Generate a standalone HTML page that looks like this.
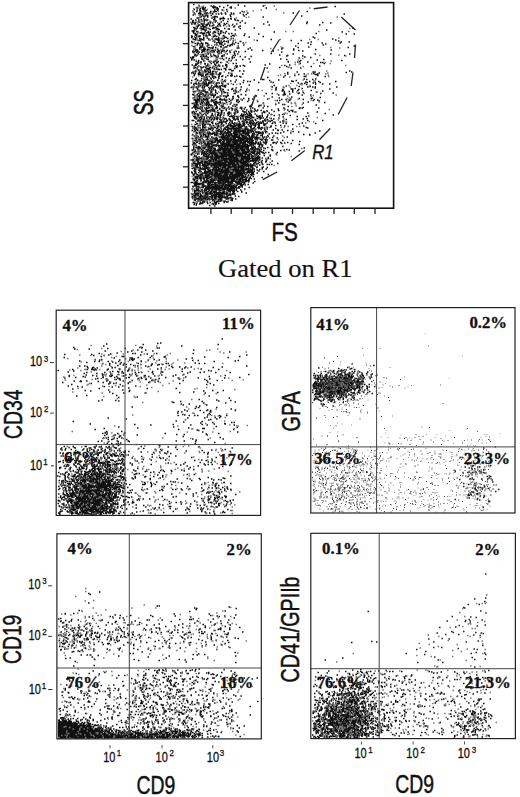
<!DOCTYPE html>
<html><head><meta charset="utf-8"><style>html,body{margin:0;padding:0;background:#fff;overflow:hidden}svg{display:block}</style></head>
<body><svg width="520" height="797" viewBox="0 0 520 797">
<rect width="520" height="797" fill="#fff"/>
<path transform="scale(.5)" stroke="#111" stroke-width="3.2" d="M386 9h3m86 1h3m-24 1h3m-60 1h3m21 0h3m2 0h3m59 0h3m-53 1h3m-36 1h3m16 0h3m1 0h3m-2 0h3m29 0h3m-72 1h3m14 0h3m13 0h3m0 0h3m-3 0h3m2 0h3m10 0h3m10 0h3m-68 1h3m6 0h3m20 0h3m3 0h3m26 0h3m-65 1h3m3 0h3m-4 1h3m1 0h3m21 0h3m-2 0h3m-1 0h3m-51 1h3m15 0h3m-2 0h3m43 0h3m-62 1h3m2 0h3m27 0h3m12 0h3m-47 1h3m4 0h3m2 0h3m14 0h3m3 0h3m-38 1h3m6 0h3m-2 0h3m-20 1h3m25 0h3m4 0h3m0 0h3m-2 0h3m19 0h3m27 0h3m-60 1h3m-31 1h3m-14 1h3m9 0h3m6 0h3m-1 0h3m0 0h3m3 0h3m19 0h3m5 0h3m9 0h3m15 0h3m12 0h3m-101 1h3m-2 0h3m0 0h3m20 0h3m40 0h3m-60 1h3m12 0h3m4 0h3m2 0h3m3 0h3m5 0h3m9 0h3m-76 1h3m11 0h3m4 0h3m72 0h3m3 0h3m-109 1h3m11 0h3m2 0h3m5 0h3m44 0h3m-52 1h3m1 0h3m4 0h3m-19 1h3m2 0h3m74 0h3m-89 1h3m3 0h3m18 0h3m-1 0h3m27 0h3m-63 1h3m11 0h3m8 0h3m5 0h3m9 1h3m-55 1h3m0 0h3m24 0h3m2 0h3m-25 1h3m30 0h3m-1 0h3m0 0h3m0 0h3m10 0h3m-82 1h3m71 0h3m3 0h3m4 0h3m-70 1h3m4 0h3m-1 0h3m13 0h3m-2 0h3m-2 0h3m8 0h3m-52 1h3m3 0h3m-3 0h3m8 0h3m-1 0h3m2 0h3m11 0h3m38 0h3m-87 1h3m14 0h3m7 0h3m-3 0h3m30 0h3m25 0h3m-1 0h3m-94 1h3m44 0h3m49 0h3m-79 1h3m9 0h3m32 0h3m-62 1h3m0 0h3m6 0h3m9 0h3m-2 0h3m6 0h3m9 0h3m-61 1h3m0 0h3m1 0h3m27 0h3m56 0h3m-67 1h3m1 0h3m2 0h3m-44 1h3m3 0h3m9 0h3m33 0h3m7 0h3m2 0h3m-73 1h3m3 0h3m13 0h3m0 0h3m5 0h3m20 0h3m31 0h3m-72 1h3m6 0h3m21 0h3m-1 0h3m8 0h3m12 0h3m-71 1h3m-1 0h3m3 0h3m6 0h3m2 0h3m5 0h3m-3 0h3m-36 1h3m8 0h3m-3 0h3m5 0h3m9 0h3m7 0h3m9 0h3m-57 1h3m0 0h3m7 0h3m2 0h3m5 0h3m-3 0h3m13 0h3m2 0h3m15 0h3m8 0h3m8 0h3m-88 1h3m5 0h3m2 0h3m-10 1h3m5 0h3m20 0h3m32 0h3m7 0h3m-93 1h3m17 0h3m16 0h3m2 0h3m-45 1h3m2 0h3m15 0h3m13 0h3m-41 1h3m7 0h3m-1 0h3m-1 0h3m10 0h3m5 0h3m7 0h3m11 0h3m28 0h3m-3 0h3m-91 1h3m12 0h3m23 0h3m20 0h3m-1 0h3m-57 1h3m-1 0h3m11 0h3m9 0h3m1 0h3m-1 0h3m-53 1h3m18 0h3m0 0h3m55 0h3m-86 1h3m-6 1h3m1 0h3m19 0h3m28 0h3m-1 0h3m-53 1h3m-1 0h3m18 0h3m10 0h3m4 0h3m2 0h3m8 0h3m-69 1h3m-3 0h3m31 0h3m4 0h3m11 0h3m-41 1h3m9 0h3m12 0h3m13 0h3m-62 1h3m5 0h3m2 0h3m0 0h3m2 0h3m1 0h3m2 0h3m30 0h3m-63 1h3m12 0h3m-1 0h3m-3 0h3m-2 0h3m15 0h3m8 0h3m1 0h3m13 0h3m3 0h3m-48 1h3m49 0h3m-80 1h3m10 0h3m-3 0h3m-19 1h3m19 0h3m2 0h3m0 0h3m15 0h3m-34 1h3m20 0h3m14 0h3m15 0h3m-2 0h3m19 0h3m-108 1h3m7 0h3m2 0h3m-1 0h3m8 0h3m0 0h3m11 0h3m15 0h3m19 0h3m-87 1h3m10 0h3m-2 0h3m25 0h3m0 0h3m1 0h3m26 0h3m-76 1h3m57 0h3m46 0h3m-118 1h3m21 0h3m27 0h3m12 0h3m-63 1h3m19 0h3m31 0h3m-60 1h3m5 0h3m40 0h3m0 0h3m7 0h3m4 0h3m1 0h3m-83 1h3m11 0h3m-1 0h3m2 0h3m7 0h3m4 0h3m3 0h3m0 0h3m-2 0h3m0 0h3m5 0h3m-60 1h3m-1 0h3m11 0h3m-3 0h3m10 0h3m12 0h3m-2 0h3m-45 1h3m13 0h3m9 0h3m13 0h3m0 0h3m-45 1h3m0 0h3m25 0h3m-29 1h3m22 0h3m8 0h3m2 0h3m3 0h3m5 0h3m7 0h3m-86 1h3m43 0h3m15 0h3m2 0h3m25 0h3m-2 0h3m-55 1h3m-48 1h3m-2 0h3m48 0h3m0 0h3m-3 0h3m2 0h3m9 0h3m12 0h3m-78 1h3m3 0h3m6 0h3m-3 0h3m-1 0h3m17 0h3m6 0h3m20 0h3m18 0h3m-99 1h3m1 0h3m-1 0h3m3 0h3m0 0h3m3 0h3m1 0h3m58 0h3m-74 1h3m7 0h3m21 0h3m0 0h3m4 0h3m16 0h3m-72 1h3m27 0h3m11 0h3m17 0h3m-72 1h3m2 0h3m3 0h3m9 0h3m13 0h3m24 0h3m1 0h3m20 0h3m-87 1h3m40 0h3m6 0h3m2 0h3m-62 1h3m0 0h3m-3 0h3m7 0h3m42 0h3m14 0h3m-93 1h3m52 0h3m-2 0h3m-56 1h3m9 0h3m0 0h3m19 0h3m13 0h3m5 0h3m-3 0h3m0 0h3m-57 1h3m-1 0h3m3 0h3m6 0h3m-1 0h3m10 0h3m-35 1h3m7 0h3m9 0h3m0 0h3m20 0h3m24 0h3m0 0h3m20 0h3m-94 1h3m13 0h3m-40 1h3m-2 0h3m7 0h3m5 0h3m86 0h3m-108 1h3m13 0h3m-1 0h3m-2 0h3m1 0h3m-1 0h3m-2 0h3m15 0h3m7 0h3m-54 1h3m6 0h3m0 0h3m21 0h3m-41 1h3m-3 0h3m0 0h3m7 0h3m0 0h3m3 0h3m6 0h3m0 0h3m8 0h3m8 0h3m3 0h3m-71 1h3m1 0h3m1 0h3m8 0h3m6 0h3m21 0h3m-3 0h3m3 0h3m0 0h3m9 0h3m-77 1h3m6 0h3m-2 0h3m10 0h3m-2 0h3m8 0h3m-2 0h3m4 0h3m3 0h3m-1 0h3m4 0h3m6 0h3m17 0h3m-87 1h3m7 0h3m3 0h3m8 0h3m8 0h3m9 0h3m27 0h3m6 0h3m-94 1h3m4 0h3m7 0h3m9 0h3m2 0h3m4 0h3m5 0h3m-1 0h3m20 0h3m5 0h3m-51 1h3m-3 0h3m15 0h3m1 0h3m-49 1h3m15 0h3m-21 1h3m17 0h3m18 0h3m14 0h3m12 0h3m3 0h3m-88 1h3m13 0h3m-20 1h3m2 0h3m6 0h3m15 0h3m3 0h3m-3 0h3m18 0h3m-47 1h3m0 0h3m2 0h3m14 0h3m13 0h3m18 0h3m1 0h3m-81 1h3m9 0h3m-1 0h3m-2 0h3m20 0h3m3 0h3m4 0h3m1 0h3m-62 1h3m10 0h3m3 0h3m2 0h3m-2 0h3m6 0h3m-3 0h3m8 0h3m8 0h3m33 0h3m-98 1h3m22 0h3m51 0h3m23 0h3m-112 1h3m2 0h3m27 0h3m16 0h3m30 0h3m-68 1h3m26 0h3m17 0h3m-72 1h3m-1 0h3m15 0h3m3 0h3m28 0h3m1 0h3m11 0h3m3 0h3m-63 1h3m6 0h3m-12 1h3m-2 0h3m8 0h3m-3 0h3m28 0h3m35 0h3m-105 1h3m2 0h3m43 0h3m35 0h3m-78 1h3m31 0h3m-2 0h3m-1 0h3m20 0h3m2 0h3m-58 1h3m22 0h3m-43 1h3m1 0h3m19 0h3m-3 0h3m8 0h3m4 0h3m-38 1h3m-2 0h3m15 0h3m3 0h3m25 0h3m-56 1h3m23 0h3m3 0h3m-1 0h3m3 0h3m-48 1h3m34 0h3m-41 1h3m11 0h3m10 0h3m41 0h3m3 0h3m-84 1h3m0 0h3m13 0h3m16 0h3m-17 1h3m11 0h3m19 0h3m-2 0h3m-71 1h3m5 0h3m36 0h3m3 0h3m13 0h3m-66 1h3m22 0h3m13 0h3m17 0h3m-1 0h3m-68 1h3m6 0h3m12 0h3m1 0h3m20 0h3m3 0h3m23 0h3m0 0h3m3 0h3m6 0h3m-66 1h3m6 0h3m-43 1h3m3 0h3m3 0h3m43 0h3m-65 1h3m10 0h3m4 0h3m5 0h3m-2 0h3m9 0h3m38 0h3m-89 1h3m-1 0h3m32 0h3m-14 1h3m0 0h3m9 0h3m17 0h3m-1 0h3m16 0h3m-78 1h3m5 0h3m13 0h3m12 0h3m-1 0h3m13 0h3m-37 1h3m8 0h3m4 0h3m0 0h3m1 0h3m13 0h3m0 0h3m-67 1h3m-3 0h3m9 0h3m1 0h3m4 0h3m28 0h3m-44 1h3m2 0h3m48 0h3m-79 1h3m5 0h3m3 0h3m13 0h3m40 0h3m13 0h3m5 0h3m-98 1h3m17 0h3m1 0h3m6 0h3m-1 0h3m-45 1h3m0 0h3m14 0h3m1 0h3m-2 0h3m11 0h3m4 0h3m-2 0h3m-49 1h3m-2 0h3m9 0h3m15 0h3m0 0h3m-3 0h3m-40 1h3m4 0h3m4 0h3m-2 0h3m-1 0h3m3 0h3m30 0h3m-1 0h3m13 0h3m-73 1h3m8 0h3m0 0h3m1 0h3m7 0h3m7 0h3m35 0h3m-77 1h3m4 0h3m0 0h3m3 0h3m-2 0h3m13 0h3m2 0h3m2 0h3m5 0h3m42 0h3m-91 1h3m-2 0h3m10 0h3m0 0h3m-2 0h3m2 0h3m13 0h3m0 0h3m-41 1h3m-1 0h3m18 0h3m36 0h3m-78 1h3m20 0h3m41 0h3m3 0h3m0 0h3m-64 1h3m0 0h3m15 0h3m-2 0h3m10 0h3m4 0h3m14 0h3m8 0h3m-58 1h3m4 0h3m-1 0h3m13 0h3m23 0h3m7 0h3m-74 1h3m2 0h3m9 0h3m2 0h3m4 0h3m11 0h3m27 0h3m-74 1h3m-3 0h3m18 0h3m3 0h3m-19 1h3m-32 1h3m8 0h3m8 0h3m10 0h3m7 0h3m-30 1h3m9 0h3m-35 1h3m14 0h3m-2 0h3m-1 0h3m-2 0h3m30 0h3m-3 0h3m-53 1h3m17 0h3m-2 0h3m54 0h3m-92 1h3m9 0h3m4 0h3m4 0h3m6 0h3m14 0h3m11 0h3m35 0h3m-65 1h3m33 0h3m-53 1h3m7 0h3m22 0h3m1 0h3m42 0h3m-92 1h3m11 0h3m-1 0h3m45 0h3m-65 1h3m-1 0h3m-1 0h3m2 0h3m66 0h3m-107 1h3m7 0h3m2 0h3m20 0h3m-3 0h3m-1 0h3m1 0h3m4 0h3m-2 0h3m-1 0h3m-1 0h3m2 0h3m-58 1h3m-2 0h3m0 0h3m10 0h3m1 0h3m-2 0h3m4 0h3m-27 1h3m2 0h3m-2 0h3m-1 0h3m6 0h3m0 0h3m-3 0h3m1 0h3m12 0h3m10 0h3m8 0h3m21 0h3m-96 1h3m10 0h3m5 0h3m4 0h3m48 0h3m-81 1h3m16 0h3m6 0h3m79 0h3m-105 1h3m2 0h3m8 0h3m8 0h3m7 0h3m7 0h3m3 0h3m-1 0h3m-56 1h3m4 0h3m6 0h3m13 0h3m0 0h3m4 0h3m2 0h3m-51 1h3m-2 0h3m-2 0h3m7 0h3m19 0h3m1 0h3m1 0h3m6 0h3m-67 1h3m0 0h3m2 0h3m1 0h3m23 0h3m2 0h3m-2 0h3m2 0h3m4 0h3m7 0h3m-71 1h3m19 0h3m10 0h3m16 0h3m-34 1h3m0 0h3m10 0h3m1 0h3m12 0h3m29 0h3m-81 1h3m9 0h3m10 0h3m43 0h3m-82 1h3m37 0h3m35 0h3m-71 1h3m7 0h3m14 0h3m14 0h3m2 0h3m-3 0h3m-2 0h3m14 0h3m15 0h3m-89 1h3m20 0h3m2 0h3m-1 0h3m2 0h3m23 0h3m11 0h3m-74 1h3m6 0h3m-3 0h3m11 0h3m16 0h3m27 0h3m6 0h3m-80 1h3m-1 0h3m-2 0h3m0 0h3m19 0h3m9 0h3m-60 1h3m0 0h3m-2 0h3m5 0h3m1 0h3m5 0h3m9 0h3m22 0h3m-3 0h3m-48 1h3m5 0h3m0 0h3m-2 0h3m4 0h3m-1 0h3m17 0h3m26 0h3m1 0h3m-91 1h3m20 0h3m1 0h3m4 0h3m6 0h3m14 0h3m0 0h3m-54 1h3m52 0h3m-62 1h3m6 0h3m6 0h3m-3 0h3m17 0h3m31 0h3m-1 0h3m-71 1h3m13 0h3m-2 0h3m3 0h3m15 0h3m-61 1h3m-2 0h3m-2 0h3m4 0h3m2 0h3m4 0h3m-2 0h3m1 0h3m-2 0h3m6 0h3m6 0h3m-46 1h3m-3 0h3m32 0h3m-2 0h3m4 0h3m22 0h3m33 0h3m-102 1h3m11 0h3m7 0h3m3 0h3m1 0h3m0 0h3m24 0h3m-64 1h3m0 0h3m-2 0h3m7 0h3m-3 0h3m-2 0h3m14 0h3m10 0h3m4 0h3m-1 0h3m2 0h3m19 0h3m-81 1h3m13 0h3m34 0h3m12 0h3m-80 1h3m9 0h3m-1 0h3m4 0h3m14 0h3m4 0h3m-1 0h3m26 0h3m-70 1h3m26 0h3m22 0h3m22 0h3m-94 1h3m5 0h3m15 0h3m3 0h3m12 0h3m-38 1h3m6 0h3m3 0h3m-2 0h3m-2 0h3m22 0h3m54 0h3m-100 1h3m-1 0h3m43 0h3m-3 0h3m7 0h3m-73 1h3m-1 0h3m2 0h3m8 0h3m-1 0h3m-1 0h3m-1 0h3m8 0h3m5 0h3m5 0h3m-1 0h3m-1 0h3m-58 1h3m2 0h3m0 0h3m0 0h3m6 0h3m0 0h3m1 0h3m10 0h3m12 0h3m-1 0h3m1 0h3m-2 0h3m0 0h3m17 0h3m0 0h3m5 0h3m-96 1h3m0 0h3m-2 0h3m5 0h3m8 0h3m8 0h3m-30 1h3m22 0h3m-1 0h3m23 0h3m-63 1h3m-1 0h3m-2 0h3m9 0h3m5 0h3m-2 0h3m4 0h3m6 0h3m-1 0h3m4 0h3m15 0h3m12 0h3m-84 1h3m7 0h3m12 0h3m7 0h3m1 0h3m-39 1h3m15 0h3m0 0h3m8 0h3m-1 0h3m6 0h3m12 0h3m6 0h3m-74 1h3m-3 0h3m0 0h3m-3 0h3m7 0h3m1 0h3m1 0h3m19 0h3m-2 0h3m3 0h3m-60 1h3m-2 0h3m0 0h3m9 0h3m-3 0h3m1 0h3m5 0h3m2 0h3m11 0h3m12 0h3m0 0h3m-43 1h3m0 0h3m14 0h3m28 0h3m-70 1h3m5 0h3m8 0h3m-1 0h3m1 0h3m17 0h3m4 0h3m-2 0h3m-3 0h3m20 0h3m1 0h3m-87 1h3m-3 0h3m-2 0h3m3 0h3m20 0h3m0 0h3m4 0h3m0 0h3m-47 1h3m-2 0h3m0 0h3m10 0h3m4 0h3m2 0h3m22 0h3m-41 1h3m9 0h3m3 0h3m-1 0h3m15 0h3m-1 0h3m-2 0h3m17 0h3m-79 1h3m1 0h3m26 0h3m8 0h3m10 0h3m-62 1h3m-2 0h3m1 0h3m-2 0h3m1 0h3m1 0h3m30 0h3m6 0h3m11 0h3m-71 1h3m3 0h3m-1 0h3m13 0h3m2 0h3m4 0h3m4 0h3m14 0h3m21 0h3m7 0h3m-102 1h3m3 0h3m11 0h3m2 0h3m5 0h3m5 0h3m6 0h3m9 0h3m13 0h3m15 0h3m-89 1h3m0 0h3m-2 0h3m13 0h3m14 0h3m-2 0h3m4 0h3m6 0h3m13 0h3m-66 1h3m7 0h3m11 0h3m11 0h3m10 0h3m3 0h3m10 0h3m-83 1h3m18 0h3m7 0h3m3 0h3m-26 1h3m56 0h3m2 0h3m-69 1h3m10 0h3m0 0h3m-1 0h3m1 0h3m7 0h3m4 0h3m0 0h3m4 0h3m-48 1h3m3 0h3m5 0h3m4 0h3m-2 0h3m38 0h3m-86 1h3m2 0h3m9 0h3m-2 0h3m-1 0h3m11 0h3m5 0h3m11 0h3m41 0h3m7 0h3m-116 1h3m25 0h3m1 0h3m39 0h3m28 0h3m-104 1h3m8 0h3m33 0h3m5 0h3m-62 1h3m51 0h3m18 0h3m6 0h3m27 0h3m-110 1h3m7 0h3m5 0h3m-1 0h3m1 0h3m6 0h3m10 0h3m15 0h3m3 0h3m-76 1h3m4 0h3m13 0h3m27 0h3m14 0h3m-72 1h3m-1 0h3m12 0h3m26 0h3m-1 0h3m50 0h3m-96 1h3m24 0h3m3 0h3m4 0h3m1 0h3m-49 1h3m6 0h3m5 0h3m7 0h3m10 0h3m9 0h3m13 0h3m30 0h3m-59 1h3m20 0h3m1 0h3m-83 1h3m0 0h3m3 0h3m4 0h3m34 0h3m16 0h3m2 0h3m-78 1h3m4 0h3m1 0h3m-1 0h3m3 0h3m4 0h3m3 0h3m8 0h3m39 0h3m-86 1h3m9 0h3m7 0h3m2 0h3m-2 0h3m6 0h3m0 0h3m0 0h3m8 0h3m33 0h3m-95 1h3m-1 0h3m-1 0h3m-3 0h3m3 0h3m6 0h3m13 0h3m13 0h3m3 0h3m18 0h3m16 0h3m-86 1h3m7 0h3m-3 0h3m19 0h3m-46 1h3m8 0h3m13 0h3m6 0h3m1 0h3m-3 0h3m17 0h3m3 0h3m-63 1h3m0 0h3m3 0h3m13 0h3m8 0h3m2 0h3m-2 0h3m24 0h3m-74 1h3m10 0h3m4 0h3m-3 0h3m3 0h3m2 0h3m12 0h3m-61 1h3m-1 0h3m-3 0h3m-3 0h3m-2 0h3m7 0h3m-2 0h3m-3 0h3m0 0h3m2 0h3m0 0h3m2 0h3m-2 0h3m-2 0h3m22 0h3m10 0h3m-62 1h3m1 0h3m6 0h3m3 0h3m25 0h3m8 0h3m8 0h3m19 0h3m12 0h3m-97 1h3m1 0h3m5 0h3m23 0h3m-57 1h3m6 0h3m1 0h3m0 0h3m15 0h3m14 0h3m2 0h3m-27 1h3m17 0h3m13 0h3m-56 1h3m3 0h3m29 0h3m22 0h3m7 0h3m-88 1h3m28 0h3m3 0h3m3 0h3m39 0h3m6 0h3m-98 1h3m8 0h3m0 0h3m5 0h3m-2 0h3m16 0h3m4 0h3m22 0h3m16 0h3m-99 1h3m17 0h3m6 0h3m10 0h3m8 0h3m43 0h3m-83 1h3m-3 0h3m8 0h3m24 0h3m8 0h3m-64 1h3m0 0h3m2 0h3m18 0h3m7 0h3m-3 0h3m16 0h3m-51 1h3m10 0h3m-2 0h3m16 0h3m-2 0h3m2 0h3m16 0h3m-84 1h3m1 0h3m15 0h3m27 0h3m26 0h3m1 0h3m-76 1h3m6 0h3m3 0h3m8 0h3m15 0h3m-1 0h3m10 0h3m23 0h3m-93 1h3m11 0h3m-3 0h3m-1 0h3m-2 0h3m14 0h3m-1 0h3m0 0h3m21 0h3m-71 1h3m1 0h3m-2 0h3m6 0h3m2 0h3m1 0h3m10 0h3m10 0h3m18 0h3m20 0h3m-95 1h3m3 0h3m24 0h3m10 0h3m27 0h3m-3 0h3m0 0h3m-52 1h3m22 0h3m3 0h3m-2 0h3m-63 1h3m1 0h3m7 0h3m1 0h3m1 0h3m2 0h3m1 0h3m72 0h3m-104 1h3m4 0h3m0 0h3m1 0h3m1 0h3m21 0h3m14 0h3m32 0h3m-107 1h3m3 0h3m7 0h3m9 0h3m9 0h3m5 0h3m-1 0h3m-47 1h3m13 0h3m28 0h3m15 0h3m10 0h3m-83 1h3m49 0h3m-1 0h3m5 0h3m29 0h3m-93 1h3m-3 0h3m-3 0h3m4 0h3m1 0h3m1 0h3m-1 0h3m3 0h3m-1 0h3m21 0h3m1 0h3m-42 1h3m9 0h3m8 0h3m35 0h3m0 0h3m-1 0h3m-82 1h3m-1 0h3m-3 0h3m1 0h3m-2 0h3m11 0h3m3 0h3m3 0h3m-1 0h3m10 0h3m25 0h3m-80 1h3m-2 0h3m21 0h3m4 0h3m-21 1h3m11 0h3m1 0h3m4 0h3m13 0h3m10 0h3m-78 1h3m12 0h3m0 0h3m2 0h3m0 0h3m2 0h3m10 0h3m-2 0h3m-2 0h3m-1 0h3m4 0h3m32 0h3m-71 1h3m-17 1h3m6 0h3m24 0h3m1 0h3m-3 0h3m-1 0h3m12 0h3m-1 0h3m4 0h3m25 0h3m-102 1h3m0 0h3m-2 0h3m16 0h3m3 0h3m26 0h3m1 0h3m7 0h3m-67 1h3m2 0h3m2 0h3m5 0h3m25 0h3m9 0h3m13 0h3m25 0h3m-99 1h3m5 0h3m-2 0h3m3 0h3m18 0h3m8 0h3m9 0h3m5 0h3m0 0h3m3 0h3m-88 1h3m28 0h3m15 0h3m-55 1h3m5 0h3m-2 0h3m-2 0h3m0 0h3m-2 0h3m18 0h3m-1 0h3m19 0h3m4 0h3m-75 1h3m-2 0h3m6 0h3m6 0h3m-2 0h3m27 0h3m17 0h3m0 0h3m10 0h3m5 0h3m18 0h3m-110 1h3m2 0h3m0 0h3m17 0h3m1 0h3m6 0h3m-2 0h3m7 0h3m22 0h3m-73 1h3m10 0h3m-1 0h3m-2 0h3m7 0h3m6 0h3m-3 0h3m3 0h3m-37 1h3m-21 1h3m0 0h3m3 0h3m-3 0h3m1 0h3m24 0h3m-2 0h3m-1 0h3m-2 0h3m3 0h3m46 0h3m3 0h3m-102 1h3m11 0h3m8 0h3m-3 0h3m0 0h3m-2 0h3m-2 0h3m-3 0h3m9 0h3m9 0h3m11 0h3m1 0h3m-76 1h3m3 0h3m7 0h3m2 0h3m13 0h3m4 0h3m7 0h3m3 0h3m19 0h3m-56 1h3m0 0h3m27 0h3m29 0h3m-104 1h3m-3 0h3m-2 0h3m3 0h3m6 0h3m10 0h3m4 0h3m0 0h3m-1 0h3m-2 0h3m5 0h3m-50 1h3m11 0h3m9 0h3m5 0h3m8 0h3m8 0h3m15 0h3m-68 1h3m9 0h3m3 0h3m4 0h3m16 0h3m8 0h3m-69 1h3m-3 0h3m0 0h3m9 0h3m4 0h3m3 0h3m1 0h3m12 0h3m19 0h3m-74 1h3m-1 0h3m18 0h3m-2 0h3m1 0h3m-2 0h3m7 0h3m18 0h3m1 0h3m-2 0h3m0 0h3m36 0h3m-86 1h3m3 0h3m9 0h3m0 0h3m26 0h3m26 0h3m-104 1h3m2 0h3m17 0h3m1 0h3m7 0h3m0 0h3m-2 0h3m-2 0h3m23 0h3m5 0h3m32 0h3m2 0h3m-105 1h3m0 0h3m9 0h3m16 0h3m8 0h3m1 0h3m-68 1h3m7 0h3m38 0h3m4 0h3m3 0h3m5 0h3m-68 1h3m9 0h3m1 0h3m1 0h3m-2 0h3m-2 0h3m18 0h3m-3 0h3m51 0h3m-103 1h3m0 0h3m-1 0h3m-1 0h3m7 0h3m4 0h3m5 0h3m24 0h3m2 0h3m4 0h3m9 0h3m-3 0h3m-90 1h3m4 0h3m4 0h3m1 0h3m-2 0h3m-3 0h3m7 0h3m2 0h3m15 0h3m-36 1h3m0 0h3m4 0h3m1 0h3m6 0h3m11 0h3m18 0h3m-80 1h3m7 0h3m-2 0h3m15 0h3m11 0h3m22 0h3m2 0h3m9 0h3m-73 1h3m0 0h3m-3 0h3m15 0h3m2 0h3m12 0h3m-2 0h3m-3 0h3m-63 1h3m3 0h3m64 0h3m-76 1h3m-2 0h3m8 0h3m5 0h3m9 0h3m17 0h3m1 0h3m13 0h3m5 0h3m5 0h3m-79 1h3m5 0h3m9 0h3m-2 0h3m-3 0h3m0 0h3m5 0h3m-1 0h3m2 0h3m-1 0h3m-2 0h3m-2 0h3m2 0h3m10 0h3m29 0h3m-103 1h3m-2 0h3m-2 0h3m4 0h3m0 0h3m4 0h3m1 0h3m-2 0h3m-1 0h3m1 0h3m13 0h3m49 0h3m-102 1h3m12 0h3m2 0h3m1 0h3m5 0h3m1 0h3m-2 0h3m4 0h3m3 0h3m-2 0h3m5 0h3m25 0h3m12 0h3m-2 0h3m-100 1h3m7 0h3m11 0h3m-2 0h3m7 0h3m-3 0h3m1 0h3m-2 0h3m45 0h3m17 0h3m-120 1h3m3 0h3m1 0h3m-1 0h3m6 0h3m-2 0h3m12 0h3m12 0h3m1 0h3m16 0h3m11 0h3m-82 1h3m15 0h3m9 0h3m10 0h3m0 0h3m-2 0h3m0 0h3m-2 0h3m-66 1h3m17 0h3m1 0h3m-2 0h3m-1 0h3m-2 0h3m-1 0h3m33 0h3m6 0h3m9 0h3m-91 1h3m3 0h3m12 0h3m1 0h3m8 0h3m3 0h3m1 0h3m21 0h3m23 0h3m17 0h3m-118 1h3m23 0h3m-1 0h3m-2 0h3m25 0h3m10 0h3m-1 0h3m3 0h3m-53 1h3m2 0h3m14 0h3m35 0h3m-85 1h3m20 0h3m-1 0h3m-2 0h3m-2 0h3m-3 0h3m28 0h3m2 0h3m-67 1h3m16 0h3m-1 0h3m8 0h3m-1 0h3m29 0h3m1 0h3m20 0h3m-1 0h3m-94 1h3m3 0h3m11 0h3m13 0h3m-1 0h3m-1 0h3m2 0h3m29 0h3m5 0h3m-88 1h3m0 0h3m7 0h3m9 0h3m17 0h3m22 0h3m-70 1h3m4 0h3m16 0h3m-2 0h3m19 0h3m-2 0h3m26 0h3m-82 1h3m0 0h3m-2 0h3m-2 0h3m22 0h3m6 0h3m8 0h3m-54 1h3m1 0h3m2 0h3m-3 0h3m1 0h3m0 0h3m-2 0h3m11 0h3m-3 0h3m-1 0h3m2 0h3m4 0h3m1 0h3m11 0h3m1 0h3m19 0h3m-101 1h3m-1 0h3m2 0h3m1 0h3m14 0h3m16 0h3m19 0h3m20 0h3m-98 1h3m2 0h3m-3 0h3m2 0h3m9 0h3m11 0h3m10 0h3m7 0h3m5 0h3m0 0h3m-70 1h3m4 0h3m0 0h3m4 0h3m22 0h3m4 0h3m15 0h3m16 0h3m-78 1h3m6 0h3m1 0h3m8 0h3m0 0h3m-3 0h3m9 0h3m10 0h3m-2 0h3m-62 1h3m2 0h3m-3 0h3m9 0h3m0 0h3m8 0h3m-1 0h3m-2 0h3m-2 0h3m8 0h3m-52 1h3m18 0h3m2 0h3m9 0h3m10 0h3m29 0h3m9 0h3m-99 1h3m9 0h3m-1 0h3m0 0h3m3 0h3m1 0h3m14 0h3m7 0h3m7 0h3m1 0h3m4 0h3m11 0h3m-77 1h3m0 0h3m3 0h3m5 0h3m0 0h3m8 0h3m-47 1h3m-2 0h3m-2 0h3m-1 0h3m-1 0h3m1 0h3m14 0h3m1 0h3m1 0h3m0 0h3m-1 0h3m49 0h3m-97 1h3m-2 0h3m3 0h3m0 0h3m6 0h3m4 0h3m14 0h3m-1 0h3m13 0h3m-3 0h3m22 0h3m2 0h3m4 0h3m-103 1h3m4 0h3m13 0h3m6 0h3m5 0h3m-1 0h3m0 0h3m15 0h3m8 0h3m15 0h3m-93 1h3m3 0h3m15 0h3m28 0h3m5 0h3m12 0h3m5 0h3m-81 1h3m7 0h3m-2 0h3m16 0h3m11 0h3m1 0h3m36 0h3m-2 0h3m-101 1h3m2 0h3m0 0h3m-1 0h3m2 0h3m7 0h3m0 0h3m10 0h3m-2 0h3m34 0h3m-76 1h3m16 0h3m-2 0h3m-1 0h3m8 0h3m1 0h3m1 0h3m0 0h3m3 0h3m23 0h3m4 0h3m-87 1h3m1 0h3m4 0h3m7 0h3m3 0h3m8 0h3m-1 0h3m2 0h3m25 0h3m-78 1h3m-1 0h3m-2 0h3m2 0h3m-1 0h3m5 0h3m-3 0h3m-1 0h3m37 0h3m15 0h3m10 0h3m8 0h3m-105 1h3m3 0h3m4 0h3m48 0h3m-70 1h3m15 0h3m-1 0h3m4 0h3m0 0h3m-3 0h3m-3 0h3m13 0h3m36 0h3m-83 1h3m-3 0h3m10 0h3m-3 0h3m-2 0h3m0 0h3m0 0h3m18 0h3m5 0h3m23 0h3m-77 1h3m-2 0h3m4 0h3m-2 0h3m22 0h3m-1 0h3m1 0h3m3 0h3m-50 1h3m5 0h3m17 0h3m15 0h3m-2 0h3m-1 0h3m11 0h3m-2 0h3m3 0h3m0 0h3m-77 1h3m29 0h3m-24 1h3m15 0h3m11 0h3m-3 0h3m4 0h3m20 0h3m7 0h3m-83 1h3m8 0h3m4 0h3m1 0h3m0 0h3m8 0h3m2 0h3m-2 0h3m4 0h3m-1 0h3m3 0h3m35 0h3m11 0h3m-120 1h3m3 0h3m17 0h3m-1 0h3m1 0h3m-2 0h3m2 0h3m-1 0h3m3 0h3m26 0h3m1 0h3m16 0h3m-87 1h3m16 0h3m6 0h3m9 0h3m1 0h3m14 0h3m32 0h3m-112 1h3m4 0h3m8 0h3m0 0h3m1 0h3m4 0h3m-2 0h3m-1 0h3m1 0h3m4 0h3m0 0h3m56 0h3m-92 1h3m2 0h3m-1 0h3m5 0h3m-2 0h3m0 0h3m9 0h3m-1 0h3m4 0h3m30 0h3m-66 1h3m4 0h3m32 0h3m23 0h3m6 0h3m-107 1h3m-2 0h3m4 0h3m-2 0h3m1 0h3m0 0h3m35 0h3m-40 1h3m-3 0h3m-2 0h3m16 0h3m3 0h3m3 0h3m-2 0h3m-52 1h3m-3 0h3m5 0h3m0 0h3m-2 0h3m15 0h3m12 0h3m1 0h3m-1 0h3m2 0h3m-1 0h3m2 0h3m0 0h3m14 0h3m-73 1h3m5 0h3m17 0h3m17 0h3m9 0h3m2 0h3m-78 1h3m0 0h3m17 0h3m-3 0h3m0 0h3m1 0h3m17 0h3m0 0h3m7 0h3m15 0h3m0 0h3m-87 1h3m7 0h3m-1 0h3m16 0h3m11 0h3m-2 0h3m9 0h3m14 0h3m6 0h3m0 0h3m15 0h3m-106 1h3m0 0h3m10 0h3m2 0h3m1 0h3m11 0h3m2 0h3m-2 0h3m0 0h3m4 0h3m8 0h3m11 0h3m-76 1h3m3 0h3m8 0h3m8 0h3m-1 0h3m4 0h3m0 0h3m4 0h3m-62 1h3m-1 0h3m0 0h3m-1 0h3m2 0h3m0 0h3m1 0h3m8 0h3m8 0h3m4 0h3m5 0h3m10 0h3m6 0h3m0 0h3m10 0h3m0 0h3m-101 1h3m-2 0h3m5 0h3m9 0h3m3 0h3m6 0h3m12 0h3m10 0h3m-67 1h3m-2 0h3m31 0h3m-2 0h3m0 0h3m7 0h3m1 0h3m15 0h3m3 0h3m-78 1h3m10 0h3m-3 0h3m9 0h3m4 0h3m0 0h3m5 0h3m9 0h3m15 0h3m-2 0h3m-2 0h3m-78 1h3m21 0h3m-3 0h3m-2 0h3m-1 0h3m-1 0h3m4 0h3m-2 0h3m33 0h3m30 0h3m-105 1h3m25 0h3m39 0h3m2 0h3m-77 1h3m15 0h3m-3 0h3m41 0h3m16 0h3m-87 1h3m13 0h3m-2 0h3m-3 0h3m7 0h3m3 0h3m29 0h3m2 0h3m13 0h3m-97 1h3m0 0h3m17 0h3m2 0h3m0 0h3m2 0h3m3 0h3m3 0h3m2 0h3m0 0h3m-2 0h3m-1 0h3m4 0h3m-62 1h3m-2 0h3m0 0h3m19 0h3m0 0h3m16 0h3m-1 0h3m0 0h3m1 0h3m7 0h3m18 0h3m-92 1h3m6 0h3m0 0h3m0 0h3m14 0h3m7 0h3m7 0h3m6 0h3m11 0h3m-75 1h3m6 0h3m12 0h3m17 0h3m-1 0h3m-1 0h3m1 0h3m11 0h3m4 0h3m-73 1h3m0 0h3m-1 0h3m2 0h3m0 0h3m6 0h3m3 0h3m1 0h3m-3 0h3m40 0h3m-83 1h3m0 0h3m9 0h3m18 0h3m-3 0h3m1 0h3m-1 0h3m6 0h3m-39 1h3m12 0h3m16 0h3m1 0h3m-1 0h3m13 0h3m9 0h3m-87 1h3m-1 0h3m-1 0h3m11 0h3m1 0h3m1 0h3m-1 0h3m3 0h3m3 0h3m3 0h3m13 0h3m-1 0h3m-2 0h3m-71 1h3m7 0h3m-2 0h3m-2 0h3m4 0h3m7 0h3m2 0h3m23 0h3m20 0h3m-67 1h3m4 0h3m0 0h3m0 0h3m7 0h3m-1 0h3m13 0h3m31 0h3m2 0h3m-93 1h3m-1 0h3m-3 0h3m0 0h3m-2 0h3m11 0h3m4 0h3m-2 0h3m14 0h3m8 0h3m-61 1h3m20 0h3m2 0h3m-1 0h3m3 0h3m6 0h3m27 0h3m-59 1h3m6 0h3m-39 1h3m6 0h3m-2 0h3m-1 0h3m10 0h3m1 0h3m10 0h3m1 0h3m23 0h3m-71 1h3m3 0h3m-2 0h3m5 0h3m10 0h3m-2 0h3m10 0h3m-38 1h3m-1 0h3m4 0h3m3 0h3m9 0h3m0 0h3m5 0h3m17 0h3m10 0h3m-1 0h3m-79 1h3m8 0h3m6 0h3m13 0h3m1 0h3m-46 1h3m4 0h3m0 0h3m44 0h3m5 0h3m-68 1h3m0 0h3m-2 0h3m4 0h3m56 0h3m6 0h3m4 0h3m-84 1h3m-2 0h3m0 0h3m3 0h3m2 0h3m2 0h3m3 0h3m3 0h3m-1 0h3m1 0h3m-37 1h3m7 0h3m-3 0h3m-1 0h3m-3 0h3m-3 0h3m-3 0h3m-1 0h3m7 0h3m-3 0h3m-2 0h3m-3 0h3m-2 0h3m14 0h3m-55 1h3m13 0h3m10 0h3m-3 0h3m0 0h3m2 0h3m23 0h3m0 0h3m-70 1h3m-2 0h3m0 0h3m0 0h3m2 0h3m-3 0h3m8 0h3m13 0h3m3 0h3m2 0h3m-58 1h3m9 0h3m-2 0h3m12 0h3m-3 0h3m1 0h3m0 0h3m-2 0h3m3 0h3m-1 0h3m7 0h3m9 0h3m12 0h3m0 0h3m-85 1h3m4 0h3m-1 0h3m34 0h3m0 0h3m17 0h3m-70 1h3m3 0h3m-1 0h3m2 0h3m9 0h3m0 0h3m5 0h3m-2 0h3m2 0h3m-43 1h3m-2 0h3m-1 0h3m-2 0h3m5 0h3m22 0h3m0 0h3m-2 0h3m22 0h3m-68 1h3m-2 0h3m2 0h3m1 0h3m4 0h3m4 0h3m7 0h3m17 0h3m-63 1h3m-2 0h3m-3 0h3m1 0h3m-2 0h3m-2 0h3m10 0h3m2 0h3m9 0h3m5 0h3m8 0h3m-58 1h3m1 0h3m6 0h3m-2 0h3m-1 0h3m10 0h3m-1 0h3m-2 0h3m-1 0h3m1 0h3m4 0h3m10 0h3m-62 1h3m-1 0h3m3 0h3m2 0h3m1 0h3m9 0h3m14 0h3m12 0h3m13 0h3m-57 1h3m-1 0h3m-1 0h3m6 0h3m-2 0h3m-39 1h3m-3 0h3m2 0h3m1 0h3m-2 0h3m-2 0h3m-2 0h3m1 0h3m5 0h3m4 0h3m5 0h3m2 0h3m-2 0h3m6 0h3m0 0h3m8 0h3m-66 1h3m-1 0h3m0 0h3m0 0h3m3 0h3m-1 0h3m9 0h3m2 0h3m6 0h3m4 0h3m-2 0h3m9 0h3m-52 1h3m7 0h3m3 0h3m-2 0h3m4 0h3m-33 1h3m2 0h3m-1 0h3m4 0h3m-24 1h3m11 0h3m-3 0h3m-2 0h3m17 0h3m14 0h3m-50 1h3m-2 0h3m-3 0h3m-3 0h3m-2 0h3m-1 0h3m3 0h3m-2 0h3m0 0h3m13 0h3m1 0h3m4 0h3m-34 2h3m6 0h3m12 0h3m1 0h3m17 0h3m-70 1h3m-3 0h3m4 0h3m5 0h3m16 0h3m7 0h3m15 0h3m-62 1h3m8 0h3m-10 1h3m5 0h3m-1 0h3m9 0h3m9 0h3m2 0h3m-36 1h3m22 0h3m4 0h3m-46 1h3m36 0h3m-38 1h3m24 1h3m7 1h3"/>
<path transform="scale(.5)" stroke="#777" stroke-width="3.2" d="M396 10h3m6 2h3m-7 2h3m-13 2h3m2 0h3m70 0h3m-86 1h3m41 1h3m-20 1h3m30 2h3m-65 1h3m19 0h3m43 0h3m-53 1h3m17 0h3m10 0h3m-53 1h3m19 1h3m6 2h3m-30 1h3m40 0h3m-25 1h3m53 0h3m-73 1h3m8 0h3m-11 2h3m23 1h3m-30 1h3m6 1h3m81 0h3m-72 1h3m46 0h3m-63 3h3m-16 1h3m-10 2h3m8 0h3m21 0h3m-25 1h3m11 0h3m-41 2h3m51 1h3m-43 1h3m-13 1h3m22 1h3m44 0h3m-66 2h3m67 0h3m-75 1h3m27 0h3m12 0h3m-4 1h3m14 0h3m-55 2h3m11 1h3m-28 5h3m9 0h3m29 0h3m-43 4h3m28 1h3m6 0h3m21 2h3m-33 1h3m-15 2h3m53 0h3m-64 2h3m10 0h3m-1 2h3m-35 1h3m47 2h3m15 0h3m-70 2h3m20 0h3m39 0h3m7 0h3m-46 2h3m-4 1h3m11 0h3m-55 1h3m100 1h3m-7 2h3m-91 1h3m32 1h3m-8 1h3m-49 1h3m16 0h3m18 0h3m-36 1h3m44 0h3m-32 2h3m-23 3h3m44 0h3m7 0h3m-59 1h3m10 0h3m26 0h3m-15 1h3m19 0h3m2 0h3m-21 1h3m32 0h3m-80 1h3m30 0h3m18 0h3m27 0h3m-58 2h3m30 0h3m-30 2h3m0 0h3m-1 0h3m8 0h3m-51 1h3m58 0h3m-42 1h3m0 0h3m-8 1h3m-17 1h3m2 0h3m33 0h3m-35 2h3m40 1h3m-61 1h3m33 0h3m6 0h3m-33 2h3m4 0h3m-2 0h3m-7 2h3m22 0h3m5 0h3m-52 3h3m39 0h3m20 0h3m-32 1h3m-2 0h3m-23 1h3m5 0h3m1 0h3m9 0h3m25 0h3m-42 1h3m27 0h3m-56 2h3m41 0h3m-31 2h3m39 0h3m-59 1h3m13 2h3m-1 1h3m-25 1h3m34 0h3m-22 1h3m10 0h3m-1 1h3m36 0h3m-38 3h3m-45 1h3m35 1h3m-33 2h3m10 0h3m2 0h3m-28 1h3m7 0h3m-21 1h3m17 0h3m26 0h3m26 0h3m-78 1h3m57 0h3m-43 1h3m-22 1h3m10 0h3m0 0h3m4 0h3m-9 1h3m52 0h3m-67 5h3m15 1h3m-33 1h3m21 0h3m-6 3h3m1 0h3m-6 2h3m26 0h3m12 1h3m-56 2h3m19 0h3m19 0h3m-53 1h3m5 0h3m26 1h3m13 0h3m-38 1h3m-11 2h3m16 0h3m12 0h3m15 0h3m5 0h3m-35 1h3m-44 1h3m8 0h3m2 0h3m65 0h3m-47 1h3m-34 2h3m-17 1h3m1 1h3m-1 1h3m30 1h3m9 0h3m-32 1h3m34 0h3m-49 2h3m10 1h3m11 0h3m71 0h3m-59 1h3m35 0h3m-91 1h3m-1 0h3m5 0h3m-7 2h3m36 0h3m-52 1h3m-2 0h3m54 0h3m21 0h3m-74 2h3m13 0h3m1 0h3m-1 0h3m-12 1h3m-22 2h3m-7 1h3m1 1h3m10 0h3m5 0h3m26 0h3m-43 1h3m-1 0h3m4 0h3m2 0h3m29 0h3m-51 2h3m0 0h3m4 0h3m7 0h3m15 0h3m-49 1h3m7 0h3m12 0h3m-35 1h3m0 0h3m40 0h3m31 0h3m12 1h3m-83 1h3m78 0h3m-75 3h3m8 0h3m-27 2h3m-12 1h3m-3 0h3m9 0h3m42 0h3m-61 1h3m-3 0h3m55 0h3m14 0h3m-56 2h3m33 0h3m19 1h3m-64 1h3m36 0h3m-40 1h3m-15 1h3m-2 0h3m6 0h3m19 0h3m10 0h3m22 0h3m1 0h3m-49 1h3m-30 2h3m22 0h3m22 0h3m-6 1h3m7 0h3m16 0h3m-8 2h3m1 1h3m-80 2h3m8 0h3m0 0h3m13 0h3m35 0h3m-56 1h3m60 1h3m-57 1h3m10 0h3m-34 1h3m36 0h3m-13 1h3m28 0h3m-66 1h3m9 0h3m26 0h3m-52 2h3m10 0h3m24 0h3m-48 1h3m14 0h3m43 0h3m-57 3h3m-2 0h3m15 1h3m-3 0h3m-20 1h3m16 0h3m13 0h3m10 0h3m38 1h3m-94 1h3m8 0h3m32 0h3m4 0h3m-52 2h3m18 0h3m22 0h3m34 0h3m-68 1h3m39 1h3m-59 1h3m3 0h3m65 0h3m-45 1h3m6 0h3m1 1h3m-40 2h3m2 0h3m44 0h3m-67 1h3m0 0h3m10 0h3m-4 1h3m-33 1h3m13 1h3m32 0h3m-42 1h3m42 1h3m-47 1h3m22 0h3m-38 2h3m10 0h3m14 0h3m7 0h3m-42 1h3m17 1h3m37 0h3m-65 1h3m8 0h3m11 0h3m35 1h3m18 0h3m-58 1h3m-2 0h3m13 1h3m-36 1h3m7 0h3m-24 1h3m2 0h3m31 0h3m3 0h3m-48 1h3m26 0h3m57 0h3m-74 1h3m-4 1h3m3 0h3m19 0h3m41 0h3m-54 1h3m-26 1h3m-2 0h3m43 0h3m11 0h3m-62 1h3m28 0h3m-47 1h3m-10 1h3m49 0h3m-49 1h3m0 1h3m9 0h3m-1 1h3m-6 1h3m18 0h3m23 0h3m-51 1h3m24 0h3m18 0h3m-60 1h3m0 0h3m-3 0h3m0 0h3m20 1h3m17 0h3m-61 2h3m28 0h3m7 0h3m5 0h3m-9 1h3m9 0h3m17 0h3m-69 1h3m0 0h3m2 0h3m5 0h3m22 0h3m-3 0h3m-47 1h3m10 0h3m0 0h3m6 0h3m18 0h3m-55 1h3m40 0h3m10 1h3m1 0h3m21 0h3m-20 1h3m-51 1h3m36 0h3m-35 1h3m-22 1h3m13 0h3m12 0h3m84 0h3m-127 1h3m47 0h3m-35 2h3m1 0h3m-17 1h3m9 0h3m10 0h3m7 1h3m-43 1h3m24 1h3m-21 3h3m19 0h3m-17 1h3m12 0h3m1 0h3m-1 0h3m-35 1h3m31 0h3m-30 1h3m6 0h3m22 0h3m0 0h3m-48 1h3m-2 0h3m2 0h3m15 0h3m19 1h3m55 0h3m-110 1h3m0 0h3m0 0h3m12 0h3m25 1h3m19 0h3m-6 1h3m-64 1h3m25 0h3m11 0h3m3 0h3m-60 1h3m73 0h3m-20 1h3m1 0h3m-45 1h3m10 0h3m18 0h3m-20 1h3m-23 1h3m-6 1h3m17 0h3m25 0h3m0 0h3m-72 1h3m8 0h3m41 0h3m-36 1h3m3 0h3m21 0h3m30 0h3m-85 1h3m34 0h3m22 0h3m-66 1h3m51 0h3m18 0h3m8 0h3m-66 1h3m13 0h3m24 0h3m3 0h3m-59 1h3m-9 1h3m33 1h3m4 0h3m22 0h3m-83 1h3m2 0h3m8 0h3m16 0h3m16 0h3m-36 1h3m6 0h3m1 0h3m5 0h3m28 0h3m-55 1h3m15 0h3m-45 2h3m26 1h3m44 0h3m-51 1h3m-1 0h3m12 0h3m-45 1h3m-2 0h3m10 0h3m12 0h3m3 0h3m0 1h3m-44 1h3m2 0h3m26 0h3m12 0h3m18 0h3m-68 1h3m8 1h3m55 0h3m-54 1h3m73 0h3m-56 1h3m-39 1h3m1 1h3m-7 1h3m34 0h3m-23 2h3m15 0h3m-5 1h3m9 2h3m21 0h3m-63 1h3m23 0h3m-27 1h3m9 0h3m31 0h3m-6 2h3m13 0h3m-68 1h3m30 0h3m4 1h3m-36 1h3m-14 1h3m12 0h3m13 0h3m13 0h3m-60 1h3m45 0h3m19 0h3m27 0h3m-70 1h3m8 0h3m-22 1h3m14 0h3m-41 1h3m56 0h3m-46 1h3m-16 2h3m8 1h3m24 0h3m-22 1h3m5 0h3m-26 1h3m11 0h3m-11 1h3m12 1h3m1 0h3m-15 1h3m3 0h3m16 1h3m37 1h3m-41 2h3m43 1h3m-58 1h3m-2 0h3m-17 1h3m45 0h3m-43 1h3m-21 1h3m-20 1h3m6 1h3m2 0h3m7 0h3m16 0h3m21 0h3m-9 1h3m-61 1h3m17 0h3m0 0h3m15 0h3m18 0h3m1 0h3m-73 1h3m65 0h3m-55 1h3m15 0h3m5 0h3m9 0h3m-13 1h3m14 0h3m-64 1h3m56 0h3m-53 1h3m27 0h3m-34 1h3m-2 0h3m1 0h3m31 0h3m12 0h3m-2 1h3m-43 1h3m15 0h3m11 0h3m-61 1h3m1 0h3m34 0h3m-1 1h3m28 0h3m-72 1h3m27 0h3m8 0h3m12 0h3m10 0h3m-53 1h3m1 0h3m31 0h3m-40 1h3m6 0h3m-26 1h3m20 0h3m24 1h3m-54 1h3m1 0h3m11 0h3m10 0h3m-5 1h3m16 0h3m9 0h3m-69 1h3m29 0h3m-1 0h3m-3 1h3m-35 1h3m-2 0h3m29 0h3m-33 1h3m14 1h3m-1 0h3m-1 0h3m45 0h3m-75 1h3m13 0h3m6 0h3m2 0h3m-25 1h3m-1 0h3m9 0h3m18 0h3m12 0h3m7 0h3m-35 1h3m-34 1h3m13 0h3m-20 1h3"/>
<path transform="scale(.5)" stroke="#111" stroke-width="3" d="M466 182h3m21 1h3m63 7h3m-85 2h3m30 2h3m-45 3h3m18 0h3m-26 2h3m-6 2h3m14 2h3m14 0h3m17 0h3m-42 2h3m-64 1h3m108 0h3m-56 4h3m27 0h3m-4 1h3m13 0h3m0 0h3m-24 1h3m-33 1h3m26 0h3m15 0h3m-39 2h3m6 0h3m12 1h3m18 0h3m-46 2h3m2 0h3m18 0h3m-39 1h3m17 1h3m19 0h3m-15 1h3m4 0h3m9 0h3m-100 1h3m47 0h3m7 0h3m13 0h3m9 0h3m18 0h3m-29 1h3m37 0h3m-59 1h3m8 0h3m21 0h3m-2 0h3m-75 1h3m16 0h3m10 0h3m38 0h3m-84 1h3m19 0h3m-2 0h3m25 0h3m22 0h3m11 0h3m-48 1h3m-53 1h3m37 0h3m15 0h3m6 0h3m-44 1h3m15 0h3m4 0h3m1 0h3m-45 1h3m43 0h3m19 0h3m-71 1h3m22 0h3m0 0h3m12 0h3m11 0h3m-90 1h3m54 0h3m0 0h3m11 0h3m0 0h3m12 0h3m-60 1h3m5 0h3m1 0h3m1 0h3m5 0h3m2 0h3m-2 0h3m-1 0h3m-1 0h3m26 0h3m7 0h3m-45 1h3m7 0h3m-2 0h3m11 0h3m-85 1h3m38 0h3m12 0h3m1 0h3m0 0h3m3 0h3m0 0h3m10 0h3m10 0h3m-71 1h3m-1 0h3m21 0h3m28 0h3m-75 1h3m28 0h3m16 0h3m11 0h3m-2 0h3m24 0h3m-97 1h3m7 0h3m7 0h3m1 0h3m0 0h3m8 0h3m3 0h3m7 0h3m-3 0h3m15 0h3m24 0h3m-74 1h3m16 0h3m5 0h3m4 0h3m21 0h3m-77 1h3m7 0h3m16 0h3m6 0h3m28 0h3m3 0h3m-47 1h3m11 0h3m3 0h3m-67 1h3m11 0h3m38 0h3m20 0h3m-1 0h3m1 0h3m-128 1h3m8 0h3m32 0h3m23 0h3m-3 0h3m3 0h3m6 0h3m10 0h3m-71 1h3m1 0h3m5 0h3m11 0h3m21 0h3m3 0h3m2 0h3m19 0h3m1 0h3m21 0h3m-129 1h3m13 0h3m50 0h3m3 0h3m5 0h3m-3 0h3m-23 1h3m4 0h3m5 0h3m4 0h3m8 0h3m-3 0h3m0 0h3m1 0h3m5 0h3m8 0h3m18 0h3m-117 1h3m10 0h3m1 0h3m1 0h3m10 0h3m12 0h3m1 0h3m4 0h3m2 0h3m-2 0h3m-64 1h3m1 0h3m10 0h3m-1 0h3m7 0h3m12 0h3m1 0h3m-3 0h3m-3 0h3m3 0h3m14 0h3m0 0h3m-65 1h3m-3 0h3m6 0h3m0 0h3m12 0h3m12 0h3m-1 0h3m-2 0h3m-11 1h3m0 0h3m5 0h3m-2 0h3m6 0h3m-70 1h3m-1 0h3m-3 0h3m8 0h3m1 0h3m7 0h3m12 0h3m24 0h3m-70 1h3m1 0h3m-1 0h3m-2 0h3m-2 0h3m2 0h3m-3 0h3m0 0h3m1 0h3m-3 0h3m-1 0h3m1 0h3m7 0h3m9 0h3m29 0h3m-111 1h3m15 0h3m5 0h3m13 0h3m2 0h3m0 0h3m-3 0h3m13 0h3m15 0h3m20 0h3m-91 1h3m23 0h3m8 0h3m0 0h3m6 0h3m12 0h3m21 0h3m-154 1h3m62 0h3m6 0h3m-2 0h3m-1 0h3m2 0h3m0 0h3m0 0h3m11 0h3m13 0h3m4 0h3m-1 0h3m-3 0h3m14 0h3m-95 1h3m4 0h3m-2 0h3m2 0h3m-1 0h3m21 0h3m-3 0h3m5 0h3m-2 0h3m-2 0h3m7 0h3m15 0h3m3 0h3m1 0h3m-114 1h3m35 0h3m2 0h3m3 0h3m-1 0h3m0 0h3m-1 0h3m29 0h3m-1 0h3m6 0h3m1 0h3m-100 1h3m-1 0h3m26 0h3m-2 0h3m-2 0h3m0 0h3m3 0h3m-2 0h3m2 0h3m2 0h3m4 0h3m-3 0h3m4 0h3m-1 0h3m-1 0h3m5 0h3m5 0h3m-76 1h3m6 0h3m1 0h3m1 0h3m13 0h3m10 0h3m-3 0h3m-3 0h3m-2 0h3m-3 0h3m-2 0h3m6 0h3m7 0h3m14 0h3m-79 1h3m13 0h3m11 0h3m1 0h3m-3 0h3m-3 0h3m4 0h3m5 0h3m-2 0h3m-2 0h3m1 0h3m-3 0h3m-109 1h3m70 0h3m2 0h3m-3 0h3m-1 0h3m-1 0h3m2 0h3m3 0h3m0 0h3m-3 0h3m1 0h3m-2 0h3m-3 0h3m1 0h3m6 0h3m-71 1h3m12 0h3m4 0h3m4 0h3m0 0h3m-2 0h3m1 0h3m-3 0h3m-1 0h3m1 0h3m0 0h3m1 0h3m-3 0h3m1 0h3m1 0h3m-1 0h3m0 0h3m23 0h3m-3 0h3m-3 0h3m-98 1h3m4 0h3m0 0h3m11 0h3m17 0h3m-1 0h3m6 0h3m3 0h3m3 0h3m1 0h3m23 0h3m-102 1h3m19 0h3m2 0h3m10 0h3m-3 0h3m0 0h3m-1 0h3m4 0h3m14 0h3m6 0h3m-2 0h3m-1 0h3m-3 0h3m0 0h3m-2 0h3m4 0h3m5 0h3m-87 1h3m2 0h3m-1 0h3m-1 0h3m-1 0h3m-3 0h3m6 0h3m15 0h3m1 0h3m1 0h3m15 0h3m15 0h3m-83 1h3m-2 0h3m-1 0h3m-3 0h3m-2 0h3m12 0h3m6 0h3m5 0h3m0 0h3m0 0h3m2 0h3m-2 0h3m5 0h3m11 0h3m-105 1h3m4 0h3m6 0h3m2 0h3m-1 0h3m2 0h3m6 0h3m4 0h3m1 0h3m2 0h3m-3 0h3m11 0h3m4 0h3m9 0h3m9 0h3m-2 0h3m34 0h3m-136 1h3m-1 0h3m6 0h3m8 0h3m-3 0h3m-3 0h3m10 0h3m11 0h3m-1 0h3m0 0h3m-2 0h3m1 0h3m-1 0h3m4 0h3m2 0h3m-2 0h3m26 0h3m-99 1h3m21 0h3m-3 0h3m6 0h3m3 0h3m4 0h3m0 0h3m14 0h3m6 0h3m7 0h3m-71 1h3m8 0h3m8 0h3m-2 0h3m-1 0h3m-2 0h3m3 0h3m2 0h3m5 0h3m0 0h3m11 0h3m4 0h3m-74 1h3m-2 0h3m12 0h3m0 0h3m-3 0h3m-2 0h3m1 0h3m0 0h3m-3 0h3m-3 0h3m-2 0h3m-2 0h3m3 0h3m1 0h3m0 0h3m-2 0h3m3 0h3m-3 0h3m0 0h3m-1 0h3m3 0h3m14 0h3m-3 0h3m0 0h3m8 0h3m-122 1h3m28 0h3m-3 0h3m5 0h3m0 0h3m-3 0h3m1 0h3m-2 0h3m-2 0h3m-1 0h3m2 0h3m4 0h3m17 0h3m2 0h3m7 0h3m-60 1h3m0 0h3m-2 0h3m0 0h3m-2 0h3m2 0h3m1 0h3m0 0h3m8 0h3m0 0h3m-3 0h3m12 0h3m28 0h3m-116 1h3m16 0h3m-1 0h3m-2 0h3m-3 0h3m-1 0h3m-1 0h3m2 0h3m7 0h3m-2 0h3m-2 0h3m3 0h3m-1 0h3m7 0h3m-3 0h3m-2 0h3m2 0h3m-1 0h3m-3 0h3m7 0h3m0 0h3m-2 0h3m0 0h3m13 0h3m1 0h3m-118 1h3m15 0h3m8 0h3m14 0h3m4 0h3m-2 0h3m0 0h3m-3 0h3m1 0h3m1 0h3m-2 0h3m-3 0h3m16 0h3m-2 0h3m5 0h3m-1 0h3m-3 0h3m0 0h3m29 0h3m-100 1h3m1 0h3m5 0h3m-2 0h3m6 0h3m3 0h3m-1 0h3m-1 0h3m1 0h3m-2 0h3m-1 0h3m-1 0h3m-1 0h3m0 0h3m7 0h3m5 0h3m1 0h3m7 0h3m-97 1h3m-2 0h3m-3 0h3m9 0h3m-2 0h3m0 0h3m0 0h3m1 0h3m8 0h3m11 0h3m-1 0h3m-1 0h3m2 0h3m3 0h3m-3 0h3m0 0h3m8 0h3m6 0h3m-107 1h3m11 0h3m0 0h3m11 0h3m-3 0h3m-1 0h3m5 0h3m-3 0h3m5 0h3m-1 0h3m1 0h3m10 0h3m6 0h3m-3 0h3m1 0h3m0 0h3m0 0h3m27 0h3m-103 1h3m-1 0h3m3 0h3m3 0h3m1 0h3m-2 0h3m-1 0h3m-2 0h3m-2 0h3m-2 0h3m-3 0h3m-2 0h3m1 0h3m0 0h3m9 0h3m4 0h3m0 0h3m-1 0h3m4 0h3m4 0h3m-3 0h3m-1 0h3m3 0h3m8 0h3m0 0h3m-2 0h3m2 0h3m-92 1h3m10 0h3m-1 0h3m-1 0h3m-2 0h3m0 0h3m2 0h3m-2 0h3m0 0h3m-2 0h3m0 0h3m1 0h3m-1 0h3m-1 0h3m-1 0h3m-1 0h3m2 0h3m-3 0h3m-2 0h3m5 0h3m-1 0h3m8 0h3m-3 0h3m6 0h3m17 0h3m-1 0h3m-115 1h3m1 0h3m-1 0h3m-3 0h3m0 0h3m7 0h3m4 0h3m5 0h3m-2 0h3m-2 0h3m0 0h3m0 0h3m2 0h3m-1 0h3m-2 0h3m-1 0h3m-1 0h3m1 0h3m-2 0h3m-2 0h3m3 0h3m4 0h3m22 0h3m-100 1h3m11 0h3m5 0h3m0 0h3m7 0h3m3 0h3m-2 0h3m-1 0h3m-1 0h3m9 0h3m0 0h3m-62 1h3m0 0h3m3 0h3m0 0h3m-3 0h3m7 0h3m-2 0h3m3 0h3m-2 0h3m-2 0h3m-1 0h3m-2 0h3m-3 0h3m0 0h3m6 0h3m2 0h3m3 0h3m-3 0h3m0 0h3m4 0h3m5 0h3m17 0h3m-140 1h3m10 0h3m7 0h3m10 0h3m5 0h3m-1 0h3m-3 0h3m12 0h3m-3 0h3m-1 0h3m0 0h3m2 0h3m-3 0h3m1 0h3m-2 0h3m-2 0h3m-2 0h3m-2 0h3m-1 0h3m5 0h3m3 0h3m-2 0h3m5 0h3m0 0h3m0 0h3m5 0h3m5 0h3m3 0h3m1 0h3m0 0h3m-129 1h3m15 0h3m-1 0h3m11 0h3m3 0h3m30 0h3m-3 0h3m-1 0h3m2 0h3m-3 0h3m-3 0h3m-3 0h3m-3 0h3m-2 0h3m4 0h3m8 0h3m-3 0h3m3 0h3m1 0h3m27 0h3m0 0h3m-117 1h3m7 0h3m4 0h3m-3 0h3m1 0h3m-1 0h3m6 0h3m-2 0h3m-1 0h3m-1 0h3m-1 0h3m2 0h3m-2 0h3m-2 0h3m-3 0h3m-1 0h3m0 0h3m-3 0h3m-3 0h3m-2 0h3m-1 0h3m9 0h3m3 0h3m6 0h3m2 0h3m4 0h3m1 0h3m-125 1h3m6 0h3m19 0h3m5 0h3m3 0h3m-2 0h3m-3 0h3m-1 0h3m-3 0h3m-2 0h3m1 0h3m-3 0h3m-2 0h3m0 0h3m2 0h3m7 0h3m-2 0h3m-2 0h3m3 0h3m5 0h3m-3 0h3m-1 0h3m0 0h3m-1 0h3m-2 0h3m-3 0h3m-2 0h3m-1 0h3m-2 0h3m8 0h3m-114 1h3m-2 0h3m8 0h3m-3 0h3m20 0h3m-1 0h3m1 0h3m2 0h3m-3 0h3m-2 0h3m2 0h3m-2 0h3m3 0h3m-1 0h3m-3 0h3m2 0h3m6 0h3m-2 0h3m11 0h3m4 0h3m-3 0h3m5 0h3m-3 0h3m-2 0h3m12 0h3m-116 1h3m21 0h3m1 0h3m0 0h3m1 0h3m2 0h3m3 0h3m3 0h3m0 0h3m-2 0h3m-2 0h3m1 0h3m0 0h3m-2 0h3m0 0h3m5 0h3m22 0h3m0 0h3m-93 1h3m9 0h3m1 0h3m-1 0h3m-2 0h3m-2 0h3m3 0h3m-1 0h3m-2 0h3m1 0h3m-1 0h3m2 0h3m3 0h3m-1 0h3m-2 0h3m0 0h3m3 0h3m-3 0h3m10 0h3m-3 0h3m-82 1h3m7 0h3m0 0h3m-3 0h3m-2 0h3m1 0h3m6 0h3m-3 0h3m-2 0h3m-2 0h3m-2 0h3m6 0h3m6 0h3m-3 0h3m-2 0h3m-2 0h3m3 0h3m-2 0h3m1 0h3m-2 0h3m0 0h3m2 0h3m-1 0h3m0 0h3m0 0h3m1 0h3m-90 1h3m10 0h3m5 0h3m8 0h3m2 0h3m3 0h3m-2 0h3m-1 0h3m-1 0h3m3 0h3m-1 0h3m-1 0h3m3 0h3m3 0h3m-2 0h3m-2 0h3m-3 0h3m2 0h3m-2 0h3m-3 0h3m18 0h3m-98 1h3m17 0h3m-1 0h3m3 0h3m5 0h3m-3 0h3m-2 0h3m2 0h3m-2 0h3m-1 0h3m-1 0h3m0 0h3m1 0h3m-3 0h3m3 0h3m-3 0h3m3 0h3m0 0h3m-3 0h3m-2 0h3m0 0h3m10 0h3m12 0h3m-128 1h3m16 0h3m-2 0h3m3 0h3m21 0h3m2 0h3m-2 0h3m-1 0h3m-1 0h3m-1 0h3m-1 0h3m-3 0h3m1 0h3m2 0h3m-2 0h3m0 0h3m-2 0h3m-1 0h3m-1 0h3m-1 0h3m-2 0h3m-1 0h3m-2 0h3m-2 0h3m2 0h3m-3 0h3m0 0h3m4 0h3m2 0h3m6 0h3m-98 1h3m12 0h3m-2 0h3m-3 0h3m13 0h3m-2 0h3m-3 0h3m-2 0h3m-1 0h3m-1 0h3m-1 0h3m-1 0h3m-2 0h3m3 0h3m-2 0h3m-1 0h3m-2 0h3m-2 0h3m1 0h3m-1 0h3m-2 0h3m-1 0h3m2 0h3m-3 0h3m-1 0h3m8 0h3m0 0h3m1 0h3m8 0h3m-87 1h3m1 0h3m0 0h3m1 0h3m-2 0h3m6 0h3m11 0h3m1 0h3m-2 0h3m-3 0h3m-1 0h3m-3 0h3m1 0h3m-1 0h3m6 0h3m-1 0h3m4 0h3m0 0h3m11 0h3m-105 1h3m2 0h3m1 0h3m-2 0h3m15 0h3m0 0h3m0 0h3m-2 0h3m0 0h3m-3 0h3m-3 0h3m-1 0h3m-1 0h3m2 0h3m-1 0h3m-2 0h3m-1 0h3m1 0h3m-3 0h3m-2 0h3m-2 0h3m2 0h3m-2 0h3m10 0h3m4 0h3m-2 0h3m-3 0h3m-1 0h3m8 0h3m11 0h3m-137 1h3m31 0h3m8 0h3m-1 0h3m-1 0h3m-1 0h3m-2 0h3m-1 0h3m-1 0h3m-2 0h3m0 0h3m0 0h3m-3 0h3m-3 0h3m-1 0h3m1 0h3m-2 0h3m-1 0h3m-1 0h3m-3 0h3m1 0h3m4 0h3m0 0h3m-1 0h3m-2 0h3m-1 0h3m9 0h3m6 0h3m-1 0h3m-1 0h3m-105 1h3m23 0h3m0 0h3m-2 0h3m4 0h3m0 0h3m-2 0h3m1 0h3m0 0h3m0 0h3m2 0h3m-2 0h3m1 0h3m6 0h3m-3 0h3m-2 0h3m2 0h3m-3 0h3m1 0h3m-2 0h3m-3 0h3m-2 0h3m0 0h3m5 0h3m6 0h3m-2 0h3m0 0h3m1 0h3m-111 1h3m3 0h3m6 0h3m-2 0h3m2 0h3m-3 0h3m1 0h3m3 0h3m2 0h3m-2 0h3m3 0h3m0 0h3m-2 0h3m-1 0h3m0 0h3m-3 0h3m-2 0h3m-2 0h3m0 0h3m-2 0h3m3 0h3m4 0h3m-1 0h3m-2 0h3m-2 0h3m-3 0h3m-2 0h3m-1 0h3m-1 0h3m-2 0h3m5 0h3m-1 0h3m0 0h3m4 0h3m-3 0h3m-2 0h3m25 0h3m21 0h3m-165 1h3m13 0h3m7 0h3m2 0h3m-1 0h3m5 0h3m-2 0h3m0 0h3m-3 0h3m-3 0h3m-2 0h3m3 0h3m-1 0h3m-1 0h3m-3 0h3m-2 0h3m0 0h3m0 0h3m1 0h3m-3 0h3m-3 0h3m0 0h3m4 0h3m-2 0h3m-2 0h3m-2 0h3m-3 0h3m2 0h3m-1 0h3m1 0h3m-3 0h3m-2 0h3m5 0h3m-2 0h3m-3 0h3m7 0h3m-3 0h3m7 0h3m15 0h3m-129 1h3m4 0h3m7 0h3m7 0h3m2 0h3m1 0h3m-1 0h3m-3 0h3m-2 0h3m0 0h3m-1 0h3m-1 0h3m-2 0h3m-1 0h3m-2 0h3m-1 0h3m1 0h3m-1 0h3m-1 0h3m8 0h3m-2 0h3m-1 0h3m0 0h3m-3 0h3m0 0h3m2 0h3m-2 0h3m-3 0h3m-2 0h3m-2 0h3m-1 0h3m-2 0h3m5 0h3m-2 0h3m-94 1h3m13 0h3m-2 0h3m-2 0h3m-3 0h3m1 0h3m4 0h3m-3 0h3m2 0h3m1 0h3m2 0h3m0 0h3m-3 0h3m-3 0h3m-1 0h3m6 0h3m0 0h3m-2 0h3m5 0h3m4 0h3m14 0h3m-112 1h3m11 0h3m4 0h3m11 0h3m-3 0h3m9 0h3m-1 0h3m-1 0h3m-3 0h3m8 0h3m-3 0h3m-1 0h3m-1 0h3m1 0h3m-2 0h3m-2 0h3m0 0h3m-2 0h3m5 0h3m-2 0h3m-1 0h3m-1 0h3m-1 0h3m-1 0h3m-1 0h3m-1 0h3m2 0h3m6 0h3m-3 0h3m-103 1h3m2 0h3m3 0h3m-3 0h3m9 0h3m1 0h3m0 0h3m-2 0h3m1 0h3m-1 0h3m-1 0h3m-1 0h3m-3 0h3m0 0h3m2 0h3m0 0h3m-1 0h3m-2 0h3m-1 0h3m7 0h3m-2 0h3m-1 0h3m0 0h3m3 0h3m3 0h3m4 0h3m1 0h3m3 0h3m9 0h3m-132 1h3m15 0h3m-1 0h3m-2 0h3m-2 0h3m-2 0h3m3 0h3m-1 0h3m0 0h3m6 0h3m3 0h3m1 0h3m-2 0h3m3 0h3m0 0h3m2 0h3m-1 0h3m-3 0h3m-2 0h3m6 0h3m-3 0h3m-2 0h3m-3 0h3m-1 0h3m-3 0h3m20 0h3m-1 0h3m7 0h3m-114 1h3m2 0h3m4 0h3m9 0h3m2 0h3m-3 0h3m-1 0h3m-2 0h3m1 0h3m3 0h3m-3 0h3m-2 0h3m1 0h3m-2 0h3m-2 0h3m1 0h3m-2 0h3m0 0h3m-1 0h3m-1 0h3m-2 0h3m1 0h3m-3 0h3m-1 0h3m-1 0h3m-3 0h3m0 0h3m-1 0h3m-3 0h3m0 0h3m2 0h3m4 0h3m5 0h3m-105 1h3m8 0h3m3 0h3m0 0h3m-1 0h3m3 0h3m-2 0h3m1 0h3m0 0h3m-1 0h3m-2 0h3m-1 0h3m-2 0h3m2 0h3m1 0h3m1 0h3m-3 0h3m7 0h3m-2 0h3m1 0h3m1 0h3m1 0h3m1 0h3m2 0h3m-1 0h3m6 0h3m2 0h3m1 0h3m31 0h3m-160 1h3m20 0h3m13 0h3m-3 0h3m1 0h3m1 0h3m-2 0h3m-2 0h3m2 0h3m-1 0h3m1 0h3m-1 0h3m1 0h3m-1 0h3m-1 0h3m3 0h3m-3 0h3m3 0h3m0 0h3m3 0h3m0 0h3m-2 0h3m-1 0h3m7 0h3m7 0h3m4 0h3m-93 1h3m9 0h3m2 0h3m0 0h3m-1 0h3m-2 0h3m4 0h3m-2 0h3m-2 0h3m-2 0h3m-3 0h3m-2 0h3m-3 0h3m-1 0h3m-2 0h3m-1 0h3m2 0h3m-1 0h3m-1 0h3m0 0h3m1 0h3m5 0h3m-3 0h3m-3 0h3m-3 0h3m0 0h3m16 0h3m23 0h3m-136 1h3m14 0h3m3 0h3m-1 0h3m5 0h3m-1 0h3m-2 0h3m1 0h3m-1 0h3m0 0h3m-3 0h3m2 0h3m-2 0h3m-1 0h3m-3 0h3m-2 0h3m5 0h3m-1 0h3m0 0h3m-2 0h3m3 0h3m5 0h3m0 0h3m1 0h3m-1 0h3m12 0h3m12 0h3m-139 1h3m40 0h3m-2 0h3m2 0h3m-2 0h3m-1 0h3m-1 0h3m0 0h3m-2 0h3m-1 0h3m1 0h3m3 0h3m-2 0h3m-3 0h3m-1 0h3m-3 0h3m5 0h3m-2 0h3m-3 0h3m0 0h3m-2 0h3m-3 0h3m-2 0h3m-3 0h3m-2 0h3m-2 0h3m-3 0h3m-3 0h3m6 0h3m6 0h3m1 0h3m-1 0h3m-3 0h3m7 0h3m-2 0h3m21 0h3m-133 1h3m7 0h3m8 0h3m-3 0h3m2 0h3m2 0h3m0 0h3m1 0h3m-1 0h3m0 0h3m-3 0h3m2 0h3m-3 0h3m-3 0h3m-1 0h3m-2 0h3m-2 0h3m-2 0h3m-2 0h3m-1 0h3m-1 0h3m0 0h3m9 0h3m0 0h3m-2 0h3m-1 0h3m-3 0h3m-3 0h3m-2 0h3m-2 0h3m0 0h3m-1 0h3m-1 0h3m-3 0h3m-2 0h3m5 0h3m0 0h3m3 0h3m-105 1h3m4 0h3m1 0h3m6 0h3m-2 0h3m-1 0h3m-2 0h3m3 0h3m-2 0h3m6 0h3m0 0h3m-3 0h3m-1 0h3m-1 0h3m-2 0h3m7 0h3m-2 0h3m-2 0h3m-1 0h3m-3 0h3m-2 0h3m1 0h3m-3 0h3m1 0h3m-2 0h3m4 0h3m-2 0h3m-3 0h3m12 0h3m-2 0h3m3 0h3m-2 0h3m-1 0h3m-3 0h3m-88 1h3m5 0h3m9 0h3m-1 0h3m1 0h3m-1 0h3m-3 0h3m-2 0h3m2 0h3m-2 0h3m0 0h3m2 0h3m-2 0h3m-2 0h3m-3 0h3m-1 0h3m-3 0h3m-2 0h3m2 0h3m0 0h3m-3 0h3m-2 0h3m10 0h3m5 0h3m-2 0h3m0 0h3m-2 0h3m-106 1h3m-1 0h3m10 0h3m-1 0h3m3 0h3m-2 0h3m-3 0h3m6 0h3m6 0h3m-2 0h3m0 0h3m-3 0h3m-2 0h3m-2 0h3m0 0h3m-3 0h3m0 0h3m-3 0h3m3 0h3m-2 0h3m0 0h3m-3 0h3m2 0h3m0 0h3m-1 0h3m0 0h3m1 0h3m-2 0h3m-1 0h3m2 0h3m-2 0h3m3 0h3m0 0h3m2 0h3m3 0h3m-3 0h3m-113 1h3m7 0h3m-3 0h3m8 0h3m5 0h3m4 0h3m0 0h3m-2 0h3m4 0h3m-2 0h3m-3 0h3m5 0h3m5 0h3m1 0h3m1 0h3m-2 0h3m-3 0h3m2 0h3m-1 0h3m0 0h3m-3 0h3m1 0h3m-3 0h3m1 0h3m-1 0h3m4 0h3m-2 0h3m-2 0h3m12 0h3m2 0h3m-116 1h3m3 0h3m0 0h3m1 0h3m-3 0h3m7 0h3m0 0h3m-1 0h3m-2 0h3m-2 0h3m-3 0h3m0 0h3m-1 0h3m0 0h3m7 0h3m-1 0h3m-1 0h3m1 0h3m-1 0h3m-3 0h3m4 0h3m1 0h3m-2 0h3m-2 0h3m-2 0h3m8 0h3m2 0h3m-1 0h3m-1 0h3m1 0h3m-109 1h3m10 0h3m0 0h3m1 0h3m-3 0h3m-1 0h3m-3 0h3m-2 0h3m8 0h3m-2 0h3m0 0h3m-2 0h3m0 0h3m0 0h3m-2 0h3m-2 0h3m-3 0h3m-3 0h3m-2 0h3m2 0h3m-2 0h3m0 0h3m0 0h3m-2 0h3m-2 0h3m-3 0h3m1 0h3m0 0h3m-2 0h3m-2 0h3m0 0h3m-3 0h3m-3 0h3m1 0h3m-1 0h3m0 0h3m-1 0h3m4 0h3m3 0h3m1 0h3m-3 0h3m-97 1h3m6 0h3m-1 0h3m-3 0h3m-1 0h3m-3 0h3m12 0h3m1 0h3m-2 0h3m2 0h3m0 0h3m-2 0h3m-2 0h3m-3 0h3m-3 0h3m-1 0h3m-1 0h3m-2 0h3m-2 0h3m-1 0h3m-1 0h3m-1 0h3m0 0h3m1 0h3m0 0h3m4 0h3m0 0h3m10 0h3m0 0h3m4 0h3m-105 1h3m11 0h3m5 0h3m1 0h3m-3 0h3m0 0h3m1 0h3m-3 0h3m-2 0h3m3 0h3m-1 0h3m-2 0h3m-2 0h3m1 0h3m-2 0h3m-1 0h3m-3 0h3m-3 0h3m-1 0h3m-2 0h3m6 0h3m-1 0h3m2 0h3m0 0h3m-1 0h3m-2 0h3m0 0h3m-3 0h3m2 0h3m-2 0h3m0 0h3m-1 0h3m-3 0h3m-1 0h3m2 0h3m-3 0h3m7 0h3m-101 1h3m2 0h3m2 0h3m0 0h3m2 0h3m-2 0h3m4 0h3m-1 0h3m-2 0h3m-3 0h3m2 0h3m-2 0h3m-2 0h3m0 0h3m-3 0h3m-2 0h3m-2 0h3m-1 0h3m-3 0h3m0 0h3m-2 0h3m-2 0h3m-3 0h3m-3 0h3m0 0h3m-2 0h3m6 0h3m0 0h3m-2 0h3m7 0h3m0 0h3m-1 0h3m7 0h3m13 0h3m-132 1h3m8 0h3m2 0h3m-1 0h3m12 0h3m0 0h3m-1 0h3m8 0h3m-3 0h3m-2 0h3m-1 0h3m0 0h3m5 0h3m-3 0h3m-3 0h3m-2 0h3m-2 0h3m2 0h3m-2 0h3m-1 0h3m-3 0h3m0 0h3m-2 0h3m-3 0h3m3 0h3m-2 0h3m-2 0h3m4 0h3m1 0h3m4 0h3m2 0h3m-104 1h3m14 0h3m4 0h3m4 0h3m1 0h3m6 0h3m5 0h3m-2 0h3m6 0h3m5 0h3m-3 0h3m-3 0h3m1 0h3m5 0h3m-2 0h3m14 0h3m9 0h3m6 0h3m-3 0h3m-138 1h3m2 0h3m5 0h3m1 0h3m2 0h3m4 0h3m-2 0h3m11 0h3m-2 0h3m4 0h3m-2 0h3m3 0h3m-1 0h3m-3 0h3m-2 0h3m-1 0h3m-3 0h3m-3 0h3m0 0h3m-2 0h3m2 0h3m-3 0h3m-2 0h3m-3 0h3m0 0h3m0 0h3m-2 0h3m-1 0h3m-1 0h3m2 0h3m0 0h3m-1 0h3m-1 0h3m-3 0h3m2 0h3m10 0h3m4 0h3m2 0h3m-117 1h3m12 0h3m0 0h3m3 0h3m-2 0h3m0 0h3m0 0h3m-2 0h3m-1 0h3m-1 0h3m-3 0h3m-1 0h3m3 0h3m0 0h3m-3 0h3m-1 0h3m2 0h3m0 0h3m-2 0h3m-2 0h3m0 0h3m15 0h3m17 0h3m-114 1h3m-2 0h3m12 0h3m12 0h3m2 0h3m-1 0h3m-2 0h3m-3 0h3m2 0h3m-1 0h3m-2 0h3m-3 0h3m3 0h3m-1 0h3m-3 0h3m-2 0h3m2 0h3m-2 0h3m-1 0h3m0 0h3m-2 0h3m-3 0h3m-1 0h3m-3 0h3m-1 0h3m-3 0h3m-2 0h3m-2 0h3m-1 0h3m-3 0h3m4 0h3m0 0h3m-1 0h3m6 0h3m9 0h3m6 0h3m-96 1h3m1 0h3m-1 0h3m-2 0h3m-1 0h3m0 0h3m2 0h3m-1 0h3m0 0h3m-3 0h3m-2 0h3m-1 0h3m0 0h3m-3 0h3m-3 0h3m-3 0h3m-2 0h3m1 0h3m-1 0h3m-3 0h3m-1 0h3m0 0h3m-2 0h3m-3 0h3m-3 0h3m-3 0h3m-1 0h3m-1 0h3m2 0h3m-2 0h3m0 0h3m-1 0h3m-1 0h3m-1 0h3m5 0h3m1 0h3m3 0h3m3 0h3m-2 0h3m-2 0h3m1 0h3m8 0h3m-133 1h3m12 0h3m6 0h3m1 0h3m3 0h3m23 0h3m0 0h3m-2 0h3m-3 0h3m2 0h3m-2 0h3m-2 0h3m-1 0h3m-1 0h3m-2 0h3m0 0h3m1 0h3m-2 0h3m-3 0h3m-3 0h3m0 0h3m5 0h3m-1 0h3m-2 0h3m0 0h3m-3 0h3m-1 0h3m-101 1h3m6 0h3m-1 0h3m2 0h3m12 0h3m-3 0h3m4 0h3m-1 0h3m-1 0h3m0 0h3m-2 0h3m-3 0h3m-2 0h3m-1 0h3m-2 0h3m0 0h3m-3 0h3m3 0h3m-1 0h3m0 0h3m-2 0h3m-3 0h3m-3 0h3m-2 0h3m-3 0h3m6 0h3m-2 0h3m-3 0h3m-1 0h3m-2 0h3m-2 0h3m-2 0h3m-3 0h3m-1 0h3m-3 0h3m2 0h3m-2 0h3m-2 0h3m-1 0h3m-2 0h3m-3 0h3m1 0h3m-3 0h3m3 0h3m-2 0h3m-2 0h3m-3 0h3m0 0h3m9 0h3m-109 1h3m6 0h3m-1 0h3m-2 0h3m-2 0h3m5 0h3m1 0h3m13 0h3m-2 0h3m-1 0h3m-2 0h3m-1 0h3m-3 0h3m-3 0h3m-3 0h3m3 0h3m-2 0h3m-1 0h3m-3 0h3m0 0h3m1 0h3m-2 0h3m-3 0h3m-2 0h3m4 0h3m0 0h3m-2 0h3m1 0h3m-2 0h3m-1 0h3m-2 0h3m-1 0h3m-2 0h3m2 0h3m-101 1h3m12 0h3m-2 0h3m2 0h3m1 0h3m-3 0h3m-2 0h3m3 0h3m-3 0h3m-1 0h3m-3 0h3m4 0h3m-2 0h3m-2 0h3m-2 0h3m5 0h3m-1 0h3m-2 0h3m-3 0h3m2 0h3m-1 0h3m4 0h3m-2 0h3m-1 0h3m-1 0h3m-1 0h3m-2 0h3m-2 0h3m-3 0h3m-2 0h3m-2 0h3m-3 0h3m-2 0h3m1 0h3m-1 0h3m-2 0h3m4 0h3m-2 0h3m4 0h3m-100 1h3m6 0h3m1 0h3m-1 0h3m10 0h3m2 0h3m0 0h3m-2 0h3m3 0h3m-1 0h3m2 0h3m0 0h3m-2 0h3m-3 0h3m0 0h3m1 0h3m5 0h3m-2 0h3m6 0h3m2 0h3m3 0h3m-77 1h3m1 0h3m0 0h3m6 0h3m-2 0h3m1 0h3m5 0h3m-1 0h3m-1 0h3m-1 0h3m3 0h3m-3 0h3m1 0h3m1 0h3m-3 0h3m-3 0h3m-3 0h3m0 0h3m-3 0h3m3 0h3m11 0h3m-1 0h3m20 0h3m-116 1h3m12 0h3m-2 0h3m-2 0h3m9 0h3m-2 0h3m-3 0h3m0 0h3m0 0h3m4 0h3m-2 0h3m-2 0h3m1 0h3m-1 0h3m-2 0h3m0 0h3m-2 0h3m-2 0h3m-2 0h3m2 0h3m-1 0h3m-1 0h3m2 0h3m-3 0h3m-1 0h3m7 0h3m4 0h3m-2 0h3m5 0h3m8 0h3m7 0h3m-137 1h3m7 0h3m3 0h3m0 0h3m4 0h3m-3 0h3m3 0h3m2 0h3m4 0h3m-3 0h3m0 0h3m5 0h3m1 0h3m-3 0h3m0 0h3m-1 0h3m1 0h3m-2 0h3m-2 0h3m4 0h3m1 0h3m0 0h3m2 0h3m-82 1h3m14 0h3m2 0h3m1 0h3m-3 0h3m1 0h3m-1 0h3m1 0h3m-2 0h3m1 0h3m3 0h3m-2 0h3m-2 0h3m2 0h3m1 0h3m-1 0h3m-2 0h3m2 0h3m6 0h3m-2 0h3m3 0h3m-3 0h3m-1 0h3m-3 0h3m-2 0h3m-3 0h3m-89 1h3m3 0h3m18 0h3m-1 0h3m0 0h3m0 0h3m-2 0h3m-2 0h3m-2 0h3m-2 0h3m-2 0h3m0 0h3m-1 0h3m-2 0h3m0 0h3m0 0h3m-1 0h3m-1 0h3m-3 0h3m-3 0h3m-2 0h3m-2 0h3m-1 0h3m-1 0h3m-3 0h3m-2 0h3m-2 0h3m0 0h3m3 0h3m-2 0h3m-3 0h3m-1 0h3m0 0h3m-2 0h3m-3 0h3m-2 0h3m2 0h3m-2 0h3m-1 0h3m-2 0h3m-1 0h3m1 0h3m0 0h3m13 0h3m5 0h3m-129 1h3m1 0h3m14 0h3m2 0h3m2 0h3m2 0h3m-3 0h3m-1 0h3m1 0h3m3 0h3m-2 0h3m4 0h3m-1 0h3m-1 0h3m7 0h3m8 0h3m-1 0h3m0 0h3m-3 0h3m-1 0h3m22 0h3m-106 1h3m1 0h3m-2 0h3m1 0h3m1 0h3m0 0h3m3 0h3m1 0h3m0 0h3m-1 0h3m1 0h3m-1 0h3m-1 0h3m0 0h3m-3 0h3m-3 0h3m-2 0h3m-1 0h3m-2 0h3m3 0h3m-1 0h3m-1 0h3m-1 0h3m-1 0h3m-2 0h3m-1 0h3m-1 0h3m-1 0h3m-3 0h3m2 0h3m-1 0h3m-2 0h3m2 0h3m-2 0h3m-3 0h3m4 0h3m7 0h3m-107 1h3m23 0h3m4 0h3m-2 0h3m-3 0h3m-2 0h3m2 0h3m-3 0h3m-2 0h3m4 0h3m2 0h3m-1 0h3m-2 0h3m5 0h3m-3 0h3m-2 0h3m5 0h3m0 0h3m-2 0h3m11 0h3m-105 1h3m16 0h3m4 0h3m-3 0h3m4 0h3m0 0h3m-2 0h3m0 0h3m-3 0h3m-3 0h3m2 0h3m-3 0h3m8 0h3m0 0h3m-3 0h3m-2 0h3m-2 0h3m-3 0h3m-1 0h3m0 0h3m-3 0h3m-1 0h3m6 0h3m-1 0h3m-2 0h3m-1 0h3m1 0h3m-1 0h3m8 0h3m-3 0h3m-2 0h3m-1 0h3m-2 0h3m3 0h3m6 0h3m-109 1h3m29 0h3m1 0h3m3 0h3m-1 0h3m-2 0h3m0 0h3m-2 0h3m-3 0h3m0 0h3m-2 0h3m1 0h3m0 0h3m-2 0h3m-3 0h3m-1 0h3m1 0h3m-1 0h3m-2 0h3m11 0h3m-2 0h3m5 0h3m1 0h3m16 0h3m-120 1h3m3 0h3m9 0h3m6 0h3m-1 0h3m-3 0h3m4 0h3m-1 0h3m0 0h3m-3 0h3m-1 0h3m-2 0h3m-1 0h3m0 0h3m-2 0h3m2 0h3m-1 0h3m-2 0h3m-1 0h3m0 0h3m0 0h3m1 0h3m-3 0h3m3 0h3m-1 0h3m3 0h3m1 0h3m-2 0h3m-1 0h3m-90 1h3m19 0h3m8 0h3m11 0h3m-1 0h3m3 0h3m3 0h3m1 0h3m-1 0h3m-2 0h3m2 0h3m-2 0h3m0 0h3m0 0h3m-1 0h3m0 0h3m1 0h3m0 0h3m-98 1h3m5 0h3m10 0h3m0 0h3m-2 0h3m-1 0h3m-1 0h3m-3 0h3m-1 0h3m-1 0h3m-3 0h3m5 0h3m-1 0h3m-2 0h3m4 0h3m5 0h3m-3 0h3m-2 0h3m8 0h3m0 0h3m0 0h3m-2 0h3m-2 0h3m1 0h3m-3 0h3m1 0h3m2 0h3m-2 0h3m7 0h3m-112 1h3m17 0h3m1 0h3m-1 0h3m10 0h3m2 0h3m-1 0h3m0 0h3m0 0h3m1 0h3m1 0h3m-2 0h3m-3 0h3m-1 0h3m-1 0h3m-1 0h3m-1 0h3m-2 0h3m0 0h3m-2 0h3m-1 0h3m0 0h3m18 0h3m-3 0h3m-120 1h3m1 0h3m16 0h3m23 0h3m-1 0h3m1 0h3m-2 0h3m2 0h3m10 0h3m2 0h3m3 0h3m-2 0h3m-3 0h3m-3 0h3m-3 0h3m1 0h3m-2 0h3m-1 0h3m-1 0h3m-3 0h3m4 0h3m-1 0h3m11 0h3m-92 1h3m13 0h3m-2 0h3m-2 0h3m-2 0h3m2 0h3m1 0h3m5 0h3m-1 0h3m4 0h3m0 0h3m-3 0h3m0 0h3m0 0h3m-2 0h3m2 0h3m1 0h3m1 0h3m-3 0h3m13 0h3m0 0h3m0 0h3m26 0h3m-125 1h3m-1 0h3m-1 0h3m4 0h3m-1 0h3m0 0h3m-1 0h3m2 0h3m-2 0h3m-3 0h3m-1 0h3m-3 0h3m-1 0h3m-3 0h3m-3 0h3m0 0h3m4 0h3m-1 0h3m-2 0h3m1 0h3m-3 0h3m2 0h3m0 0h3m-1 0h3m6 0h3m1 0h3m12 0h3m3 0h3m-95 1h3m15 0h3m-3 0h3m0 0h3m-2 0h3m-2 0h3m-2 0h3m-1 0h3m2 0h3m-1 0h3m-1 0h3m-2 0h3m-1 0h3m-2 0h3m1 0h3m3 0h3m4 0h3m-3 0h3m-2 0h3m-3 0h3m-1 0h3m-1 0h3m0 0h3m0 0h3m-2 0h3m5 0h3m6 0h3m3 0h3m-100 1h3m3 0h3m1 0h3m-2 0h3m10 0h3m0 0h3m-3 0h3m5 0h3m5 0h3m-2 0h3m-2 0h3m-3 0h3m-2 0h3m5 0h3m-3 0h3m-2 0h3m1 0h3m-2 0h3m-2 0h3m-1 0h3m-3 0h3m-2 0h3m-2 0h3m-2 0h3m-2 0h3m7 0h3m-1 0h3m4 0h3m-100 1h3m0 0h3m12 0h3m6 0h3m12 0h3m3 0h3m-1 0h3m0 0h3m-1 0h3m-1 0h3m-2 0h3m7 0h3m-1 0h3m0 0h3m7 0h3m-3 0h3m-3 0h3m-2 0h3m6 0h3m1 0h3m12 0h3m-86 1h3m4 0h3m2 0h3m8 0h3m-2 0h3m2 0h3m-2 0h3m-2 0h3m-2 0h3m-3 0h3m-1 0h3m-1 0h3m4 0h3m13 0h3m0 0h3m2 0h3m7 0h3m-92 1h3m4 0h3m16 0h3m-1 0h3m-1 0h3m-3 0h3m2 0h3m-1 0h3m1 0h3m-2 0h3m-1 0h3m3 0h3m-2 0h3m2 0h3m-1 0h3m11 0h3m1 0h3m-1 0h3m32 0h3m-127 1h3m5 0h3m22 0h3m-2 0h3m-1 0h3m0 0h3m5 0h3m-3 0h3m1 0h3m-2 0h3m0 0h3m0 0h3m-1 0h3m-2 0h3m-1 0h3m-3 0h3m-2 0h3m-2 0h3m-1 0h3m-3 0h3m0 0h3m2 0h3m0 0h3m-3 0h3m-2 0h3m2 0h3m6 0h3m3 0h3m-100 1h3m8 0h3m-2 0h3m9 0h3m3 0h3m0 0h3m-2 0h3m1 0h3m0 0h3m-2 0h3m1 0h3m0 0h3m-2 0h3m-3 0h3m-1 0h3m5 0h3m1 0h3m-2 0h3m0 0h3m-2 0h3m-3 0h3m1 0h3m20 0h3m-3 0h3m1 0h3m-82 1h3m-2 0h3m-2 0h3m-3 0h3m-2 0h3m-3 0h3m-1 0h3m3 0h3m-2 0h3m0 0h3m-1 0h3m-1 0h3m2 0h3m-1 0h3m2 0h3m2 0h3m-2 0h3m1 0h3m-3 0h3m-1 0h3m13 0h3m6 0h3m14 0h3m-103 1h3m12 0h3m6 0h3m0 0h3m1 0h3m3 0h3m0 0h3m1 0h3m0 0h3m-1 0h3m-2 0h3m-2 0h3m-1 0h3m-2 0h3m-3 0h3m0 0h3m-2 0h3m-1 0h3m2 0h3m3 0h3m4 0h3m-2 0h3m-2 0h3m1 0h3m2 0h3m-65 1h3m-1 0h3m2 0h3m2 0h3m3 0h3m-2 0h3m0 0h3m-3 0h3m-2 0h3m-1 0h3m-3 0h3m1 0h3m-2 0h3m0 0h3m4 0h3m-3 0h3m-1 0h3m5 0h3m0 0h3m-1 0h3m4 0h3m-2 0h3m-107 1h3m5 0h3m8 0h3m6 0h3m-1 0h3m0 0h3m-2 0h3m4 0h3m-1 0h3m10 0h3m-2 0h3m0 0h3m1 0h3m-1 0h3m-2 0h3m-2 0h3m-1 0h3m-1 0h3m-2 0h3m11 0h3m1 0h3m-80 1h3m-2 0h3m2 0h3m19 0h3m1 0h3m-1 0h3m-3 0h3m0 0h3m-2 0h3m-2 0h3m-3 0h3m1 0h3m1 0h3m-2 0h3m-3 0h3m0 0h3m-1 0h3m-3 0h3m-2 0h3m-3 0h3m-3 0h3m0 0h3m-2 0h3m0 0h3m0 0h3m-2 0h3m-2 0h3m1 0h3m12 0h3m1 0h3m-84 1h3m4 0h3m10 0h3m-2 0h3m-3 0h3m6 0h3m-2 0h3m7 0h3m13 0h3m6 0h3m6 0h3m-1 0h3m13 0h3m-101 1h3m4 0h3m0 0h3m0 0h3m-1 0h3m8 0h3m-1 0h3m3 0h3m3 0h3m0 0h3m-2 0h3m1 0h3m0 0h3m8 0h3m1 0h3m-1 0h3m4 0h3m0 0h3m5 0h3m-107 1h3m10 0h3m-2 0h3m11 0h3m1 0h3m-3 0h3m3 0h3m15 0h3m-1 0h3m2 0h3m-3 0h3m-1 0h3m-3 0h3m-2 0h3m-2 0h3m1 0h3m4 0h3m-2 0h3m9 0h3m-1 0h3m-3 0h3m-83 1h3m8 0h3m9 0h3m-3 0h3m1 0h3m-2 0h3m2 0h3m-3 0h3m5 0h3m15 0h3m6 0h3m-3 0h3m2 0h3m-3 0h3m6 0h3m-2 0h3m14 0h3m-115 1h3m19 0h3m11 0h3m1 0h3m3 0h3m5 0h3m11 0h3m10 0h3m-2 0h3m3 0h3m3 0h3m-58 1h3m8 0h3m9 0h3m1 0h3m0 0h3m-3 0h3m11 0h3m-62 1h3m4 0h3m3 0h3m-2 0h3m-2 0h3m4 0h3m-2 0h3m1 0h3m-2 0h3m-3 0h3m1 0h3m-1 0h3m1 0h3m-1 0h3m19 0h3m-3 0h3m-2 0h3m-2 0h3m1 0h3m7 0h3m-81 1h3m24 0h3m5 0h3m0 0h3m-2 0h3m0 0h3m5 0h3m3 0h3m5 0h3m-1 0h3m3 0h3m-73 1h3m7 0h3m-3 0h3m-2 0h3m-2 0h3m-2 0h3m-2 0h3m6 0h3m5 0h3m-2 0h3m0 0h3m0 0h3m1 0h3m-3 0h3m-1 0h3m-1 0h3m12 0h3m-76 1h3m21 0h3m0 0h3m-3 0h3m-2 0h3m-1 0h3m7 0h3m-3 0h3m-2 0h3m9 0h3m-2 0h3m-3 0h3m-2 0h3m-1 0h3m4 0h3m-60 1h3m-2 0h3m7 0h3m9 0h3m2 0h3m-2 0h3m3 0h3m5 0h3m4 0h3m9 0h3m4 0h3m-73 1h3m1 0h3m1 0h3m-1 0h3m1 0h3m-2 0h3m2 0h3m1 0h3m-3 0h3m0 0h3m-2 0h3m-3 0h3m4 0h3m4 0h3m1 0h3m-2 0h3m1 0h3m-2 0h3m-1 0h3m-2 0h3m7 0h3m-78 1h3m-1 0h3m14 0h3m6 0h3m19 0h3m3 0h3m-2 0h3m0 0h3m4 0h3m-3 0h3m24 0h3m-90 1h3m2 0h3m9 0h3m6 0h3m-1 0h3m2 0h3m-2 0h3m4 0h3m-1 0h3m11 0h3m3 0h3m-1 0h3m-1 0h3m-64 1h3m-2 0h3m3 0h3m-2 0h3m3 0h3m0 0h3m-2 0h3m0 0h3m1 0h3m-3 0h3m1 0h3m0 0h3m-2 0h3m3 0h3m7 0h3m-58 1h3m1 0h3m6 0h3m2 0h3m-1 0h3m1 0h3m1 0h3m6 0h3m-1 0h3m-2 0h3m1 0h3m-2 0h3m-2 0h3m-2 0h3m-3 0h3m-1 0h3m-2 0h3m-1 0h3m-1 0h3m-2 0h3m-1 0h3m1 0h3m14 0h3m-96 1h3m10 0h3m0 0h3m18 0h3m3 0h3m2 0h3m-2 0h3m0 0h3m5 0h3m-2 0h3m-23 1h3m-2 0h3m6 0h3m11 0h3m17 0h3m-76 1h3m7 0h3m11 0h3m5 0h3m-2 0h3m10 0h3m1 0h3m2 0h3m6 0h3m-85 1h3m15 0h3m12 0h3m30 0h3m-2 0h3m6 0h3m-53 1h3m3 0h3m2 0h3m-1 0h3m-1 0h3m15 0h3m6 0h3m-1 0h3m5 0h3m12 0h3m-59 1h3m8 0h3m5 0h3m-2 0h3m4 0h3m3 0h3m2 0h3m15 0h3m-56 1h3m0 0h3m1 0h3m0 0h3m2 0h3m-3 0h3m-1 0h3m17 0h3m-50 1h3m6 0h3m3 0h3m-1 0h3m2 0h3m8 0h3m36 0h3m-82 1h3m-1 0h3m6 0h3m9 0h3m10 0h3m-31 1h3m19 0h3m-2 0h3m-1 0h3m3 0h3m4 0h3m-2 0h3m1 0h3m1 0h3m-2 0h3m-81 1h3m7 0h3m10 0h3m11 0h3m1 0h3m-3 0h3m4 0h3m-2 0h3m-3 0h3m9 0h3m-45 1h3m15 0h3m5 0h3m2 0h3m14 0h3m-58 1h3m26 0h3m19 0h3m0 0h3m1 0h3m-34 1h3m-2 0h3m2 0h3m0 0h3m0 0h3m-1 0h3m1 0h3m19 0h3m-48 1h3m8 0h3m5 0h3m-1 0h3m28 0h3m-76 1h3m-2 0h3m1 0h3m0 0h3m7 0h3m-1 0h3m7 0h3m9 0h3m-1 0h3m-3 0h3m-2 0h3m-1 0h3m-2 0h3m-1 0h3m-29 1h3m0 0h3m-2 0h3m2 0h3m-2 0h3m8 0h3m-13 1h3m-1 0h3m-1 0h3m4 0h3m3 0h3m0 0h3m1 0h3m-10 1h3m6 0h3m-58 1h3m5 0h3m9 0h3m6 0h3m13 0h3m13 0h3m-85 1h3m22 0h3m19 0h3m25 0h3m-77 1h3m9 0h3m-2 0h3m19 0h3m14 0h3m-2 0h3m16 0h3m-1 1h3m-29 1h3m0 0h3m6 0h3m-20 1h3m-1 0h3m-3 0h3m-2 0h3m9 0h3m-43 1h3m44 0h3m-53 2h3m29 1h3m-9 1h3"/>
<path transform="scale(.5)" stroke="#777" stroke-width="3" d="M462 200h3m-12 9h3m19 25h3m21 9h3m-1 0h3m-31 3h3m-48 6h3m42 2h3m-35 1h3m44 0h3m-6 3h3m-12 10h3m-60 3h3m38 2h3m-1 13h3m16 3h3m-27 6h3m-25 1h3m-34 2h3m55 2h3m25 0h3m-1 1h3m-53 1h3m58 0h3m-75 1h3m45 0h3m-49 1h3m28 0h3m14 0h3m14 1h3m-35 1h3m-34 1h3m0 2h3m50 2h3m-26 1h3m38 0h3m-58 2h3m18 1h3m1 0h3m-4 1h3m-4 1h3m-1 0h3m48 1h3m-99 1h3m40 0h3m8 1h3m-36 1h3m56 0h3m-72 2h3m-25 1h3m-2 1h3m70 0h3m39 0h3m-72 1h3m4 0h3m-27 1h3m22 2h3m-1 0h3m-22 2h3m9 0h3m37 0h3m-92 2h3m-39 1h3m50 2h3m21 0h3m20 0h3m-29 1h3m-19 1h3m9 0h3m1 3h3m-6 1h3m0 0h3m-39 2h3m38 0h3m-34 1h3m29 1h3m19 0h3m-36 1h3m6 0h3m-26 2h3m47 2h3m-20 5h3m-54 1h3m5 1h3m23 2h3m-4 1h3m12 0h3m-43 6h3m30 1h3m-29 1h3m20 0h3m-13 14h3m-10 8h3m-16 5h3"/>
<path transform="scale(.5)" stroke="#111" stroke-width="3" d="M525 12h3m141 1h3m-141 3h3m79 7h3m-129 1h3m95 2h3m99 2h3m-88 4h3m-80 2h3m6 10h3m76 0h3m28 1h3m-158 1h3m168 0h3m-51 1h3m-89 1h3m8 2h3m98 0h3m-134 6h3m194 0h3m-55 4h3m-108 4h3m133 0h3m-55 3h3m-146 1h3m25 0h3m172 0h3m13 0h3m-185 5h3m97 1h3m0 2h3m33 2h3m-126 1h3m126 1h3m-160 1h3m65 0h3m17 0h3m72 1h3m-58 2h3m57 0h3m13 0h3m-85 2h3m25 0h3m33 0h3m-87 1h3m52 1h3m-33 1h3m22 1h3m-58 2h3m114 0h3m-94 2h3m-24 1h3m97 0h3m-134 1h3m-5 2h3m21 0h3m41 1h3m-131 1h3m81 0h3m72 0h3m-140 1h3m69 0h3m-54 1h3m56 0h3m-118 1h3m70 1h3m-24 3h3m41 1h3m41 0h3m28 0h3m35 0h3m-143 2h3m13 1h3m111 0h3m-119 1h3m29 0h3m-106 1h3m104 1h3m9 1h3m-26 1h3m-103 2h3m60 0h3m9 1h3m71 0h3m-16 1h3m-36 1h3m79 0h3m-110 2h3m20 0h3m-102 1h3m73 0h3m16 0h3m17 0h3m23 1h3m1 0h3m-48 2h3m45 0h3m-112 1h3m-12 2h3m46 0h3m-96 1h3m80 0h3m67 1h3m-69 1h3m46 0h3m-66 2h3m-28 1h3m45 0h3m16 0h3m95 6h3m-108 2h3m30 0h3m0 0h3m70 0h3m-131 1h3m114 0h3m-57 1h3m-14 1h3m-55 1h3m30 0h3m24 0h3m-41 1h3m30 0h3m-1 0h3m-65 2h3m16 0h3m43 0h3m-30 2h3m0 0h3m36 0h3m-86 1h3m-35 1h3m70 3h3m20 0h3m-110 1h3m0 0h3m83 0h3m9 0h3m-120 1h3m46 0h3m-21 1h3m50 0h3m-12 1h3m-86 1h3m83 0h3m30 0h3m15 0h3m31 0h3m-132 1h3m66 0h3m-97 1h3m26 0h3m65 0h3m13 0h3m7 0h3m-47 1h3m27 0h3m-26 1h3m3 0h3m19 1h3m11 0h3m11 0h3m-59 1h3m7 0h3m-68 2h3m21 1h3m23 1h3m19 0h3m-141 1h3m59 0h3m68 0h3m7 0h3m2 0h3m40 0h3m-124 1h3m12 0h3m60 1h3m-43 1h3m11 0h3m-56 1h3m28 0h3m0 0h3m71 0h3m-110 1h3m10 0h3m29 0h3m-107 1h3m20 0h3m47 0h3m16 0h3m7 1h3m24 0h3m-61 1h3m78 0h3m-80 1h3m7 0h3m4 0h3m-3 1h3m45 0h3m-68 1h3m35 0h3m-11 1h3m65 0h3m-137 1h3m9 0h3m21 0h3m-2 0h3m24 0h3m42 0h3m-65 1h3m-100 1h3m85 0h3m-7 1h3m-2 0h3m34 0h3m14 0h3m-112 2h3m29 2h3m36 0h3m54 1h3m-85 1h3m63 0h3m-29 1h3m21 0h3m-120 1h3m27 0h3m43 0h3m-21 1h3m6 0h3m31 0h3m19 0h3m-134 1h3m78 0h3m54 0h3m-84 1h3m2 0h3m17 0h3m44 0h3m9 1h3m-65 2h3m37 0h3m30 1h3m-95 1h3m46 0h3m-58 3h3m11 0h3m1 0h3m60 1h3m-107 2h3m4 1h3m38 0h3m27 2h3m-42 1h3m29 0h3m-2 0h3m1 0h3m30 0h3m-42 1h3m-45 1h3m10 0h3m-29 2h3m29 0h3m-21 1h3m22 0h3m0 0h3m-55 1h3m-9 1h3m48 0h3m4 0h3m2 1h3m41 0h3m-22 2h3m-118 1h3m147 0h3m-85 1h3m-28 1h3m19 0h3m-81 1h3m45 0h3m20 0h3m105 0h3m-121 1h3m29 0h3m-63 1h3m94 0h3m-106 1h3m77 0h3m15 0h3m-49 1h3m-50 1h3m4 1h3m28 1h3m54 0h3m-11 1h3m-80 1h3m40 0h3m19 0h3m-55 2h3m-1 0h3m68 0h3m27 0h3m-111 1h3m25 0h3m-1 0h3m-69 1h3m36 0h3m-27 1h3m41 0h3m-50 1h3m4 0h3m-21 1h3m17 0h3m25 0h3m51 0h3m-108 1h3m-1 0h3m8 0h3m29 0h3m25 0h3m56 0h3m-36 1h3m-16 1h3m-37 2h3m7 0h3m5 1h3m35 0h3m-100 1h3m10 2h3m86 0h3m0 1h3m-67 1h3m-20 1h3m48 0h3m-59 1h3m14 1h3m6 0h3m6 0h3m-11 1h3m16 0h3m-90 1h3m148 0h3m-157 1h3m98 0h3m-22 1h3m27 0h3m-79 1h3m2 1h3m15 0h3m4 0h3m7 0h3m17 0h3m46 0h3m-125 1h3m12 0h3m12 1h3m66 1h3m9 0h3m-116 1h3m110 0h3m-75 2h3m-17 2h3m38 0h3m-69 1h3m1 0h3m1 0h3m-31 1h3m63 0h3m-62 1h3m16 0h3m-4 1h3m14 1h3m-10 1h3m8 0h3m28 1h3m17 0h3m11 2h3m-48 1h3m4 1h3m11 0h3m-67 1h3m32 0h3m20 0h3m-55 1h3m32 0h3m8 0h3m16 0h3m-65 2h3m75 0h3m-76 1h3m13 0h3m-20 2h3m38 1h3m-51 1h3m24 0h3m-12 1h3m-11 1h3m78 0h3m-118 1h3m25 0h3m-15 2h3m31 0h3m27 0h3m-81 1h3m80 0h3m-20 1h3m-57 1h3m4 0h3m81 0h3m-97 2h3m24 1h3m20 0h3m-50 2h3m18 0h3m-41 2h3m16 3h3m24 3h3m-6 5h3m-23 1h3m28 1h3m-50 1h3m55 4h3m-33 2h3m6 0h3m1 0h3m2 0h3m-52 2h3m7 2h3m7 1h3"/>
<path transform="scale(.5)" stroke="#777" stroke-width="3" d="M528 11h3m16 1h3m68 4h3m-70 3h3m-33 1h3m-32 2h3m10 0h3m58 4h3m-73 8h3m174 0h3m22 23h3m-131 6h3m12 0h3m48 0h3m57 0h3m-23 13h3m-120 3h3m56 0h3m14 0h3m-131 1h3m51 14h3m96 1h3m15 1h3m-141 1h3m12 3h3m118 10h3m-41 1h3m49 1h3m-89 5h3m-12 3h3m63 2h3m-75 3h3m57 0h3m-26 2h3m30 0h3m-65 1h3m-11 1h3m-30 2h3m125 0h3m-88 2h3m-31 1h3m-5 1h3m74 7h3m-26 1h3m-97 1h3m86 0h3m27 2h3m-89 1h3m51 0h3m-37 1h3m24 0h3m4 0h3m25 0h3m-93 2h3m48 0h3m41 0h3m-103 1h3m98 2h3m-81 1h3m24 6h3m18 2h3m0 0h3m-91 2h3m36 3h3m16 1h3m-1 1h3m-28 2h3m13 0h3m23 0h3m-80 2h3m72 0h3m-54 1h3m11 0h3m-89 3h3m46 2h3m-22 2h3m24 0h3m51 1h3m-15 2h3m36 0h3m-27 3h3m-57 1h3m115 2h3m-49 1h3m-101 1h3m44 0h3m-70 1h3m111 0h3m-47 3h3m-43 1h3m33 0h3m4 0h3m12 1h3m23 2h3m-111 1h3m33 0h3m20 1h3m62 2h3m-52 1h3m-87 1h3m74 0h3m-34 1h3m29 0h3m4 0h3m-66 1h3m61 0h3m10 1h3m-85 1h3m67 2h3m-12 1h3m72 6h3m-93 1h3m-39 3h3m55 1h3m-1 0h3m-25 2h3m1 1h3m-36 2h3m23 0h3m-12 5h3m73 1h3m-98 1h3m15 0h3m-29 1h3m33 1h3m-68 1h3m51 1h3m-24 2h3m-18 1h3m95 0h3m-74 1h3m20 0h3m0 0h3m51 0h3m-19 2h3m-101 3h3m16 4h3m41 0h3m14 0h3m3 0h3m-64 2h3m21 0h3m3 0h3m-61 2h3m-29 1h3m41 4h3m51 0h3m-52 3h3m-25 4h3m-22 2h3m70 1h3m-33 2h3m-19 1h3m46 0h3m-32 1h3m-18 1h3m-9 1h3m35 1h3m-55 13h3m9 3h3m1 1h3m80 1h3m-105 4h3m12 0h3m50 1h3m-85 8h3m24 0h3m36 0h3m26 3h3m-76 1h3m28 4h3m5 13h3"/>
<path transform="scale(.5)" stroke="#111" stroke-width="2.6" d="M443 678h3m-126 8h3m-9 1h3m-105 1h3m70 1h3m147 0h3m-232 3h3m153 0h3m-219 3h3m129 0h3m2 0h3m-4 1h3m28 0h3m1 0h3m-106 1h3m32 0h3m-104 1h3m26 0h3m94 2h3m13 0h3m93 0h3m-180 2h3m50 0h3m39 0h3m-53 2h3m25 0h3m173 0h3m-228 2h3m-39 1h3m64 0h3m2 0h3m40 0h3m70 0h3m-168 1h3m70 0h3m-168 1h3m51 0h3m31 1h3m61 0h3m209 0h3m-309 1h3m18 0h3m92 1h3m-104 1h3m39 0h3m0 0h3m80 0h3m146 0h3m-154 1h3m78 0h3m-284 1h3m145 0h3m21 0h3m153 0h3m-231 1h3m30 0h3m0 0h3m117 0h3m-119 2h3m101 0h3m-185 1h3m10 0h3m57 0h3m0 0h3m39 0h3m-112 1h3m37 0h3m17 0h3m56 0h3m-56 1h3m28 0h3m86 0h3m8 0h3m77 0h3m-320 1h3m120 0h3m185 0h3m-284 1h3m6 0h3m15 0h3m18 0h3m42 0h3m143 0h3m-206 1h3m-55 1h3m66 0h3m-14 1h3m156 0h3m-188 1h3m11 0h3m26 0h3m25 0h3m53 0h3m1 0h3m59 0h3m8 0h3m-172 1h3m61 0h3m-55 1h3m6 0h3m17 0h3m19 0h3m12 0h3m4 0h3m-109 1h3m24 0h3m66 0h3m-83 1h3m29 0h3m32 0h3m33 0h3m-182 1h3m7 0h3m103 0h3m13 0h3m199 0h3m-322 1h3m120 0h3m43 0h3m-94 1h3m104 0h3m9 0h3m8 0h3m59 0h3m-272 1h3m7 0h3m-1 0h3m34 0h3m3 0h3m112 0h3m78 0h3m-235 1h3m125 0h3m44 0h3m-188 1h3m71 0h3m-71 1h3m23 0h3m19 0h3m74 0h3m46 0h3m35 0h3m-260 1h3m26 0h3m6 0h3m0 0h3m50 0h3m195 0h3m-252 1h3m1 0h3m19 0h3m40 0h3m-144 1h3m137 0h3m158 0h3m-273 1h3m105 0h3m164 0h3m-200 1h3m7 0h3m6 0h3m58 0h3m56 0h3m-231 1h3m81 0h3m14 0h3m82 0h3m0 0h3m52 0h3m25 0h3m-238 1h3m33 0h3m32 0h3m23 0h3m4 0h3m3 0h3m18 0h3m93 0h3m28 0h3m26 0h3m-217 1h3m126 0h3m-210 1h3m22 0h3m8 1h3m14 0h3m82 0h3m-72 1h3m19 0h3m9 0h3m93 0h3m127 0h3m-328 1h3m48 0h3m25 0h3m69 0h3m25 0h3m-216 1h3m44 0h3m17 0h3m16 0h3m63 0h3m157 0h3m-260 1h3m23 0h3m25 0h3m23 0h3m12 0h3m18 0h3m34 0h3m-211 1h3m25 0h3m37 0h3m13 0h3m8 0h3m61 0h3m118 0h3m-251 1h3m198 0h3m-223 1h3m51 0h3m-2 0h3m20 0h3m25 0h3m-2 0h3m21 0h3m46 0h3m145 0h3m-353 1h3m103 0h3m14 0h3m46 0h3m52 0h3m37 0h3m50 0h3m-257 1h3m41 0h3m34 0h3m4 0h3m32 0h3m-130 1h3m18 0h3m23 0h3m51 0h3m63 0h3m-2 0h3m57 0h3m-190 1h3m56 0h3m17 0h3m95 0h3m-197 1h3m22 0h3m67 0h3m-49 1h3m36 0h3m-1 0h3m58 0h3m44 0h3m18 0h3m-289 1h3m10 0h3m9 0h3m37 0h3m30 0h3m-89 1h3m-1 0h3m31 0h3m117 0h3m-100 1h3m37 0h3m37 0h3m8 0h3m102 0h3m-293 1h3m78 0h3m88 0h3m-80 1h3m9 0h3m21 0h3m-77 1h3m42 0h3m26 0h3m100 0h3m-145 1h3m-77 1h3m94 0h3m170 0h3m11 1h3m-294 2h3m106 0h3m23 0h3m-119 1h3m50 0h3m-47 1h3m57 0h3m10 0h3m17 2h3m-62 1h3m93 0h3m55 0h3m-210 1h3m69 2h3m25 0h3m-78 1h3m86 0h3m163 0h3m-247 1h3m74 1h3m-42 1h3m137 1h3m-115 1h3m40 0h3m-68 1h3m-55 4h3m57 0h3m-83 1h3m118 2h3m-40 1h3m-36 5h3m24 1h3m3 1h3m211 4h3"/>
<path transform="scale(.5)" stroke="#777" stroke-width="2.6" d="M181 691h3m86 0h3m39 1h3m-35 2h3m-81 3h3m229 1h3m-284 1h3m109 1h3m150 0h3m-9 1h3m-174 2h3m195 1h3m49 0h3m-48 2h3m-142 1h3m29 0h3m-140 1h3m40 0h3m39 0h3m-132 2h3m172 0h3m-156 1h3m24 0h3m95 0h3m-77 2h3m-12 2h3m105 0h3m-75 1h3m44 0h3m-174 1h3m113 1h3m78 0h3m-38 1h3m-110 1h3m103 0h3m56 0h3m-155 1h3m17 1h3m87 0h3m-60 1h3m73 0h3m-173 1h3m126 0h3m-21 2h3m35 0h3m32 0h3m20 0h3m73 1h3m-244 1h3m116 0h3m-115 1h3m67 0h3m59 0h3m-76 2h3m-70 1h3m16 1h3m45 1h3m22 0h3m34 0h3m-180 2h3m101 0h3m14 0h3m3 0h3m90 0h3m-202 1h3m45 0h3m169 0h3m-159 1h3m57 0h3m35 0h3m47 0h3m-222 1h3m-1 0h3m25 0h3m48 0h3m11 0h3m63 0h3m-194 1h3m51 0h3m80 0h3m43 0h3m-164 1h3m99 0h3m3 0h3m181 0h3m-192 1h3m29 1h3m-117 1h3m97 0h3m-42 2h3m18 1h3m5 0h3m46 0h3m-112 1h3m8 0h3m-19 1h3m25 0h3m-28 1h3m50 0h3m99 0h3m-221 1h3m125 0h3m40 0h3m-110 1h3m30 0h3m14 0h3m52 0h3m122 0h3m-239 1h3m-81 1h3m161 0h3m-165 1h3m156 0h3m-12 1h3m76 0h3m6 0h3m87 0h3m-258 1h3m9 1h3m-33 1h3m42 0h3m43 0h3m27 0h3m-178 1h3m145 0h3m35 0h3m167 0h3m-226 1h3m44 0h3m131 0h3m17 0h3m-121 1h3m-128 2h3m36 0h3m17 0h3m27 0h3m7 1h3m-144 2h3m156 0h3m-165 2h3m-5 1h3m116 0h3m-65 1h3m91 0h3m-123 1h3m10 1h3m59 0h3m20 2h3m107 0h3m-260 2h3m235 0h3m-252 7h3m56 2h3m85 0h3m-88 7h3m58 0h3m-1 2h3"/>
<path transform="scale(.5)" stroke="#111" stroke-width="2.6" d="M445 781h3m-42 1h3m25 3h3m-28 1h3m45 10h3m-264 6h3m161 1h3m40 0h3m-63 1h3m123 0h3m-95 4h3m-117 6h3m203 7h3m-118 5h3m-142 10h3m33 2h3m-109 5h3m314 2h3m2 0h3m-291 3h3m86 1h3m29 1h3m-67 4h3m234 1h3m-202 1h3m-70 1h3m-21 2h3m21 7h3m57 4h3m163 5h3m-187 7h3m93 0h3m-116 7h3"/>
<path transform="scale(.5)" stroke="#777" stroke-width="2.6" d="M315 783h3m89 6h3m-177 8h3m48 8h3m-23 25h3m87 22h3m118 0h3m-335 11h3m313 0h3m-89 1h3m-52 12h3m-56 13h3"/>
<path transform="scale(.5)" stroke="#111" stroke-width="2.6" d="M419 767h3m-36 17h3m28 8h3m-23 7h3m32 1h3m25 1h3m-27 1h3m-93 3h3m57 1h3m-48 2h3m1 2h3m44 0h3m-17 2h3m-10 1h3m2 2h3m33 0h3m-46 2h3m69 1h3m-96 2h3m43 0h3m-18 1h3m10 0h3m5 0h3m-50 1h3m-21 1h3m61 0h3m-60 1h3m55 0h3m-17 1h3m8 2h3m-56 2h3m52 0h3m-54 1h3m43 0h3m-62 1h3m19 0h3m8 0h3m3 0h3m41 0h3m11 0h3m-15 2h3m-30 1h3m13 1h3m6 0h3m-67 1h3m31 0h3m21 2h3m-15 1h3m-7 1h3m-68 2h3m49 1h3m-40 1h3m55 1h3m-27 1h3m45 1h3m-24 1h3m19 0h3m-107 1h3m55 0h3m-26 1h3m30 0h3m51 0h3m-39 3h3m-88 1h3m27 2h3m25 1h3m0 0h3m-54 2h3m107 0h3m-76 1h3m0 1h3m5 3h3m67 0h3m-148 3h3m104 0h3m-28 1h3m-62 1h3m12 0h3m43 1h3m-51 3h3m16 5h3m58 0h3m-33 1h3m-27 1h3m-27 2h3m20 1h3m35 2h3m-42 2h3m-39 12h3m103 4h3m-122 4h3m71 7h3"/>
<path transform="scale(.5)" stroke="#777" stroke-width="2.6" d="M388 778h3m77 1h3m-40 8h3m-52 12h3m24 10h3m-40 5h3m17 1h3m-19 3h3m52 0h3m36 1h3m-111 5h3m19 2h3m0 1h3m62 1h3m-33 3h3m3 1h3m4 0h3m11 3h3m-83 4h3m-2 1h3m75 2h3m-41 5h3m45 3h3m32 1h3m-24 1h3m-49 5h3m38 0h3m-88 1h3m-1 0h3m37 6h3m-8 12h3m-42 1h3m66 10h3m-84 2h3m-55 1h3m112 9h3m-100 6h3m98 0h3"/>
<path transform="scale(.5)" stroke="#111" stroke-width="3.2" d="M195 883h3m15 4h3m-47 6h3m-1 0h3m56 3h3m-47 4h3m45 1h3m4 4h3m-125 1h3m72 0h3m52 0h3m-79 2h3m43 1h3m-28 1h3m-27 2h3m56 0h3m8 0h3m-59 1h3m19 0h3m-9 2h3m5 0h3m-75 2h3m15 0h3m25 1h3m16 0h3m-34 1h3m12 0h3m0 0h3m51 0h3m-109 1h3m39 1h3m16 0h3m-26 1h3m-4 1h3m16 0h3m15 0h3m-3 1h3m2 0h3m-36 1h3m33 0h3m-46 3h3m26 0h3m2 0h3m51 0h3m-97 1h3m15 0h3m26 0h3m-1 1h3m-55 1h3m49 0h3m26 0h3m-115 1h3m22 0h3m23 0h3m3 0h3m4 0h3m1 0h3m22 0h3m1 0h3m-104 1h3m55 0h3m-41 1h3m34 0h3m39 0h3m-113 1h3m40 0h3m19 1h3m-3 0h3m52 0h3m-80 1h3m0 0h3m24 0h3m22 0h3m6 0h3m-73 1h3m34 0h3m-37 1h3m32 0h3m0 0h3m-1 0h3m14 0h3m-42 1h3m7 0h3m15 0h3m12 0h3m8 0h3m-79 1h3m54 0h3m21 0h3m-61 1h3m29 0h3m-1 0h3m11 0h3m-45 1h3m-55 1h3m13 0h3m-2 0h3m2 0h3m12 0h3m16 0h3m6 0h3m-2 0h3m-2 0h3m18 0h3m-108 1h3m11 0h3m40 0h3m-2 0h3m11 0h3m0 0h3m17 0h3m-62 1h3m-1 0h3m4 0h3m6 0h3m3 0h3m11 0h3m5 0h3m12 0h3m-48 1h3m5 0h3m3 0h3m5 0h3m9 0h3m-3 0h3m0 0h3m0 0h3m-54 1h3m83 0h3m-97 1h3m9 0h3m-1 0h3m3 0h3m2 0h3m5 0h3m1 0h3m1 0h3m2 0h3m0 0h3m3 0h3m3 0h3m-2 0h3m0 0h3m0 0h3m-85 1h3m9 0h3m8 0h3m6 0h3m0 0h3m12 0h3m2 0h3m-3 0h3m4 0h3m1 0h3m-1 0h3m-1 0h3m11 0h3m-20 1h3m15 0h3m8 0h3m-89 1h3m0 0h3m4 0h3m-2 0h3m-3 0h3m16 0h3m4 0h3m-2 0h3m5 0h3m-2 0h3m7 0h3m-76 1h3m11 0h3m-1 0h3m5 0h3m5 0h3m2 0h3m0 0h3m5 0h3m-1 0h3m4 0h3m2 0h3m-3 0h3m2 0h3m-1 0h3m3 0h3m16 0h3m9 0h3m0 0h3m-2 0h3m-108 1h3m9 0h3m8 0h3m0 0h3m-3 0h3m2 0h3m5 0h3m3 0h3m3 0h3m12 0h3m3 0h3m5 0h3m-3 0h3m26 0h3m-95 1h3m5 0h3m-2 0h3m6 0h3m8 0h3m18 0h3m5 0h3m17 0h3m-2 0h3m-104 1h3m4 0h3m21 0h3m0 0h3m0 0h3m1 0h3m5 0h3m0 0h3m-1 0h3m-2 0h3m6 0h3m12 0h3m-3 0h3m-3 0h3m3 0h3m24 0h3m-94 1h3m31 0h3m4 0h3m0 0h3m1 0h3m1 0h3m13 0h3m-80 1h3m21 0h3m3 0h3m15 0h3m4 0h3m3 0h3m4 0h3m13 0h3m-85 1h3m8 0h3m1 0h3m4 0h3m-1 0h3m3 0h3m3 0h3m3 0h3m1 0h3m-3 0h3m1 0h3m9 0h3m0 0h3m1 0h3m-63 1h3m8 0h3m3 0h3m10 0h3m2 0h3m-2 0h3m-2 0h3m5 0h3m4 0h3m1 0h3m10 0h3m10 0h3m1 0h3m-1 0h3m-96 1h3m5 0h3m2 0h3m-2 0h3m-1 0h3m0 0h3m6 0h3m-3 0h3m8 0h3m-1 0h3m-2 0h3m0 0h3m3 0h3m15 0h3m1 0h3m27 0h3m-109 1h3m17 0h3m-3 0h3m3 0h3m4 0h3m-1 0h3m17 0h3m-2 0h3m1 0h3m6 0h3m6 0h3m-78 1h3m-3 0h3m14 0h3m-3 0h3m2 0h3m-3 0h3m-2 0h3m5 0h3m-2 0h3m0 0h3m0 0h3m4 0h3m-1 0h3m7 0h3m-1 0h3m0 0h3m0 0h3m10 0h3m-103 1h3m39 0h3m-1 0h3m-3 0h3m-2 0h3m5 0h3m3 0h3m2 0h3m2 0h3m0 0h3m-3 0h3m4 0h3m5 0h3m0 0h3m8 0h3m0 0h3m4 0h3m-1 0h3m-111 1h3m20 0h3m6 0h3m4 0h3m9 0h3m0 0h3m3 0h3m-1 0h3m-1 0h3m-1 0h3m-3 0h3m-3 0h3m2 0h3m-2 0h3m-2 0h3m3 0h3m-2 0h3m2 0h3m-2 0h3m0 0h3m-97 1h3m21 0h3m0 0h3m4 0h3m-1 0h3m14 0h3m-3 0h3m1 0h3m0 0h3m0 0h3m-3 0h3m1 0h3m-2 0h3m-1 0h3m-1 0h3m1 0h3m-2 0h3m0 0h3m18 0h3m0 0h3m-2 0h3m-92 1h3m8 0h3m1 0h3m-1 0h3m0 0h3m12 0h3m-2 0h3m4 0h3m4 0h3m2 0h3m2 0h3m-1 0h3m-2 0h3m-2 0h3m-3 0h3m0 0h3m-2 0h3m7 0h3m-85 1h3m-2 0h3m9 0h3m7 0h3m1 0h3m-2 0h3m-1 0h3m3 0h3m-2 0h3m3 0h3m9 0h3m-3 0h3m1 0h3m-3 0h3m6 0h3m1 0h3m2 0h3m-1 0h3m1 0h3m5 0h3m3 0h3m14 0h3m-134 1h3m13 0h3m-3 0h3m5 0h3m18 0h3m-2 0h3m-3 0h3m0 0h3m7 0h3m2 0h3m3 0h3m-2 0h3m-1 0h3m-2 0h3m2 0h3m4 0h3m-2 0h3m3 0h3m-3 0h3m9 0h3m-3 0h3m4 0h3m0 0h3m0 0h3m17 0h3m-122 1h3m9 0h3m-1 0h3m0 0h3m-3 0h3m1 0h3m1 0h3m-1 0h3m-2 0h3m-2 0h3m2 0h3m-1 0h3m1 0h3m-3 0h3m-1 0h3m-3 0h3m-1 0h3m-3 0h3m-1 0h3m2 0h3m2 0h3m-1 0h3m1 0h3m-3 0h3m-2 0h3m4 0h3m3 0h3m0 0h3m8 0h3m-3 0h3m-85 1h3m2 0h3m8 0h3m1 0h3m-2 0h3m0 0h3m7 0h3m-3 0h3m1 0h3m-3 0h3m-2 0h3m9 0h3m-1 0h3m1 0h3m2 0h3m0 0h3m5 0h3m0 0h3m14 0h3m-96 1h3m4 0h3m-1 0h3m5 0h3m-1 0h3m-1 0h3m-3 0h3m-2 0h3m0 0h3m1 0h3m-1 0h3m1 0h3m-3 0h3m-2 0h3m9 0h3m-2 0h3m6 0h3m-2 0h3m-3 0h3m0 0h3m2 0h3m-1 0h3m-2 0h3m1 0h3m-76 1h3m0 0h3m-2 0h3m5 0h3m1 0h3m1 0h3m1 0h3m1 0h3m6 0h3m0 0h3m-3 0h3m-2 0h3m1 0h3m-2 0h3m-1 0h3m0 0h3m-1 0h3m-2 0h3m6 0h3m-2 0h3m14 0h3m-1 0h3m0 0h3m1 0h3m6 0h3m-105 1h3m15 0h3m5 0h3m2 0h3m-3 0h3m-3 0h3m-1 0h3m-2 0h3m-3 0h3m3 0h3m-1 0h3m2 0h3m-3 0h3m-1 0h3m-3 0h3m-2 0h3m-3 0h3m-3 0h3m-2 0h3m-1 0h3m-3 0h3m-2 0h3m-1 0h3m2 0h3m1 0h3m16 0h3m4 0h3m-111 1h3m6 0h3m11 0h3m6 0h3m3 0h3m-2 0h3m5 0h3m-1 0h3m-1 0h3m0 0h3m6 0h3m-1 0h3m5 0h3m-1 0h3m-3 0h3m3 0h3m-2 0h3m5 0h3m-1 0h3m4 0h3m0 0h3m0 0h3m5 0h3m0 0h3m7 0h3m-132 1h3m20 0h3m1 0h3m6 0h3m4 0h3m-1 0h3m-1 0h3m1 0h3m0 0h3m13 0h3m-3 0h3m4 0h3m5 0h3m-3 0h3m-2 0h3m14 0h3m-113 1h3m9 0h3m4 0h3m-2 0h3m18 0h3m6 0h3m-3 0h3m2 0h3m2 0h3m0 0h3m3 0h3m3 0h3m3 0h3m-1 0h3m-3 0h3m2 0h3m2 0h3m-1 0h3m4 0h3m3 0h3m-3 0h3m8 0h3m-110 1h3m10 0h3m3 0h3m0 0h3m0 0h3m14 0h3m6 0h3m4 0h3m2 0h3m-2 0h3m0 0h3m6 0h3m-3 0h3m-1 0h3m0 0h3m1 0h3m13 0h3m-94 1h3m0 0h3m3 0h3m-2 0h3m-1 0h3m21 0h3m-3 0h3m-2 0h3m0 0h3m-3 0h3m2 0h3m-1 0h3m5 0h3m2 0h3m1 0h3m-2 0h3m1 0h3m-1 0h3m-3 0h3m4 0h3m3 0h3m1 0h3m1 0h3m1 0h3m-110 1h3m4 0h3m1 0h3m11 0h3m6 0h3m4 0h3m7 0h3m-2 0h3m-2 0h3m-3 0h3m-3 0h3m-1 0h3m-2 0h3m-2 0h3m7 0h3m0 0h3m-2 0h3m-1 0h3m3 0h3m4 0h3m2 0h3m7 0h3m6 0h3m21 0h3m-117 1h3m0 0h3m0 0h3m2 0h3m3 0h3m-3 0h3m4 0h3m-3 0h3m-3 0h3m1 0h3m1 0h3m-2 0h3m-2 0h3m2 0h3m0 0h3m-2 0h3m-3 0h3m6 0h3m2 0h3m2 0h3m0 0h3m-79 1h3m18 0h3m-2 0h3m-1 0h3m-3 0h3m-1 0h3m1 0h3m-3 0h3m0 0h3m-1 0h3m0 0h3m-2 0h3m-1 0h3m-3 0h3m1 0h3m-1 0h3m-1 0h3m2 0h3m0 0h3m-3 0h3m2 0h3m0 0h3m-3 0h3m-1 0h3m-2 0h3m1 0h3m2 0h3m-87 1h3m11 0h3m6 0h3m-3 0h3m0 0h3m10 0h3m2 0h3m0 0h3m5 0h3m-3 0h3m-2 0h3m-1 0h3m-2 0h3m1 0h3m-2 0h3m4 0h3m14 0h3m6 0h3m2 0h3m-1 0h3m1 0h3m-111 1h3m4 0h3m3 0h3m3 0h3m4 0h3m0 0h3m1 0h3m-1 0h3m2 0h3m1 0h3m-2 0h3m-1 0h3m-1 0h3m-2 0h3m-2 0h3m0 0h3m3 0h3m-3 0h3m-2 0h3m9 0h3m-3 0h3m-3 0h3m11 0h3m-3 0h3m0 0h3m7 0h3m10 0h3m-2 0h3m-98 1h3m-3 0h3m0 0h3m9 0h3m-2 0h3m-3 0h3m-3 0h3m0 0h3m-2 0h3m-1 0h3m0 0h3m1 0h3m-1 0h3m-2 0h3m-2 0h3m-3 0h3m-2 0h3m2 0h3m-1 0h3m-2 0h3m-3 0h3m3 0h3m-3 0h3m-2 0h3m3 0h3m17 0h3m10 0h3m13 0h3m4 0h3m-126 1h3m2 0h3m1 0h3m2 0h3m4 0h3m0 0h3m2 0h3m4 0h3m9 0h3m5 0h3m-1 0h3m0 0h3m-3 0h3m-1 0h3m-1 0h3m-3 0h3m-2 0h3m3 0h3m-2 0h3m0 0h3m-1 0h3m-1 0h3m4 0h3m29 0h3m-120 1h3m0 0h3m7 0h3m0 0h3m4 0h3m2 0h3m-3 0h3m-2 0h3m0 0h3m-2 0h3m-1 0h3m-2 0h3m1 0h3m-3 0h3m-2 0h3m-2 0h3m-1 0h3m-2 0h3m-3 0h3m0 0h3m0 0h3m1 0h3m2 0h3m8 0h3m2 0h3m-1 0h3m-3 0h3m-2 0h3m1 0h3m5 0h3m-118 1h3m6 0h3m17 0h3m-1 0h3m8 0h3m-1 0h3m9 0h3m0 0h3m2 0h3m-1 0h3m-2 0h3m-2 0h3m-2 0h3m4 0h3m2 0h3m4 0h3m2 0h3m-3 0h3m4 0h3m-3 0h3m0 0h3m6 0h3m-1 0h3m3 0h3m-113 1h3m-1 0h3m8 0h3m5 0h3m8 0h3m1 0h3m-2 0h3m0 0h3m-2 0h3m2 0h3m4 0h3m1 0h3m1 0h3m-2 0h3m-3 0h3m-2 0h3m1 0h3m-1 0h3m1 0h3m-2 0h3m-3 0h3m1 0h3m1 0h3m-2 0h3m0 0h3m1 0h3m-2 0h3m3 0h3m-91 1h3m1 0h3m-1 0h3m-1 0h3m4 0h3m14 0h3m-2 0h3m0 0h3m-1 0h3m-2 0h3m-3 0h3m-2 0h3m-1 0h3m5 0h3m6 0h3m-1 0h3m5 0h3m-1 0h3m-1 0h3m6 0h3m8 0h3m-2 0h3m-2 0h3m-104 1h3m-3 0h3m-2 0h3m6 0h3m0 0h3m2 0h3m6 0h3m3 0h3m3 0h3m-3 0h3m-3 0h3m2 0h3m-1 0h3m1 0h3m-3 0h3m3 0h3m4 0h3m-1 0h3m-2 0h3m-2 0h3m-1 0h3m-2 0h3m-2 0h3m-1 0h3m-3 0h3m1 0h3m2 0h3m-2 0h3m0 0h3m-1 0h3m-2 0h3m1 0h3m16 0h3m-2 0h3m-110 1h3m8 0h3m-2 0h3m-1 0h3m-2 0h3m2 0h3m6 0h3m-1 0h3m-2 0h3m2 0h3m-1 0h3m-2 0h3m6 0h3m-3 0h3m-2 0h3m2 0h3m-2 0h3m-3 0h3m-2 0h3m3 0h3m-1 0h3m11 0h3m5 0h3m3 0h3m-94 1h3m-1 0h3m0 0h3m-2 0h3m5 0h3m2 0h3m-3 0h3m6 0h3m6 0h3m-2 0h3m1 0h3m3 0h3m3 0h3m3 0h3m-2 0h3m4 0h3m0 0h3m-3 0h3m5 0h3m-2 0h3m5 0h3m2 0h3m19 0h3m-128 1h3m24 0h3m-1 0h3m0 0h3m1 0h3m3 0h3m-2 0h3m1 0h3m-3 0h3m1 0h3m1 0h3m0 0h3m-2 0h3m2 0h3m-1 0h3m0 0h3m-2 0h3m-3 0h3m-2 0h3m-1 0h3m-1 0h3m-1 0h3m-3 0h3m9 0h3m2 0h3m7 0h3m-1 0h3m-1 0h3m24 0h3m-141 1h3m17 0h3m5 0h3m-3 0h3m4 0h3m1 0h3m-2 0h3m0 0h3m0 0h3m-2 0h3m-2 0h3m-3 0h3m-1 0h3m-3 0h3m-3 0h3m-1 0h3m-3 0h3m-2 0h3m5 0h3m1 0h3m6 0h3m-1 0h3m-1 0h3m-1 0h3m-2 0h3m2 0h3m2 0h3m-1 0h3m6 0h3m-1 0h3m2 0h3m19 0h3m-1 0h3m-103 1h3m-1 0h3m4 0h3m-2 0h3m1 0h3m-1 0h3m-3 0h3m-2 0h3m-3 0h3m-3 0h3m13 0h3m-3 0h3m-2 0h3m-1 0h3m1 0h3m2 0h3m-2 0h3m-3 0h3m1 0h3m-2 0h3m-2 0h3m4 0h3m0 0h3m5 0h3m-1 0h3m-110 1h3m4 0h3m19 0h3m-1 0h3m2 0h3m-3 0h3m-2 0h3m0 0h3m-2 0h3m-1 0h3m0 0h3m-2 0h3m2 0h3m-3 0h3m-2 0h3m-2 0h3m-1 0h3m0 0h3m-2 0h3m-2 0h3m-3 0h3m-3 0h3m-3 0h3m0 0h3m-3 0h3m0 0h3m-2 0h3m-3 0h3m-1 0h3m2 0h3m-2 0h3m-2 0h3m-1 0h3m-2 0h3m-3 0h3m2 0h3m-2 0h3m1 0h3m-3 0h3m6 0h3m1 0h3m-96 1h3m20 0h3m1 0h3m3 0h3m0 0h3m4 0h3m1 0h3m-3 0h3m3 0h3m-2 0h3m1 0h3m1 0h3m-3 0h3m-3 0h3m-3 0h3m-2 0h3m-1 0h3m-2 0h3m1 0h3m1 0h3m-3 0h3m67 0h3m19 0h3m-179 1h3m16 0h3m25 0h3m1 0h3m-1 0h3m-1 0h3m-2 0h3m-2 0h3m2 0h3m3 0h3m-1 0h3m-2 0h3m-3 0h3m-2 0h3m-2 0h3m-2 0h3m-1 0h3m-2 0h3m-2 0h3m2 0h3m-2 0h3m-1 0h3m3 0h3m2 0h3m-1 0h3m9 0h3m14 0h3m-127 1h3m-2 0h3m6 0h3m-1 0h3m-1 0h3m0 0h3m4 0h3m3 0h3m0 0h3m1 0h3m11 0h3m-2 0h3m-3 0h3m-2 0h3m1 0h3m0 0h3m1 0h3m-1 0h3m2 0h3m3 0h3m-3 0h3m-2 0h3m-2 0h3m-1 0h3m0 0h3m-1 0h3m18 0h3m13 0h3m21 0h3m-161 1h3m27 0h3m8 0h3m-3 0h3m0 0h3m5 0h3m10 0h3m-2 0h3m4 0h3m-1 0h3m-1 0h3m0 0h3m0 0h3m2 0h3m6 0h3m0 0h3m-1 0h3m1 0h3m0 0h3m-2 0h3m-111 1h3m-2 0h3m11 0h3m-2 0h3m2 0h3m0 0h3m8 0h3m9 0h3m-2 0h3m-2 0h3m3 0h3m5 0h3m-2 0h3m-1 0h3m-2 0h3m-1 0h3m-1 0h3m2 0h3m0 0h3m1 0h3m-1 0h3m6 0h3m6 0h3m-3 0h3m8 0h3m-2 0h3m12 0h3m-107 1h3m6 0h3m-1 0h3m-2 0h3m0 0h3m9 0h3m2 0h3m-2 0h3m0 0h3m-2 0h3m0 0h3m-1 0h3m-3 0h3m-2 0h3m-3 0h3m-3 0h3m2 0h3m-3 0h3m-3 0h3m-2 0h3m2 0h3m-3 0h3m2 0h3m10 0h3m-2 0h3m1 0h3m-1 0h3m-84 1h3m5 0h3m-1 0h3m2 0h3m-2 0h3m2 0h3m-2 0h3m0 0h3m-3 0h3m-1 0h3m-2 0h3m-2 0h3m1 0h3m-2 0h3m-2 0h3m-2 0h3m-3 0h3m-1 0h3m1 0h3m-2 0h3m-3 0h3m-1 0h3m1 0h3m-1 0h3m-2 0h3m-1 0h3m4 0h3m6 0h3m32 0h3m6 0h3m-124 1h3m3 0h3m2 0h3m-2 0h3m4 0h3m3 0h3m0 0h3m8 0h3m-2 0h3m1 0h3m-2 0h3m-2 0h3m0 0h3m-1 0h3m-3 0h3m4 0h3m-2 0h3m1 0h3m-2 0h3m-1 0h3m-2 0h3m0 0h3m-2 0h3m2 0h3m1 0h3m49 0h3m-128 1h3m3 0h3m0 0h3m0 0h3m-2 0h3m-3 0h3m7 0h3m1 0h3m2 0h3m-2 0h3m6 0h3m0 0h3m-3 0h3m-2 0h3m-2 0h3m-3 0h3m1 0h3m-3 0h3m3 0h3m-2 0h3m-1 0h3m5 0h3m-3 0h3m0 0h3m-3 0h3m2 0h3m5 0h3m1 0h3m2 0h3m-111 1h3m6 0h3m4 0h3m7 0h3m-1 0h3m-2 0h3m2 0h3m-3 0h3m0 0h3m4 0h3m2 0h3m-3 0h3m0 0h3m3 0h3m-2 0h3m-2 0h3m-2 0h3m-3 0h3m-3 0h3m-1 0h3m2 0h3m-2 0h3m3 0h3m-2 0h3m-3 0h3m1 0h3m16 0h3m-2 0h3m-106 1h3m24 0h3m-1 0h3m-3 0h3m4 0h3m-1 0h3m-2 0h3m-2 0h3m3 0h3m-2 0h3m1 0h3m-2 0h3m-1 0h3m-2 0h3m-2 0h3m5 0h3m-2 0h3m-2 0h3m-1 0h3m-3 0h3m4 0h3m-1 0h3m17 0h3m3 0h3m-2 0h3m-2 0h3m-1 0h3m-2 0h3m-2 0h3m-3 0h3m13 0h3m-107 1h3m-1 0h3m9 0h3m-2 0h3m0 0h3m-3 0h3m4 0h3m-3 0h3m0 0h3m-2 0h3m-1 0h3m-1 0h3m-2 0h3m-2 0h3m7 0h3m5 0h3m3 0h3m-3 0h3m4 0h3m-1 0h3m7 0h3m5 0h3m1 0h3m-111 1h3m2 0h3m13 0h3m0 0h3m0 0h3m1 0h3m-2 0h3m-1 0h3m-2 0h3m0 0h3m-3 0h3m1 0h3m-2 0h3m-2 0h3m1 0h3m9 0h3m4 0h3m-1 0h3m6 0h3m-1 0h3m0 0h3m-3 0h3m34 0h3m-1 0h3m-113 1h3m1 0h3m0 0h3m-1 0h3m-1 0h3m-2 0h3m6 0h3m-1 0h3m0 0h3m3 0h3m3 0h3m-2 0h3m6 0h3m-3 0h3m1 0h3m-2 0h3m-1 0h3m1 0h3m-2 0h3m-1 0h3m4 0h3m3 0h3m-99 1h3m17 0h3m-2 0h3m1 0h3m3 0h3m-1 0h3m0 0h3m5 0h3m0 0h3m-1 0h3m4 0h3m-1 0h3m-2 0h3m-3 0h3m-2 0h3m1 0h3m-3 0h3m0 0h3m3 0h3m-2 0h3m-1 0h3m-2 0h3m3 0h3m-3 0h3m0 0h3m1 0h3m-2 0h3m0 0h3m-3 0h3m-2 0h3m-68 1h3m-2 0h3m5 0h3m0 0h3m-3 0h3m-2 0h3m1 0h3m2 0h3m1 0h3m-2 0h3m1 0h3m-2 0h3m-1 0h3m0 0h3m-1 0h3m-3 0h3m0 0h3m-2 0h3m10 0h3m-3 0h3m-3 0h3m8 0h3m5 0h3m-1 0h3m-3 0h3m-105 1h3m4 0h3m12 0h3m-1 0h3m0 0h3m-2 0h3m-3 0h3m2 0h3m-1 0h3m8 0h3m0 0h3m-3 0h3m3 0h3m2 0h3m-3 0h3m-2 0h3m0 0h3m10 0h3m-1 0h3m-1 0h3m7 0h3m2 0h3m7 0h3m9 0h3m-111 1h3m2 0h3m12 0h3m-1 0h3m-1 0h3m8 0h3m-2 0h3m0 0h3m-1 0h3m5 0h3m2 0h3m-2 0h3m-1 0h3m-2 0h3m0 0h3m9 0h3m1 0h3m-2 0h3m1 0h3m-3 0h3m-2 0h3m4 0h3m-2 0h3m-103 1h3m-1 0h3m17 0h3m-2 0h3m2 0h3m0 0h3m-1 0h3m4 0h3m-1 0h3m-1 0h3m4 0h3m3 0h3m-3 0h3m-2 0h3m2 0h3m-2 0h3m-3 0h3m-2 0h3m-3 0h3m1 0h3m-1 0h3m-2 0h3m-2 0h3m-3 0h3m-3 0h3m2 0h3m9 0h3m0 0h3m3 0h3m9 0h3m-92 1h3m-1 0h3m3 0h3m0 0h3m1 0h3m-3 0h3m-2 0h3m0 0h3m1 0h3m-2 0h3m0 0h3m-2 0h3m0 0h3m2 0h3m-2 0h3m-2 0h3m-2 0h3m-3 0h3m-2 0h3m1 0h3m0 0h3m-3 0h3m0 0h3m4 0h3m-3 0h3m1 0h3m0 0h3m-72 1h3m3 0h3m-1 0h3m-2 0h3m-1 0h3m6 0h3m1 0h3m-3 0h3m-2 0h3m3 0h3m-2 0h3m-2 0h3m-2 0h3m-2 0h3m3 0h3m-1 0h3m-2 0h3m-1 0h3m5 0h3m-3 0h3m2 0h3m-1 0h3m-1 0h3m-2 0h3m-2 0h3m-1 0h3m2 0h3m-1 0h3m4 0h3m1 0h3m-1 0h3m22 0h3m-126 1h3m10 0h3m1 0h3m1 0h3m7 0h3m2 0h3m0 0h3m-3 0h3m-2 0h3m-2 0h3m-2 0h3m0 0h3m1 0h3m1 0h3m0 0h3m-1 0h3m-1 0h3m3 0h3m-2 0h3m8 0h3m8 0h3m-76 1h3m-2 0h3m15 0h3m-2 0h3m-3 0h3m-3 0h3m-1 0h3m-1 0h3m-1 0h3m0 0h3m-3 0h3m1 0h3m3 0h3m4 0h3m0 0h3m2 0h3m-3 0h3m1 0h3m0 0h3m-2 0h3m1 0h3m-3 0h3m4 0h3m5 0h3m0 0h3m-81 1h3m-1 0h3m7 0h3m-2 0h3m3 0h3m-2 0h3m-3 0h3m-2 0h3m-3 0h3m0 0h3m-3 0h3m-2 0h3m-2 0h3m-1 0h3m3 0h3m4 0h3m-2 0h3m1 0h3m2 0h3m-2 0h3m3 0h3m-1 0h3m6 0h3m7 0h3m-100 1h3m13 0h3m0 0h3m6 0h3m3 0h3m6 0h3m-2 0h3m-3 0h3m-3 0h3m-2 0h3m-2 0h3m-1 0h3m-1 0h3m4 0h3m-1 0h3m-1 0h3m-3 0h3m-2 0h3m-2 0h3m0 0h3m-3 0h3m-1 0h3m-2 0h3m0 0h3m-3 0h3m-1 0h3m-2 0h3m7 0h3m-2 0h3m5 0h3m-97 1h3m6 0h3m6 0h3m-2 0h3m8 0h3m5 0h3m-2 0h3m-3 0h3m-3 0h3m-1 0h3m3 0h3m0 0h3m-3 0h3m-1 0h3m-1 0h3m7 0h3m-3 0h3m0 0h3m-1 0h3m9 0h3m3 0h3m1 0h3m4 0h3m-99 1h3m2 0h3m16 0h3m-2 0h3m1 0h3m-1 0h3m2 0h3m-3 0h3m17 0h3m-3 0h3m-1 0h3m-2 0h3m0 0h3m-2 0h3m19 0h3m0 0h3m46 0h3m-132 1h3m5 0h3m-1 0h3m2 0h3m4 0h3m-2 0h3m-1 0h3m-2 0h3m-3 0h3m10 0h3m-1 0h3m-2 0h3m7 0h3m-3 0h3m1 0h3m-3 0h3m-2 0h3m-1 0h3m-1 0h3m3 0h3m-3 0h3m-3 0h3m2 0h3m-1 0h3m-104 1h3m22 0h3m-2 0h3m4 0h3m1 0h3m15 0h3m-3 0h3m-1 0h3m-2 0h3m5 0h3m1 0h3m0 0h3m2 0h3m-3 0h3m-2 0h3m1 0h3m-3 0h3m-2 0h3m-2 0h3m6 0h3m2 0h3m-2 0h3m0 0h3m4 0h3m-86 1h3m16 0h3m5 0h3m-1 0h3m1 0h3m-2 0h3m-3 0h3m8 0h3m5 0h3m7 0h3m28 0h3m-98 1h3m9 0h3m2 0h3m-3 0h3m1 0h3m1 0h3m1 0h3m-2 0h3m-2 0h3m-3 0h3m-2 0h3m0 0h3m0 0h3m3 0h3m0 0h3m6 0h3m0 0h3m20 0h3m-109 1h3m41 0h3m17 0h3m15 0h3"/>
<path transform="scale(.5)" stroke="#777" stroke-width="3.2" d="M193 932h3m-22 12h3m28 0h3m-21 7h3m-32 3h3m26 2h3m49 3h3m-80 2h3m8 0h3m-2 1h3m-55 2h3m60 0h3m-17 2h3m16 2h3m-43 3h3m13 8h3m35 2h3m-56 3h3m41 0h3m-35 1h3m20 0h3m-34 1h3m44 0h3m24 0h3m-45 1h3m-1 3h3m-35 2h3m52 0h3m-52 1h3m13 3h3m28 1h3m-30 1h3m-35 1h3m53 0h3m23 0h3m-31 1h3m-27 2h3m-23 1h3m-6 2h3m40 0h3m10 0h3m-50 1h3m4 0h3m25 0h3m-25 1h3m23 0h3m-29 2h3m-2 0h3m15 2h3m-28 4h3m38 0h3m-24 1h3m-29 1h3m-19 2h3m54 0h3m-14 1h3m-17 1h3m-12 2h3m-18 3h3m27 1h3m-2 0h3m-34 1h3m-1 0h3m9 1h3"/>
<path transform="scale(.5)" stroke="#111" stroke-width="2.6" d="M127 893h3m15 0h3m53 0h3m-67 2h3m60 0h3m-81 1h3m52 0h3m0 0h3m-53 1h3m-13 1h3m43 0h3m49 0h3m16 0h3m-99 1h3m-22 1h3m4 0h3m32 0h3m28 0h3m-25 1h3m10 1h3m-2 0h3m17 0h3m-1 0h3m-58 1h3m16 0h3m0 1h3m19 1h3m-1 0h3m-78 1h3m84 0h3m-80 1h3m-14 1h3m5 0h3m15 0h3m36 0h3m-32 1h3m32 0h3m13 0h3m28 0h3m-2 0h3m-66 1h3m3 0h3m38 0h3m-2 0h3m15 0h3m-108 1h3m51 0h3m32 0h3m-112 1h3m1 0h3m21 0h3m84 0h3m-98 3h3m73 0h3m-70 1h3m15 0h3m43 0h3m-9 1h3m32 0h3m-101 1h3m44 0h3m-62 1h3m3 0h3m103 0h3m-117 1h3m8 0h3m9 0h3m39 0h3m13 0h3m-90 1h3m6 0h3m11 0h3m-14 1h3m18 0h3m7 0h3m-52 1h3m34 0h3m3 0h3m32 0h3m17 0h3m8 0h3m-115 1h3m20 0h3m17 0h3m-37 1h3m71 0h3m-52 1h3m44 0h3m1 0h3m-2 0h3m-49 1h3m25 0h3m-3 0h3m45 0h3m3 0h3m-95 1h3m5 0h3m78 0h3m2 0h3m4 0h3m-117 1h3m77 0h3m15 0h3m-98 1h3m8 0h3m23 0h3m11 0h3m-2 0h3m-9 1h3m20 0h3m5 0h3m-89 1h3m2 0h3m32 0h3m-2 0h3m-1 0h3m19 0h3m-33 1h3m-47 2h3m19 0h3m14 0h3m2 0h3m-26 1h3m24 0h3m3 0h3m12 0h3m-72 1h3m8 0h3m52 0h3m13 0h3m-1 0h3m7 0h3m-76 1h3m104 0h3m-112 1h3m13 0h3m3 0h3m9 0h3m39 0h3m14 0h3m13 0h3m-67 1h3m3 0h3m18 0h3m12 0h3m-3 0h3m-82 1h3m37 0h3m-43 1h3m70 0h3m22 0h3m-2 0h3m-2 0h3m-108 1h3m19 0h3m3 0h3m5 0h3m0 0h3m19 0h3m-24 1h3m1 0h3m11 0h3m13 0h3m13 0h3m2 0h3m-65 1h3m16 0h3m-2 0h3m21 0h3m20 0h3m-43 1h3m-74 1h3m44 0h3m18 0h3m40 0h3m-123 1h3m1 0h3m9 0h3m46 0h3m24 0h3m-78 1h3m40 0h3m4 0h3m3 0h3m52 0h3m-124 1h3m94 0h3m-99 1h3m53 0h3m18 0h3m-94 1h3m37 0h3m20 0h3m29 0h3m12 0h3m-109 1h3m73 0h3m-46 1h3m31 0h3m9 0h3m43 0h3m-1 0h3m-65 1h3m40 0h3m-2 0h3m12 0h3m-71 1h3m15 0h3m52 0h3m-94 1h3m22 0h3m2 0h3m-1 0h3m27 0h3m4 0h3m-99 1h3m14 0h3m26 0h3m11 1h3m20 0h3m0 0h3m16 0h3m12 0h3m-123 1h3m11 0h3m16 0h3m8 0h3m14 0h3m38 0h3m-117 1h3m5 0h3m25 0h3m24 0h3m23 0h3m1 0h3m5 0h3m-2 0h3m-2 0h3m-101 1h3m6 0h3m10 0h3m18 0h3m20 0h3m31 0h3m-91 1h3m1 0h3m26 0h3m12 0h3m26 0h3m7 0h3m-98 1h3m12 0h3m9 0h3m3 0h3m32 0h3m-2 0h3m-49 1h3m46 0h3m5 0h3m25 0h3m-115 1h3m30 0h3m21 0h3m60 0h3m2 0h3m-116 1h3m0 0h3m54 0h3m0 0h3m-34 1h3m-2 0h3m4 0h3m6 0h3m-36 1h3m7 0h3m6 0h3m29 0h3m15 0h3m-97 1h3m-3 0h3m44 0h3m3 0h3m4 0h3m57 0h3m-120 1h3m-1 0h3m28 0h3m12 0h3m44 0h3m-1 0h3m-106 1h3m9 0h3m26 0h3m25 0h3m5 0h3m15 0h3m21 0h3m-128 1h3m52 0h3m3 0h3m52 0h3m-99 1h3m20 0h3m22 0h3m25 0h3m9 0h3m-88 1h3m24 0h3m27 0h3m2 0h3m4 0h3m12 0h3m2 0h3m-2 0h3m-102 1h3m17 0h3m91 0h3m-82 1h3m7 0h3m37 0h3m29 0h3m-101 1h3m7 0h3m-46 1h3m34 0h3m25 0h3m14 0h3m-2 0h3m29 0h3m-85 1h3m37 0h3m-2 0h3m-1 0h3m-51 1h3m38 0h3m2 0h3m51 0h3m-121 1h3m3 0h3m29 0h3m4 0h3m24 0h3m-39 1h3m-3 0h3m5 0h3m45 0h3m15 0h3m-87 1h3m10 0h3m9 0h3m16 0h3m13 0h3m17 0h3m-75 1h3m5 0h3m2 0h3m42 0h3m-96 1h3m17 0h3m16 0h3m52 0h3m-90 1h3m-2 0h3m12 0h3m17 0h3m52 0h3m3 1h3m-99 1h3m34 0h3m34 0h3m19 0h3m-92 1h3m4 0h3m48 0h3m30 0h3m-93 1h3m14 0h3m16 0h3m-60 1h3m10 0h3m4 0h3m6 0h3m45 0h3m-73 1h3m25 0h3m11 0h3m5 0h3m8 0h3m4 0h3m46 0h3m-2 0h3m1 0h3m-110 1h3m-1 0h3m-3 0h3m-1 0h3m14 0h3m-46 1h3m11 0h3m19 0h3m16 0h3m-3 0h3m22 0h3m7 1h3m5 0h3m18 0h3m-105 1h3m14 0h3m32 0h3m5 0h3m4 0h3m6 0h3m1 0h3m5 0h3m-88 1h3m8 0h3m-2 0h3m-2 0h3m0 0h3m3 0h3m9 0h3m5 0h3m4 0h3m-1 0h3m22 0h3m2 0h3m0 0h3m-37 1h3m31 0h3m-67 1h3m6 0h3m42 0h3m20 0h3m6 0h3m-133 1h3m21 0h3m3 0h3m12 0h3m23 1h3m6 0h3m18 0h3m9 0h3m-96 1h3m18 0h3m1 0h3m-2 0h3m-3 0h3m1 0h3m-2 0h3m-3 0h3m2 0h3m-1 0h3m26 0h3m-63 1h3m23 1h3m53 0h3m-61 1h3m20 0h3m-1 0h3m-80 1h3m27 0h3m4 0h3m-1 0h3m24 0h3m14 1h3m8 0h3m13 0h3m-42 1h3m13 0h3m-2 0h3m4 0h3m8 0h3m-88 1h3m25 0h3m9 0h3m19 0h3m-42 1h3m58 0h3m19 0h3m-118 1h3m29 0h3m27 0h3m28 0h3m1 0h3m-109 1h3m39 0h3m8 0h3m47 0h3m10 0h3m-90 1h3m2 0h3m62 0h3m-87 1h3m85 0h3m-84 1h3m-1 0h3m16 0h3m-1 0h3m40 0h3m34 1h3m-109 1h3m43 0h3m20 0h3m-89 1h3m24 0h3m-1 0h3m-6 1h3m21 0h3m27 0h3m-64 1h3m3 0h3m30 0h3m3 0h3m4 0h3m-71 1h3m12 0h3m62 0h3m-86 1h3m41 0h3m54 0h3m15 0h3m-124 1h3m14 0h3m74 0h3m-56 1h3m-3 0h3m61 0h3m20 0h3m-104 1h3m24 0h3m52 0h3m-112 1h3m30 0h3m30 0h3m-1 0h3m22 0h3m22 0h3m-83 1h3m24 0h3m1 0h3m1 0h3"/>
<path transform="scale(.5)" stroke="#777" stroke-width="2.6" d="M133 893h3m26 1h3m-29 1h3m-16 5h3m113 1h3m-94 3h3m41 1h3m-16 1h3m-42 1h3m3 2h3m-27 3h3m98 1h3m-32 3h3m39 0h3m-85 2h3m77 0h3m-57 1h3m-32 1h3m29 0h3m-26 1h3m12 0h3m27 4h3m15 1h3m-52 2h3m-48 1h3m38 2h3m38 4h3m-9 2h3m15 2h3m-10 1h3m-81 1h3m21 0h3m-32 2h3m23 0h3m28 1h3m18 3h3m-72 1h3m57 0h3m26 3h3m-93 1h3m42 0h3m16 0h3m-41 3h3m13 0h3m-14 1h3m34 0h3m13 0h3m22 0h3m-91 1h3m55 0h3m-66 1h3m-23 1h3m9 0h3m48 0h3m11 0h3m-10 2h3m34 0h3m-59 1h3m-64 1h3m66 0h3m-72 1h3m70 0h3m23 0h3m-112 2h3m58 0h3m-30 1h3m10 0h3m13 0h3m-1 0h3m38 0h3m-60 1h3m11 0h3m-54 1h3m53 0h3m-69 1h3m33 0h3m15 0h3m-17 2h3m-2 0h3m-31 1h3m25 2h3m-1 1h3m22 1h3m-51 1h3m38 0h3m3 0h3m16 0h3m-84 1h3m73 0h3m27 1h3m-80 1h3m75 1h3m-78 1h3m-22 1h3m43 0h3m-17 1h3m28 1h3m-15 1h3m52 0h3m-2 0h3m-86 1h3m8 1h3m-11 1h3m-13 1h3m6 0h3m10 0h3m11 0h3m-40 1h3m-10 1h3m37 0h3m-12 1h3m18 0h3m0 0h3m19 0h3m-110 1h3m77 1h3m-7 1h3m9 0h3m8 0h3m-89 2h3m18 3h3m29 0h3m45 0h3m-114 2h3m23 0h3m-13 3h3m6 0h3m-2 1h3m57 0h3m-43 1h3m3 0h3m27 0h3m46 0h3m-116 2h3m70 0h3m-51 1h3m-37 1h3m17 0h3m21 0h3m5 0h3m9 0h3m32 0h3m-7 2h3m-102 1h3m22 0h3m79 0h3m-110 1h3m12 0h3m-5 1h3m26 0h3m-18 3h3m48 0h3m-46 1h3m-25 3h3m100 0h3m-105 1h3m43 1h3m1 0h3m6 0h3"/>
<path transform="scale(.5)" stroke="#111" stroke-width="2.8" d="M191 892h3m31 0h3m-11 1h3m-33 1h3m-2 0h3m6 0h3m11 0h3m-67 1h3m-1 1h3m37 0h3m11 1h3m-33 1h3m42 0h3m-39 1h3m16 0h3m5 0h3m-34 1h3m-31 1h3m41 0h3m24 0h3m-21 1h3m21 0h3m8 0h3m8 0h3m-59 1h3m-8 1h3m55 0h3m-48 1h3m4 0h3m38 0h3m-72 1h3m13 0h3m-2 0h3m14 0h3m14 0h3m-22 1h3m-2 0h3m-37 1h3m10 0h3m16 0h3m10 0h3m-1 0h3m9 0h3m-21 1h3m2 0h3m0 0h3m-25 1h3m14 0h3m24 0h3m-78 1h3m42 0h3m0 0h3m2 0h3m2 0h3m-22 1h3m5 0h3m-3 0h3m6 0h3m11 0h3m-77 1h3m0 0h3m5 0h3m61 0h3m-1 1h3m-81 1h3m19 0h3m7 1h3m-3 0h3m12 0h3m-3 0h3m-78 3h3m66 0h3m32 0h3m-64 1h3m32 0h3m0 0h3m11 0h3m-49 1h3m29 0h3m-1 0h3m8 0h3m1 0h3m3 0h3m-17 1h3m9 0h3m-88 1h3m52 0h3m-8 1h3m1 0h3m-3 0h3m1 0h3m9 0h3m-54 1h3m15 0h3m3 0h3m4 0h3m-2 0h3m30 0h3m-76 1h3m9 0h3m10 0h3m-2 0h3m0 0h3m0 0h3m-1 0h3m0 0h3m-2 0h3m31 0h3m2 0h3m-72 1h3m-2 0h3m32 0h3m17 0h3m-11 1h3m-71 1h3m5 0h3m1 0h3m9 0h3m8 0h3m10 0h3m1 0h3m15 0h3m-2 0h3m0 0h3m10 0h3m-49 1h3m8 0h3m4 0h3m-1 0h3m1 0h3m19 0h3m-66 1h3m-35 1h3m61 0h3m0 0h3m-48 1h3m9 0h3m21 0h3m7 0h3m-32 1h3m4 0h3m10 0h3m28 0h3m-34 1h3m-2 0h3m1 0h3m3 0h3m6 0h3m8 0h3m-1 0h3m-58 1h3m13 0h3m28 0h3m12 0h3m-56 1h3m25 0h3m-44 1h3m3 0h3m-2 0h3m3 0h3m18 0h3m11 0h3m-3 0h3m5 0h3m-43 1h3m17 0h3m-7 1h3m25 0h3m-50 1h3m18 0h3m-1 0h3m22 0h3m-59 1h3m5 0h3m11 0h3m14 0h3m-16 1h3m6 0h3m18 0h3m-22 1h3m-2 0h3m-28 1h3m17 0h3m3 1h3m1 0h3m-46 1h3m3 0h3m15 0h3m-7 1h3m3 0h3m-46 1h3m53 0h3m-25 1h3m-16 1h3m7 0h3m35 0h3m-76 1h3m69 0h3m-32 1h3m-20 1h3m22 0h3m-7 1h3m-1 0h3m27 1h3m-57 1h3m13 0h3m4 0h3m-30 1h3m33 0h3m18 1h3m-27 1h3m-7 1h3m-35 2h3m29 1h3m-13 3h3m4 5h3m-17 1h3m24 4h3m-13 4h3"/>
<path transform="scale(.5)" stroke="#777" stroke-width="2.8" d="M223 893h3m-27 1h3m16 2h3m0 0h3m-3 3h3m-31 3h3m24 1h3m-7 1h3m-38 1h3m-3 0h3m44 1h3m-14 1h3m10 0h3m-50 1h3m38 2h3m-26 6h3m-15 2h3m9 2h3m5 1h3m34 0h3m-44 2h3m-26 2h3m26 1h3m-44 1h3m5 0h3m26 4h3m14 1h3m-26 1h3m24 1h3m0 0h3m-32 3h3m21 0h3m-2 1h3m6 1h3m-15 1h3m-12 1h3m-6 6h3m-4 1h3m13 1h3m-4 7h3m-11 2h3"/>
<path transform="scale(.5)" stroke="#111" stroke-width="2.6" d="M212 863h3m27 0h3m-36 2h3m-3 1h3m36 0h3m-47 1h3m27 0h3m-25 2h3m14 1h3m-24 1h3m15 0h3m9 1h3m-1 0h3m-6 2h3m-25 1h3m-12 1h3m2 0h3m13 0h3m12 0h3m-12 1h3m-11 1h3m-13 1h3m4 0h3m27 0h3m-53 3h3m28 0h3m-1 1h3m19 0h3m-45 1h3m22 2h3m-21 1h3m10 0h3m-7 1h3m1 3h3m-21 3h3m7 1h3m-16 1h3m14 0h3m22 7h3"/>
<path transform="scale(.5)" stroke="#777" stroke-width="2.6" d="M228 852h3m-9 14h3m11 2h3m7 0h3m-3 3h3m-23 1h3m-6 1h3m-22 4h3m38 0h3m-22 1h3m-12 5h3m-13 3h3m14 3h3m13 7h3m-21 4h3m-7 2h3"/>
<path transform="scale(.5)" stroke="#111" stroke-width="2.6" d="M318 892h3m-40 1h3m51 1h3m58 0h3m-49 1h3m110 1h3m-190 1h3m7 0h3m20 2h3m8 0h3m126 0h3m-30 1h3m18 0h3m-124 1h3m78 0h3m-35 1h3m-40 1h3m-56 1h3m34 0h3m-15 1h3m98 0h3m5 0h3m-90 1h3m0 1h3m80 1h3m-114 1h3m-51 1h3m92 2h3m-71 1h3m52 0h3m-37 1h3m12 1h3m61 0h3m46 0h3m-171 1h3m59 0h3m-8 1h3m99 1h3m-140 1h3m13 1h3m26 0h3m69 0h3m-17 1h3m20 0h3m9 0h3m-153 1h3m7 2h3m129 0h3m-49 1h3m27 0h3m19 0h3m-165 1h3m73 0h3m111 0h3m-86 2h3m-3 0h3m38 0h3m51 0h3m-163 1h3m47 0h3m61 0h3m5 0h3m-163 1h3m94 0h3m46 0h3m46 1h3m-88 1h3m19 0h3m46 1h3m-68 2h3m55 1h3m-166 1h3m99 1h3m7 1h3m-123 1h3m93 0h3m-45 1h3m2 0h3m13 0h3m-75 1h3m-2 0h3m19 0h3m72 0h3m-81 1h3m35 0h3m12 0h3m-39 1h3m-9 1h3m14 0h3m-48 2h3m2 0h3m-10 1h3m-6 1h3m103 0h3m11 0h3m-76 1h3m7 1h3m133 1h3m-194 1h3m18 0h3m13 0h3m-21 1h3m33 0h3m88 1h3m-155 1h3m3 0h3m47 0h3m123 0h3m-149 1h3m71 0h3m21 0h3m48 0h3m-186 1h3m85 0h3m23 0h3m-83 1h3m97 0h3m24 1h3m-47 1h3m-45 2h3m-31 1h3m30 0h3m1 0h3m-64 1h3m9 0h3m59 1h3m43 0h3m14 0h3m-127 1h3m128 0h3m25 0h3m-174 1h3m41 0h3m94 0h3m-149 1h3m-1 0h3m-2 0h3m19 0h3m30 0h3m57 0h3m-103 1h3m-4 3h3m19 0h3m1 0h3m44 0h3m76 1h3m-54 2h3m18 0h3m5 0h3m1 0h3m-7 1h3m-141 1h3m65 0h3m14 0h3m67 0h3m-169 1h3m37 0h3m-2 0h3m18 0h3m3 0h3m23 0h3m-16 1h3m-107 1h3m23 0h3m30 0h3m3 0h3m77 1h3m16 1h3m-12 1h3m18 0h3m-1 1h3m-170 1h3m18 0h3m-2 0h3m96 0h3m18 0h3m-73 2h3m26 0h3m11 0h3m37 0h3m3 3h3m-49 1h3m-65 1h3m25 0h3m-9 1h3m72 0h3m10 0h3m-8 1h3m-29 2h3m-120 1h3m128 0h3m-91 1h3m-54 1h3m135 1h3m41 0h3m-74 1h3m68 0h3m-198 1h3m70 0h3m93 0h3m16 0h3m-95 1h3m91 0h3m-106 1h3m53 0h3m6 0h3m1 0h3m-160 1h3m72 1h3m20 1h3m16 0h3m69 0h3m-198 1h3m58 0h3m-50 1h3m50 0h3m66 0h3m11 0h3m-124 1h3m110 0h3m35 0h3m-103 2h3m0 0h3m36 0h3m66 0h3m-161 1h3m24 1h3m-49 1h3m35 0h3m61 0h3m18 0h3m4 0h3m-65 1h3m-35 1h3m40 0h3m22 0h3m36 0h3m-40 1h3m74 0h3m-162 1h3m72 0h3m30 0h3m-121 2h3m57 1h3m78 0h3m-103 2h3m-66 1h3m34 0h3m70 0h3"/>
<path transform="scale(.5)" stroke="#777" stroke-width="2.6" d="M288 892h3m60 0h3m22 0h3m-14 1h3m29 0h3m-83 2h3m79 1h3m38 1h3m-168 1h3m45 1h3m-15 1h3m116 1h3m11 0h3m-136 1h3m128 0h3m-48 1h3m-106 1h3m101 1h3m59 0h3m-144 1h3m46 0h3m-64 1h3m22 1h3m103 2h3m-124 1h3m-55 2h3m146 0h3m-31 1h3m-77 1h3m-29 1h3m163 0h3m-122 1h3m-68 1h3m11 0h3m13 0h3m95 1h3m23 0h3m-88 1h3m74 0h3m-148 1h3m-3 1h3m171 0h3m-135 1h3m114 0h3m-2 1h3m-85 1h3m-74 1h3m51 1h3m7 0h3m90 0h3m-116 5h3m-37 1h3m97 0h3m-115 1h3m43 1h3m31 1h3m-73 1h3m-3 1h3m80 0h3m32 0h3m22 0h3m-176 1h3m35 0h3m1 0h3m23 0h3m24 0h3m51 2h3m10 1h3m36 1h3m-55 1h3m-143 1h3m75 2h3m46 0h3m-85 1h3m-3 0h3m66 0h3m-95 2h3m43 0h3m-2 0h3m31 0h3m-70 1h3m75 1h3m-50 2h3m-17 3h3m60 1h3m-56 1h3m-47 4h3m-1 1h3m7 0h3m58 1h3m57 0h3m28 0h3m-7 1h3m-139 1h3m101 0h3m-5 2h3m12 1h3m1 0h3m-80 1h3m64 0h3m-97 3h3m-43 1h3m149 0h3m-112 1h3m12 0h3m9 1h3m16 0h3m39 1h3m-129 1h3m86 0h3m80 0h3m-178 2h3m142 0h3m28 0h3m-156 2h3m90 0h3m12 0h3m14 1h3m-167 2h3m38 0h3m45 0h3m-87 3h3m125 0h3m-129 3h3m137 0h3m-140 1h3m24 1h3m-31 3h3m126 0h3m-146 2h3m48 0h3m-8 1h3m20 0h3m81 0h3m-111 1h3m13 0h3m42 1h3m73 0h3m-141 2h3m82 0h3m-143 1h3m85 0h3m18 0h3m7 1h3m-5 1h3m-39 2h3m72 0h3m34 0h3m10 0h3m-168 1h3m3 1h3m-6 1h3m123 1h3m23 0h3m-188 1h3m158 0h3m35 0h3m-94 1h3m-71 1h3m99 0h3m-92 1h3m6 0h3m24 0h3m-55 2h3m9 1h3m5 0h3m102 0h3m-133 1h3m103 0h3m56 0h3m-1 0h3m-187 2h3m96 0h3m-85 3h3m113 0h3m12 0h3m10 0h3m20 1h3m-206 1h3m4 0h3m39 0h3"/>
<path transform="scale(.5)" stroke="#111" stroke-width="2.6" d="M422 958h3m11 1h3m2 1h3m-20 5h3m20 0h3m-20 6h3m3 0h3m-10 2h3m-16 2h3m25 0h3m6 1h3m-2 2h3m-17 1h3m17 0h3m-57 1h3m39 1h3m-32 3h3m20 0h3m-8 1h3m-24 1h3m19 2h3m29 1h3m-46 1h3m18 2h3m-14 1h3m11 0h3m-39 1h3m18 1h3m4 0h3m4 0h3m-20 1h3m-7 1h3m-14 1h3m7 0h3m-16 1h3m9 1h3m5 0h3m27 0h3m-19 1h3m-47 1h3m22 0h3m-11 3h3m6 1h3m27 0h3m-28 1h3m-1 0h3m-14 1h3m6 1h3m-3 1h3m-3 1h3m12 0h3m-42 2h3m6 0h3m7 1h3m-1 0h3m-31 3h3m-8 2h3m-1 4h3m40 0h3m-39 1h3m32 1h3m1 0h3m-33 1h3m7 2h3"/>
<path transform="scale(.5)" stroke="#777" stroke-width="2.6" d="M425 967h3m20 6h3m-15 4h3m-2 4h3m11 2h3m-27 1h3m48 0h3m-47 7h3m-17 1h3m-29 1h3m11 1h3m28 3h3m-37 1h3m35 0h3m-43 3h3m28 0h3m-11 2h3m-37 2h3m46 0h3m-22 2h3m43 3h3m-43 6h3m-12 3h3m38 2h3m-36 4h3m-20 2h3"/>
<path transform="scale(.5)" stroke="#111" stroke-width="2.8" d="M703 728h3m40 3h3m-55 4h3m-61 1h3m37 1h3m23 0h3m-6 1h3m6 1h3m-30 1h3m7 0h3m-28 1h3m16 0h3m-2 0h3m-10 1h3m0 0h3m-3 0h3m-35 1h3m13 0h3m5 0h3m26 0h3m2 0h3m-47 1h3m22 0h3m26 0h3m13 0h3m-82 1h3m15 0h3m11 0h3m-2 0h3m6 0h3m-18 1h3m21 0h3m5 0h3m-3 0h3m5 0h3m-98 1h3m11 0h3m23 0h3m27 0h3m22 0h3m7 0h3m-75 1h3m8 0h3m2 0h3m1 0h3m6 0h3m11 0h3m16 0h3m-2 0h3m17 0h3m-94 1h3m22 0h3m12 0h3m-1 0h3m-58 1h3m8 0h3m27 0h3m0 0h3m10 0h3m14 0h3m25 0h3m8 0h3m-129 1h3m1 0h3m1 0h3m15 0h3m20 0h3m4 0h3m3 0h3m-1 0h3m2 0h3m-1 0h3m1 0h3m15 0h3m2 0h3m24 0h3m-114 1h3m7 0h3m5 0h3m-3 0h3m6 0h3m10 0h3m1 0h3m4 0h3m11 0h3m11 0h3m3 0h3m-76 1h3m19 0h3m-1 0h3m17 0h3m3 0h3m-1 0h3m-78 1h3m3 0h3m1 0h3m6 0h3m12 0h3m4 0h3m4 0h3m-3 0h3m-2 0h3m-1 0h3m15 0h3m-1 0h3m38 0h3m-100 1h3m4 0h3m3 0h3m13 0h3m-1 0h3m-2 0h3m1 0h3m4 0h3m-2 0h3m-3 0h3m-2 0h3m-1 0h3m1 0h3m2 0h3m-2 0h3m-1 0h3m14 0h3m-1 0h3m2 0h3m-103 1h3m6 0h3m6 0h3m8 0h3m-3 0h3m13 0h3m-1 0h3m0 0h3m1 0h3m0 0h3m1 0h3m2 0h3m-2 0h3m-3 0h3m-2 0h3m-1 0h3m-2 0h3m-3 0h3m1 0h3m-3 0h3m15 0h3m-91 1h3m-3 0h3m0 0h3m10 0h3m-1 0h3m0 0h3m-3 0h3m2 0h3m1 0h3m2 0h3m-2 0h3m9 0h3m-1 0h3m-1 0h3m0 0h3m-2 0h3m-1 0h3m-1 0h3m13 0h3m-1 0h3m-2 0h3m-2 0h3m1 0h3m6 0h3m11 0h3m-112 1h3m2 0h3m1 0h3m2 0h3m0 0h3m2 0h3m-1 0h3m1 0h3m0 0h3m0 0h3m0 0h3m-3 0h3m-1 0h3m-2 0h3m5 0h3m-1 0h3m-2 0h3m3 0h3m-1 0h3m7 0h3m-2 0h3m16 0h3m-79 1h3m15 0h3m-3 0h3m1 0h3m11 0h3m-3 0h3m-3 0h3m0 0h3m0 0h3m0 0h3m1 0h3m-2 0h3m-1 0h3m9 0h3m-76 1h3m4 0h3m-2 0h3m2 0h3m0 0h3m13 0h3m-1 0h3m3 0h3m-1 0h3m-1 0h3m-2 0h3m3 0h3m-3 0h3m-2 0h3m-2 0h3m-2 0h3m-2 0h3m5 0h3m-2 0h3m-3 0h3m0 0h3m10 0h3m6 0h3m-86 1h3m10 0h3m-2 0h3m-2 0h3m5 0h3m3 0h3m-1 0h3m-2 0h3m-2 0h3m-1 0h3m5 0h3m1 0h3m-2 0h3m0 0h3m12 0h3m-3 0h3m-2 0h3m5 0h3m-68 1h3m3 0h3m-2 0h3m3 0h3m6 0h3m-1 0h3m-3 0h3m-2 0h3m-1 0h3m-2 0h3m1 0h3m-2 0h3m6 0h3m1 0h3m5 0h3m-3 0h3m5 0h3m-3 0h3m-85 1h3m2 0h3m-3 0h3m4 0h3m11 0h3m-2 0h3m-1 0h3m3 0h3m-2 0h3m0 0h3m5 0h3m-1 0h3m-3 0h3m-2 0h3m-2 0h3m-2 0h3m-3 0h3m1 0h3m0 0h3m0 0h3m-3 0h3m0 0h3m-2 0h3m9 0h3m3 0h3m0 0h3m-2 0h3m-3 0h3m1 0h3m0 0h3m-88 1h3m14 0h3m-2 0h3m-2 0h3m-2 0h3m2 0h3m0 0h3m-2 0h3m-2 0h3m-1 0h3m-2 0h3m-3 0h3m2 0h3m0 0h3m1 0h3m0 0h3m-3 0h3m-2 0h3m0 0h3m3 0h3m0 0h3m4 0h3m-1 0h3m1 0h3m3 0h3m0 0h3m-98 1h3m-2 0h3m1 0h3m6 0h3m-2 0h3m-1 0h3m-1 0h3m0 0h3m3 0h3m-2 0h3m1 0h3m12 0h3m-3 0h3m-3 0h3m0 0h3m-2 0h3m2 0h3m0 0h3m2 0h3m-2 0h3m-2 0h3m-2 0h3m2 0h3m-3 0h3m-2 0h3m4 0h3m2 0h3m0 0h3m-91 1h3m-2 0h3m0 0h3m2 0h3m3 0h3m-3 0h3m4 0h3m0 0h3m-3 0h3m-1 0h3m5 0h3m-2 0h3m0 0h3m-3 0h3m1 0h3m2 0h3m-2 0h3m-3 0h3m-1 0h3m2 0h3m13 0h3m-2 0h3m-2 0h3m6 0h3m2 0h3m-83 1h3m-1 0h3m2 0h3m-2 0h3m2 0h3m-2 0h3m1 0h3m2 0h3m-2 0h3m-2 0h3m-3 0h3m-1 0h3m-2 0h3m2 0h3m0 0h3m-2 0h3m-1 0h3m-2 0h3m-2 0h3m-2 0h3m2 0h3m2 0h3m-1 0h3m1 0h3m2 0h3m-2 0h3m1 0h3m4 0h3m-3 0h3m6 0h3m-98 1h3m-2 0h3m1 0h3m1 0h3m5 0h3m-2 0h3m-3 0h3m2 0h3m-2 0h3m0 0h3m-3 0h3m0 0h3m-2 0h3m-3 0h3m-2 0h3m-2 0h3m0 0h3m-2 0h3m-2 0h3m-1 0h3m-3 0h3m2 0h3m-2 0h3m-2 0h3m-1 0h3m-2 0h3m1 0h3m2 0h3m-3 0h3m-1 0h3m-1 0h3m-3 0h3m2 0h3m2 0h3m9 0h3m-1 0h3m2 0h3m-2 0h3m2 0h3m-99 1h3m0 0h3m1 0h3m6 0h3m2 0h3m0 0h3m1 0h3m-1 0h3m-1 0h3m1 0h3m-2 0h3m-2 0h3m-2 0h3m-1 0h3m2 0h3m-1 0h3m10 0h3m-2 0h3m-1 0h3m-3 0h3m-1 0h3m0 0h3m0 0h3m-1 0h3m-1 0h3m11 0h3m7 0h3m6 0h3m-115 1h3m1 0h3m6 0h3m0 0h3m1 0h3m2 0h3m-1 0h3m5 0h3m0 0h3m3 0h3m-1 0h3m-2 0h3m3 0h3m-2 0h3m3 0h3m-3 0h3m-1 0h3m1 0h3m-1 0h3m0 0h3m-3 0h3m0 0h3m0 0h3m-1 0h3m9 0h3m-87 1h3m-1 0h3m-2 0h3m1 0h3m-3 0h3m1 0h3m0 0h3m-2 0h3m-2 0h3m3 0h3m8 0h3m-3 0h3m-2 0h3m-1 0h3m0 0h3m-3 0h3m-2 0h3m-1 0h3m1 0h3m-1 0h3m1 0h3m4 0h3m-2 0h3m-3 0h3m-1 0h3m15 0h3m-3 0h3m-1 0h3m1 0h3m-3 0h3m-94 1h3m-3 0h3m-2 0h3m4 0h3m3 0h3m-2 0h3m0 0h3m-2 0h3m-1 0h3m-1 0h3m0 0h3m-3 0h3m2 0h3m-1 0h3m-3 0h3m-1 0h3m-2 0h3m-2 0h3m-3 0h3m-2 0h3m-2 0h3m0 0h3m-2 0h3m-2 0h3m-1 0h3m-3 0h3m-1 0h3m-3 0h3m-2 0h3m-2 0h3m1 0h3m2 0h3m1 0h3m-3 0h3m1 0h3m-1 0h3m-3 0h3m0 0h3m10 0h3m17 0h3m-110 1h3m2 0h3m-2 0h3m6 0h3m-2 0h3m5 0h3m1 0h3m-1 0h3m-1 0h3m-1 0h3m-3 0h3m1 0h3m0 0h3m-1 0h3m-2 0h3m-2 0h3m6 0h3m8 0h3m0 0h3m4 0h3m4 0h3m8 0h3m3 0h3m21 0h3m-120 1h3m-1 0h3m0 0h3m-2 0h3m-2 0h3m1 0h3m1 0h3m-2 0h3m-2 0h3m-3 0h3m-1 0h3m-2 0h3m-2 0h3m-1 0h3m-3 0h3m-3 0h3m0 0h3m1 0h3m-2 0h3m-2 0h3m-3 0h3m1 0h3m-2 0h3m-3 0h3m-3 0h3m0 0h3m-2 0h3m-2 0h3m-3 0h3m-3 0h3m-2 0h3m-2 0h3m-2 0h3m-1 0h3m2 0h3m-3 0h3m-1 0h3m-1 0h3m-3 0h3m0 0h3m-1 0h3m-1 0h3m-2 0h3m-2 0h3m3 0h3m0 0h3m4 0h3m0 0h3m-3 0h3m15 0h3m1 0h3m-113 1h3m2 0h3m-3 0h3m-3 0h3m1 0h3m8 0h3m6 0h3m-1 0h3m4 0h3m1 0h3m-3 0h3m0 0h3m-3 0h3m0 0h3m-3 0h3m0 0h3m-2 0h3m-1 0h3m-2 0h3m-2 0h3m-1 0h3m0 0h3m5 0h3m2 0h3m1 0h3m-2 0h3m3 0h3m7 0h3m-99 1h3m4 0h3m5 0h3m-2 0h3m-2 0h3m1 0h3m-3 0h3m3 0h3m-1 0h3m-3 0h3m-3 0h3m-2 0h3m-1 0h3m-1 0h3m-2 0h3m-2 0h3m5 0h3m-2 0h3m0 0h3m-1 0h3m0 0h3m-1 0h3m3 0h3m-2 0h3m6 0h3m4 0h3m-2 0h3m5 0h3m1 0h3m-92 1h3m-1 0h3m-2 0h3m11 0h3m2 0h3m0 0h3m-2 0h3m2 0h3m-2 0h3m2 0h3m-3 0h3m-2 0h3m-2 0h3m-3 0h3m0 0h3m-1 0h3m-2 0h3m-1 0h3m-2 0h3m-2 0h3m2 0h3m1 0h3m7 0h3m-2 0h3m3 0h3m-1 0h3m2 0h3m4 0h3m13 0h3m-100 1h3m0 0h3m-3 0h3m-3 0h3m12 0h3m-2 0h3m0 0h3m-1 0h3m0 0h3m1 0h3m-1 0h3m0 0h3m4 0h3m4 0h3m6 0h3m-2 0h3m7 0h3m0 0h3m-67 1h3m0 0h3m2 0h3m-1 0h3m-3 0h3m0 0h3m-3 0h3m0 0h3m2 0h3m-1 0h3m4 0h3m-1 0h3m4 0h3m-1 0h3m-1 0h3m0 0h3m-2 0h3m5 0h3m-79 1h3m5 0h3m-3 0h3m13 0h3m6 0h3m-1 0h3m-1 0h3m0 0h3m-3 0h3m-2 0h3m0 0h3m-3 0h3m1 0h3m-3 0h3m5 0h3m-1 0h3m1 0h3m-1 0h3m10 0h3m15 0h3m6 0h3m3 0h3m-105 1h3m4 0h3m3 0h3m-2 0h3m1 0h3m1 0h3m-3 0h3m-2 0h3m-1 0h3m-3 0h3m-2 0h3m1 0h3m-2 0h3m1 0h3m1 0h3m-2 0h3m-3 0h3m-3 0h3m-2 0h3m0 0h3m7 0h3m-1 0h3m-3 0h3m-3 0h3m0 0h3m-2 0h3m-2 0h3m2 0h3m7 0h3m5 0h3m-1 0h3m-91 1h3m-2 0h3m0 0h3m1 0h3m-1 0h3m1 0h3m-3 0h3m-3 0h3m-2 0h3m0 0h3m1 0h3m-3 0h3m1 0h3m-3 0h3m-2 0h3m2 0h3m-2 0h3m-1 0h3m-2 0h3m-3 0h3m-3 0h3m-2 0h3m-1 0h3m2 0h3m-2 0h3m0 0h3m0 0h3m-3 0h3m3 0h3m1 0h3m1 0h3m18 0h3m-89 1h3m7 0h3m14 0h3m0 0h3m-2 0h3m-1 0h3m20 0h3m-1 0h3m-2 0h3m1 0h3m42 0h3m-109 1h3m1 0h3m3 0h3m1 0h3m6 0h3m3 0h3m3 0h3m-2 0h3m0 0h3m-1 0h3m1 0h3m0 0h3m1 0h3m6 0h3m20 0h3m-95 1h3m-3 0h3m17 0h3m-1 0h3m4 0h3m2 0h3m-2 0h3m2 0h3m0 0h3m2 0h3m0 0h3m4 0h3m-1 0h3m-1 0h3m-2 0h3m11 0h3m3 0h3m6 0h3m7 0h3m5 0h3m-102 1h3m1 0h3m25 0h3m-2 0h3m-3 0h3m3 0h3m8 0h3m-2 0h3m15 0h3m6 0h3m2 0h3m-91 1h3m2 0h3m-2 0h3m1 0h3m7 0h3m4 0h3m3 0h3m2 0h3m7 0h3m-3 0h3m-1 0h3m7 0h3m-3 0h3m50 0h3m-113 1h3m14 0h3m3 0h3m-3 0h3m0 0h3m-1 0h3m0 0h3m7 0h3m-3 0h3m-2 0h3m5 0h3m-2 0h3m0 0h3m-3 0h3m6 0h3m8 0h3m-82 1h3m-1 0h3m1 0h3m-1 0h3m-1 0h3m6 0h3m-3 0h3m8 0h3m-2 0h3m-1 0h3m5 0h3m-3 0h3m10 0h3m2 0h3m-1 0h3m-42 1h3m25 0h3m18 0h3m0 0h3m-66 1h3m5 0h3m0 0h3m1 0h3m1 0h3m-2 0h3m4 0h3m9 0h3m5 0h3m2 0h3m-53 1h3m9 0h3m1 0h3m12 0h3m7 0h3m7 0h3m11 0h3m-79 1h3m4 0h3m8 0h3m-1 0h3m13 0h3m3 0h3m6 0h3m-53 1h3m5 0h3m1 0h3m1 0h3m-2 0h3m10 0h3m0 0h3m36 0h3m-72 1h3m19 0h3m-1 0h3m15 0h3m1 0h3m8 0h3m-61 1h3m17 0h3m2 0h3m24 0h3m17 0h3m-80 1h3m32 0h3m-3 0h3m8 0h3m-47 1h3m13 0h3m-2 0h3m14 0h3m40 0h3m-75 1h3m21 0h3m14 0h3m6 0h3m13 0h3m-77 1h3m7 0h3m15 0h3m-1 0h3m0 0h3m0 0h3m1 0h3m24 0h3m-57 1h3m2 0h3m-7 2h3m18 0h3m3 1h3m-4 1h3m15 0h3m-47 3h3m1 0h3m-1 1h3m-6 3h3m18 0h3"/>
<path transform="scale(.5)" stroke="#555" stroke-width="2.8" d="M660 741h3m-6 1h3m16 0h3m36 0h3m-55 1h3m-11 3h3m16 0h3m12 0h3m7 0h3m30 4h3m-92 1h3m34 1h3m4 0h3m31 0h3m-59 1h3m4 0h3m-2 0h3m45 0h3m-81 1h3m91 0h3m-64 1h3m5 1h3m10 0h3m17 0h3m0 0h3m-80 1h3m2 0h3m8 0h3m-2 0h3m17 0h3m25 0h3m-42 1h3m2 0h3m-1 0h3m20 0h3m22 0h3m-77 1h3m13 1h3m5 0h3m3 0h3m-29 1h3m11 0h3m12 0h3m9 0h3m-46 1h3m17 0h3m12 0h3m19 0h3m-43 1h3m24 0h3m43 0h3m-100 1h3m13 0h3m5 0h3m3 0h3m-45 1h3m5 0h3m10 0h3m2 0h3m2 0h3m13 0h3m0 0h3m4 0h3m0 0h3m9 0h3m3 0h3m8 0h3m-76 1h3m25 0h3m-23 1h3m16 0h3m33 0h3m-35 1h3m-24 1h3m6 0h3m8 0h3m2 0h3m-2 0h3m6 0h3m25 0h3m-71 1h3m-1 0h3m4 0h3m23 0h3m-2 0h3m-45 1h3m1 0h3m5 0h3m2 0h3m12 0h3m4 0h3m4 0h3m-48 1h3m7 0h3m-1 0h3m40 0h3m1 0h3m0 0h3m-60 1h3m11 0h3m0 0h3m2 0h3m-2 0h3m3 0h3m5 0h3m4 0h3m-41 1h3m3 0h3m14 0h3m2 0h3m2 0h3m9 0h3m-64 1h3m-13 1h3m1 0h3m52 0h3m-45 1h3m18 0h3m-32 1h3m-1 0h3m16 0h3m0 0h3m7 0h3m4 0h3m36 0h3m-64 1h3m3 0h3m2 0h3m-33 1h3m4 0h3m0 0h3m4 0h3m-2 0h3m7 0h3m-25 1h3m13 0h3m-19 1h3m4 0h3m10 0h3m13 0h3m9 0h3m23 1h3m0 0h3m-94 2h3m28 0h3m2 0h3m6 1h3m-34 1h3m0 1h3m-3 0h3m3 0h3m26 0h3m1 0h3m38 0h3m-84 1h3m33 0h3m10 0h3m-31 1h3m3 0h3m-3 1h3m-33 1h3m-8 1h3m43 0h3m-58 1h3m46 0h3m-34 2h3m22 0h3m-19 3h3"/>
<path transform="scale(.5)" stroke="#333" stroke-width="2.4" d="M674 713h2m-28 3h2m16 7h2m-10 3h2m72 4h2m6 2h2m-44 2h2m-44 2h2m-9 2h2m37 1h2m17 0h2m-18 1h2m-17 2h2m64 0h2m-97 1h2m16 0h2m-26 1h2m-7 1h2m21 0h2m24 0h2m7 3h2m4 0h2m-65 3h2m10 0h2m12 1h2m14 0h2m-29 1h2m1 0h2m5 0h2m51 0h2m35 0h2m-95 2h2m82 0h2m22 0h2m-69 1h2m14 0h2m54 0h2m-103 1h2m22 0h2m-64 1h2m47 0h2m7 0h2m36 0h2m-92 1h2m75 0h2m0 0h2m80 0h2m-76 1h2m-88 1h2m104 0h2m-90 1h2m34 0h2m-56 1h2m42 0h2m3 0h2m68 1h2m-34 1h2m-59 1h2m39 0h2m35 0h2m-115 2h2m1 0h2m75 0h2m-76 1h2m108 0h2m-49 1h2m-61 1h2m12 0h2m136 0h2m-143 1h2m-25 1h2m24 0h2m-31 1h2m0 0h2m3 0h2m34 0h2m6 0h2m101 0h2m-160 1h2m34 0h2m10 0h2m28 0h2m-54 1h2m14 0h2m0 0h2m48 0h2m35 0h2m-133 1h2m65 0h2m37 0h2m-75 1h2m27 0h2m-15 1h2m15 0h2m-54 2h2m20 0h2m-6 1h2m55 1h2m-92 1h2m74 0h2m-66 1h2m79 0h2m37 1h2m-50 1h2m-66 1h2m23 1h2m42 0h2m15 0h2m21 0h2m-66 1h2m4 0h2m4 0h2m6 0h2m-50 1h2m31 0h2m-70 1h2m49 0h2m42 0h2m-53 2h2m18 1h2m15 0h2m66 0h2m-119 2h2m58 0h2m-42 1h2m-1 0h2m37 0h2m-88 1h2m117 0h2m-43 1h2m-8 1h2m8 0h2m61 0h2m-87 1h2m-35 1h2m24 0h2m2 0h2m2 1h2m-72 1h2m30 0h2m48 1h2m8 2h2m-73 1h2m34 0h2m-5 1h2m9 0h2m1 0h2m32 1h2m-77 2h2m1 2h2m56 0h2m41 1h2m-94 3h2m27 0h2m-21 1h2m45 2h2m-31 1h2m-1 1h2m4 2h2m34 0h2m-63 7h2m87 0h2m-98 2h2m-36 1h2m85 2h2m-50 14h2"/>
<path transform="scale(.5)" stroke="#888" stroke-width="2.4" d="M724 697h2m33 0h2m-35 13h2m-48 14h2m49 2h2m-29 3h2m-27 1h2m-37 5h2m60 0h2m71 0h2m-44 2h2m-55 1h2m52 3h2m-108 1h2m7 1h2m15 1h2m42 0h2m10 0h2m-3 3h2m7 0h2m-52 1h2m10 1h2m29 0h2m-86 1h2m88 0h2m-32 1h2m-33 1h2m-20 1h2m32 0h2m38 0h2m-59 1h2m32 0h2m113 0h2m-160 2h2m4 0h2m63 1h2m-39 1h2m-5 1h2m39 0h2m-37 1h2m2 0h2m-8 1h2m38 0h2m-79 2h2m69 1h2m-55 2h2m16 0h2m-1 0h2m-18 1h2m99 0h2m-86 1h2m-21 1h2m31 0h2m-73 1h2m58 0h2m28 0h2m22 0h2m-93 1h2m29 0h2m137 0h2m-180 1h2m-13 1h2m31 0h2m13 0h2m-15 1h2m4 0h2m46 0h2m91 0h2m-179 1h2m-1 0h2m7 0h2m113 0h2m-91 1h2m133 0h2m-138 1h2m11 0h2m-6 3h2m50 0h2m-71 1h2m-10 1h2m31 1h2m59 0h2m-100 1h2m30 2h2m3 0h2m68 0h2m-73 1h2m23 0h2m-60 1h2m-2 0h2m50 1h2m21 0h2m-101 1h2m7 1h2m50 0h2m13 0h2m-21 1h2m77 0h2m-83 1h2m40 0h2m-83 1h2m-25 2h2m9 1h2m26 0h2m31 0h2m2 0h2m21 0h2m-77 1h2m63 1h2m-22 1h2m39 0h2m-58 1h2m26 0h2m-54 1h2m40 0h2m-45 2h2m22 1h2m27 1h2m-13 1h2m52 1h2m-62 1h2m-14 1h2m18 0h2m25 0h2m-84 2h2m52 0h2m-30 2h2m37 1h2m7 0h2m-36 1h2m-46 1h2m42 2h2m37 1h2m-67 1h2m98 1h2m-77 1h2m3 0h2m-4 1h2m47 0h2m-43 1h2m2 0h2m22 0h2m-75 6h2m-1 0h2m44 0h2m87 1h2m-136 3h2m22 11h2m7 2h2m17 2h2m-44 1h2m4 5h2m7 8h2m-18 1h2"/>
<path transform="scale(.5)" stroke="#444" stroke-width="2.4" d="M677 896h2m18 1h2m99 0h2m9 0h2m-17 1h2m30 0h2m89 0h2m17 0h2m7 0h2m-299 1h2m172 0h2m142 0h2m-331 1h2m137 0h2m18 0h2m87 0h2m69 0h2m-312 1h2m16 0h2m3 0h2m39 0h2m30 0h2m148 0h2m53 0h2m-253 1h2m143 0h2m73 1h2m-289 1h2m21 0h2m53 0h2m268 0h2m-335 1h2m11 0h2m105 0h2m93 0h2m42 0h2m-270 1h2m122 0h2m108 0h2m-244 1h2m226 0h2m-29 1h2m13 0h2m34 0h2m0 0h2m-181 2h2m114 0h2m93 0h2m22 0h2m-315 1h2m23 0h2m54 0h2m156 0h2m100 0h2m-312 1h2m17 0h2m52 0h2m17 0h2m-55 1h2m12 0h2m40 0h2m125 0h2m24 0h2m-123 1h2m97 0h2m-226 1h2m50 0h2m68 1h2m53 0h2m44 0h2m44 0h2m-267 1h2m90 0h2m-52 1h2m60 0h2m86 0h2m118 0h2m-284 1h2m173 0h2m19 0h2m33 0h2m-265 1h2m162 0h2m81 0h2m7 0h2m32 0h2m-188 1h2m214 0h2m-349 1h2m126 0h2m66 0h2m-188 1h2m41 0h2m33 0h2m177 0h2m-267 1h2m4 0h2m329 0h2m-325 1h2m28 0h2m194 0h2m42 0h2m-189 1h2m7 0h2m121 0h2m-166 1h2m24 0h2m201 0h2m18 0h2m-216 1h2m65 0h2m7 0h2m-105 2h2m126 0h2m139 1h2m-149 1h2m141 0h2m2 0h2m-271 1h2m236 0h2m-312 1h2m58 0h2m261 0h2m-288 1h2m68 0h2m-109 1h2m117 0h2m107 0h2m27 1h2m54 0h2m0 1h2m24 1h2m-319 1h2m247 0h2m9 0h2m-196 1h2m34 0h2m166 0h2m-74 1h2m80 0h2m6 0h2m-315 1h2m274 0h2m45 0h2m-255 1h2m19 0h2m14 0h2m9 0h2m78 0h2m-196 1h2m119 0h2m72 0h2m74 0h2m-228 1h2m33 0h2m88 0h2m58 0h2m102 0h2m-215 1h2m22 0h2m113 1h2m50 0h2m-206 2h2m-117 1h2m103 0h2m34 0h2m89 0h2m55 0h2m-208 1h2m235 0h2m-163 1h2m37 0h2m-182 1h2m282 0h2m-268 1h2m14 0h2m153 0h2m1 0h2m19 0h2m-174 1h2m67 0h2m153 0h2m-271 1h2m76 0h2m11 0h2m58 0h2m22 0h2m8 0h2m107 0h2m-288 1h2m-15 1h2m107 0h2m157 0h2m53 0h2m-254 1h2m112 0h2m-1 0h2m56 0h2m88 0h2m-12 1h2m-314 1h2m72 0h2m-102 1h2m62 0h2m160 0h2m44 0h2m70 0h2m2 1h2m-218 1h2m39 0h2m62 0h2m57 0h2m-281 1h2m136 0h2m77 1h2m1 0h2m29 0h2m-224 1h2m266 0h2m-182 1h2m102 0h2m96 0h2m-313 1h2m79 0h2m-18 1h2m151 0h2m4 0h2m-241 1h2m64 0h2m18 0h2m13 0h2m235 1h2m-273 1h2m19 0h2m74 0h2m131 0h2m-244 1h2m55 0h2m103 0h2m99 0h2m23 0h2m-291 1h2m17 0h2m135 1h2m83 0h2m15 0h2m5 0h2m-281 1h2m62 0h2m-57 1h2m1 0h2m36 0h2m88 0h2m28 0h2m-181 1h2m2 0h2m4 0h2m49 0h2m2 0h2m15 0h2m0 0h2m8 0h2m34 0h2m42 0h2m114 0h2m19 0h2m-282 2h2m16 0h2m59 0h2m50 0h2m73 0h2m-254 1h2m33 0h2m80 0h2m50 0h2m139 0h2m-144 1h2m26 0h2m-103 1h2m52 0h2m62 0h2m-199 1h2m103 0h2m94 0h2m-141 1h2m87 0h2m18 0h2m3 0h2m-186 1h2m159 0h2m8 0h2m7 0h2m-129 2h2m4 0h2m191 0h2m5 0h2m6 0h2m6 0h2m-199 1h2m-63 1h2m36 0h2m141 0h2m111 0h2m-130 1h2m43 0h2m-248 1h2m151 0h2m42 0h2m109 0h2m-282 1h2m38 0h2m-85 1h2m50 0h2m124 0h2m54 2h2m86 0h2m25 0h2m-314 1h2m144 0h2m60 0h2m80 0h2m-327 1h2m42 0h2m39 0h2m150 0h2m27 0h2m19 0h2m-283 1h2m6 0h2m184 0h2m140 0h2m-327 1h2m113 0h2m26 0h2m-164 1h2m272 0h2m21 0h2m-253 1h2m79 0h2m120 0h2m98 0h2m-311 1h2m162 0h2m-109 1h2m20 0h2m-66 1h2m106 0h2m28 0h2m2 0h2m61 0h2m19 0h2m43 0h2m-242 1h2m165 0h2m-210 1h2m16 0h2m88 0h2m27 0h2m14 0h2m3 0h2m14 0h2m-40 1h2m66 0h2m-245 1h2m93 0h2m28 0h2m89 0h2m10 0h2m88 0h2m-313 1h2m128 0h2m21 1h2m62 0h2m9 0h2m45 0h2m48 0h2m-61 1h2m-188 1h2m12 0h2m72 0h2m47 0h2m45 0h2m4 0h2m-153 1h2m197 0h2m-298 1h2m33 0h2m28 0h2m4 0h2m51 0h2m-133 1h2m6 0h2m0 0h2m4 0h2m85 0h2m-57 1h2m87 0h2m63 0h2m-53 1h2m119 0h2m32 0h2m3 0h2m-111 1h2m104 0h2m-296 1h2m149 0h2m-109 1h2m53 0h2m-105 1h2m114 0h2m149 0h2"/>
<path transform="scale(.5)" stroke="#888" stroke-width="2.4" d="M691 896h2m83 0h2m-136 1h2m136 0h2m69 0h2m65 0h2m26 0h2m-302 1h2m45 0h2m59 0h2m39 0h2m-88 1h2m261 0h2m-345 1h2m36 0h2m33 0h2m31 0h2m192 0h2m41 1h2m-300 1h2m30 0h2m161 0h2m71 0h2m-1 0h2m-272 1h2m13 0h2m125 0h2m159 0h2m-272 1h2m-2 0h2m191 0h2m75 0h2m-329 1h2m90 0h2m75 0h2m130 0h2m24 0h2m-273 1h2m17 0h2m21 0h2m24 0h2m154 0h2m-122 2h2m58 0h2m6 0h2m33 0h2m-279 1h2m49 0h2m215 0h2m22 0h2m-280 1h2m99 0h2m53 0h2m-106 1h2m57 0h2m-60 1h2m33 0h2m62 0h2m25 0h2m81 0h2m-203 1h2m36 0h2m198 0h2m-170 1h2m-40 1h2m72 0h2m43 0h2m0 0h2m37 1h2m44 0h2m12 0h2m-213 1h2m22 0h2m16 0h2m50 0h2m71 0h2m32 0h2m-325 1h2m230 0h2m65 0h2m-253 1h2m67 0h2m8 0h2m48 0h2m-64 1h2m86 0h2m-207 1h2m272 0h2m-168 1h2m35 0h2m3 0h2m63 0h2m47 0h2m-228 1h2m173 0h2m100 0h2m12 0h2m-325 1h2m116 0h2m-115 1h2m216 0h2m20 0h2m7 0h2m50 0h2m-1 0h2m-295 1h2m109 0h2m190 0h2m-235 1h2m152 0h2m0 0h2m58 0h2m-123 1h2m65 0h2m58 0h2m-213 1h2m11 0h2m-85 1h2m33 0h2m23 0h2m2 0h2m190 0h2m-26 1h2m23 0h2m23 0h2m7 0h2m-225 1h2m4 0h2m-103 1h2m108 0h2m29 0h2m31 0h2m22 0h2m27 1h2m62 0h2m-125 1h2m-133 1h2m4 1h2m85 0h2m100 2h2m-202 1h2m42 0h2m12 0h2m73 0h2m144 0h2m-275 1h2m13 0h2m220 0h2m43 1h2m-291 1h2m33 1h2m28 0h2m65 0h2m157 0h2m-263 1h2m3 0h2m55 0h2m-87 1h2m228 0h2m5 0h2m62 0h2m-229 1h2m35 0h2m90 0h2m15 0h2m-14 1h2m13 0h2m47 0h2m-68 1h2m-171 1h2m61 0h2m100 0h2m91 0h2m-186 2h2m-89 1h2m85 0h2m-144 1h2m168 0h2m144 0h2m11 0h2m-178 1h2m35 0h2m66 0h2m-228 1h2m234 0h2m4 0h2m-164 1h2m121 0h2m8 0h2m11 0h2m-253 1h2m80 0h2m32 0h2m64 0h2m7 0h2m100 1h2m-311 1h2m40 1h2m56 0h2m-4 1h2m210 0h2m-303 1h2m130 1h2m151 0h2m-217 1h2m126 0h2m47 0h2m-169 1h2m83 0h2m-72 1h2m185 0h2m11 0h2m22 0h2m-125 1h2m-1 0h2m56 0h2m38 0h2m17 0h2m0 0h2m-14 1h2m32 0h2m-294 1h2m14 0h2m74 0h2m8 0h2m12 0h2m173 0h2m-352 1h2m243 0h2m-107 1h2m150 0h2m28 1h2m-260 2h2m248 0h2m-291 1h2m8 0h2m97 0h2m15 0h2m57 0h2m-139 1h2m34 0h2m-75 1h2m12 0h2m69 0h2m30 0h2m-44 1h2m105 0h2m11 0h2m9 0h2m-128 1h2m70 0h2m86 0h2m37 0h2m-307 1h2m292 0h2m-270 2h2m55 0h2m3 0h2m204 0h2m7 1h2m-205 1h2m51 0h2m36 0h2m3 0h2m40 0h2m37 0h2m-193 1h2m85 0h2m40 0h2m94 0h2m-219 1h2m14 0h2m204 0h2m-327 1h2m12 0h2m35 0h2m118 0h2m168 0h2m-216 1h2m107 0h2m67 0h2m-176 1h2m-1 0h2m201 0h2m4 0h2m-287 1h2m48 0h2m19 0h2m8 0h2m62 0h2m43 0h2m-190 1h2m9 0h2m237 0h2m31 0h2m-265 1h2m171 0h2m15 0h2m3 0h2m-104 1h2m132 0h2m26 0h2m-261 1h2m0 0h2m162 0h2m67 0h2m-276 1h2m130 0h2m21 0h2m56 0h2m69 0h2m-174 2h2m9 0h2m11 0h2m-113 1h2m159 0h2m126 0h2m-122 1h2m41 0h2m-275 2h2m2 0h2m43 0h2m148 0h2m2 0h2m-138 1h2m72 0h2m3 0h2m57 0h2m10 0h2m-95 1h2m41 0h2m20 1h2m-182 1h2m87 0h2m-61 1h2m60 0h2m115 0h2m22 0h2m17 0h2m6 0h2m76 0h2m-256 1h2m138 0h2m-204 1h2m197 0h2m82 0h2m-223 1h2m47 0h2m13 0h2m122 0h2m53 0h2m-326 1h2m161 0h2m38 0h2m16 0h2m95 0h2m-194 1h2m148 0h2m32 0h2m30 0h2m-261 1h2m17 0h2m106 0h2m16 0h2m-1 0h2m9 1h2m-157 1h2m8 0h2m105 0h2m22 0h2m67 0h2m-142 1h2m41 0h2m65 0h2m46 0h2m-91 1h2m62 0h2m-208 1h2m-10 1h2m260 0h2m-87 1h2m0 0h2m-130 1h2m20 0h2m13 0h2m-155 1h2m38 2h2m182 0h2m15 0h2"/>
<path transform="scale(.5)" stroke="#333" stroke-width="2.5" d="M654 872h2m18 0h2m37 3h2m-39 7h2m38 2h2m-65 5h2m-5 7h2m28 1h2m-13 3h2m36 0h2m4 0h2m34 1h2m-91 2h2m50 0h2m-4 1h2m-28 2h2m24 0h2m-14 4h2m60 2h2m-90 2h2m14 0h2m34 2h2m32 0h2m-26 1h2m-84 2h2m32 0h2m13 0h2m-65 1h2m4 0h2m53 0h2m1 1h2m20 1h2m-54 1h2m-6 1h2m50 0h2m-1 0h2m-1 0h2m6 0h2m-18 1h2m2 0h2m-82 2h2m47 0h2m61 0h2m-27 2h2m-48 1h2m73 0h2m-97 2h2m12 1h2m29 0h2m-41 1h2m-1 0h2m-2 0h2m43 0h2m-80 1h2m63 0h2m-70 1h2m11 0h2m9 0h2m42 0h2m-64 1h2m10 0h2m22 0h2m46 1h2m17 0h2m-104 1h2m49 1h2m32 1h2m-8 2h2m14 0h2m-110 1h2m56 0h2m50 0h2m-46 1h2m28 0h2m10 0h2m-43 1h2m1 0h2m15 0h2m27 1h2m-109 1h2m6 2h2m44 0h2m22 0h2m25 0h2m0 0h2m-77 1h2m4 0h2m35 0h2m-69 1h2m19 0h2m10 0h2m-26 1h2m34 1h2m54 0h2m-120 1h2m58 0h2m-42 1h2m36 0h2m33 0h2m25 0h2m-108 1h2m15 0h2m23 0h2m16 0h2m-32 1h2m15 0h2m0 0h2m18 0h2m8 0h2m-74 1h2m90 0h2m-67 1h2m56 0h2m6 0h2m-71 1h2m7 0h2m12 0h2m53 0h2m-120 2h2m50 0h2m2 0h2m16 0h2m39 0h2m-33 1h2m-76 2h2m11 0h2m-8 1h2m-21 1h2m56 0h2m54 0h2m-93 1h2m83 0h2m-92 1h2m27 0h2m-13 1h2m29 0h2m19 0h2m45 0h2m-56 1h2m-49 1h2m31 0h2m-20 1h2m40 0h2m-33 1h2m-1 0h2m8 0h2m18 0h2m-45 1h2m23 0h2m12 0h2m-37 1h2m7 0h2m60 0h2m-97 1h2m4 0h2m7 0h2m-45 1h2m103 0h2m-108 1h2m31 0h2m16 0h2m-1 0h2m5 0h2m32 0h2m-89 1h2m75 0h2m-82 1h2m58 0h2m2 0h2m-42 1h2m60 0h2m-74 1h2m15 0h2m26 0h2m45 0h2m-110 1h2m21 0h2m32 0h2m15 0h2m38 0h2m-102 1h2m95 0h2m0 0h2m5 0h2m-87 1h2m28 0h2m7 0h2m-41 1h2m-3 1h2m56 0h2m3 0h2m-85 1h2m62 0h2m2 1h2m-26 1h2m-48 1h2m12 0h2m16 1h2m15 0h2m15 0h2m-60 1h2m4 0h2m27 0h2m87 0h2m-134 1h2m23 0h2m8 0h2m16 0h2m-16 1h2m61 0h2m-114 1h2m49 0h2m23 1h2m-28 1h2m17 0h2m1 0h2m-37 1h2m5 0h2m80 0h2m-90 2h2m44 0h2m8 0h2m4 0h2m-40 1h2m4 1h2m22 0h2m-24 1h2m5 0h2m-47 1h2m38 1h2m10 0h2m18 0h2m-64 1h2m-36 1h2m69 0h2m3 2h2m-15 1h2m-33 1h2m1 0h2m40 1h2m17 2h2m-74 1h2m12 0h2m39 0h2m-48 2h2m11 2h2m-7 1h2"/>
<path transform="scale(.5)" stroke="#888" stroke-width="2.5" d="M685 869h2m-2 1h2m-44 2h2m-19 6h2m4 12h2m62 1h2m-33 3h2m73 1h2m-46 1h2m6 1h2m-55 8h2m47 0h2m-52 2h2m3 3h2m-7 5h2m-6 1h2m50 0h2m-6 1h2m30 0h2m-9 2h2m-74 2h2m24 0h2m15 0h2m-43 1h2m-5 1h2m5 0h2m17 0h2m41 1h2m-90 1h2m68 0h2m17 1h2m-79 1h2m113 0h2m-71 1h2m21 0h2m-40 1h2m14 0h2m-9 2h2m32 0h2m27 0h2m-111 1h2m58 0h2m25 0h2m-86 1h2m21 0h2m7 0h2m28 0h2m-50 1h2m15 0h2m19 1h2m9 0h2m-52 1h2m96 0h2m-23 1h2m-85 2h2m29 0h2m-40 1h2m0 0h2m57 0h2m-51 1h2m56 0h2m-23 1h2m-47 2h2m20 0h2m48 0h2m-84 1h2m66 0h2m3 0h2m38 0h2m-93 1h2m43 0h2m-27 2h2m37 0h2m0 0h2m-78 1h2m35 0h2m4 0h2m-37 1h2m74 0h2m-86 1h2m54 0h2m-11 1h2m10 0h2m30 0h2m21 1h2m-42 1h2m32 0h2m2 0h2m-108 1h2m14 0h2m44 0h2m109 0h2m-162 1h2m19 0h2m9 0h2m24 0h2m13 0h2m6 0h2m29 0h2m-99 1h2m4 0h2m8 0h2m-39 1h2m3 0h2m8 0h2m122 0h2m-146 1h2m54 0h2m52 0h2m-132 1h2m64 0h2m30 0h2m-81 1h2m36 1h2m50 0h2m7 1h2m-58 1h2m37 0h2m3 0h2m-96 1h2m12 1h2m6 0h2m2 0h2m1 0h2m18 0h2m22 0h2m-70 2h2m18 0h2m11 0h2m9 0h2m-60 1h2m50 1h2m0 0h2m55 0h2m-96 1h2m18 0h2m29 0h2m-70 2h2m10 0h2m37 0h2m3 0h2m55 0h2m-97 1h2m0 1h2m30 0h2m0 0h2m43 0h2m37 0h2m-138 1h2m15 0h2m27 0h2m0 0h2m27 0h2m18 1h2m-17 1h2m2 0h2m-68 1h2m36 0h2m-49 1h2m72 0h2m-21 1h2m13 0h2m-49 1h2m17 0h2m50 0h2m-62 1h2m32 0h2m7 0h2m28 0h2m-123 1h2m71 1h2m-36 1h2m15 1h2m0 1h2m27 0h2m-70 1h2m28 0h2m1 0h2m38 0h2m-50 1h2m-1 0h2m18 0h2m-1 0h2m68 0h2m-104 1h2m-12 1h2m12 0h2m15 0h2m-2 0h2m-2 0h2m13 0h2m29 0h2m-82 2h2m75 1h2m2 0h2m16 0h2m-61 1h2m-1 0h2m29 0h2m49 0h2m-60 2h2m-39 1h2m42 0h2m-91 1h2m53 0h2m41 1h2m-81 1h2m-1 0h2m85 1h2m-28 1h2m5 0h2m-77 1h2m57 0h2m19 1h2m-67 1h2m-31 1h2m31 2h2m4 2h2m18 0h2m-38 1h2m3 0h2m19 0h2m20 0h2m-5 3h2m-23 1h2m-40 1h2m15 0h2m20 0h2m70 0h2m-57 2h2m-28 2h2m8 0h2m37 2h2"/>
<path transform="scale(.5)" stroke="#222" stroke-width="2.6" d="M966 896h3m-39 13h3m-14 6h3m1 0h3m12 0h3m49 6h3m-37 1h3m-5 2h3m-1 1h3m-25 4h3m8 2h3m32 0h3m-40 1h3m-17 2h3m22 0h3m1 0h3m-24 2h3m2 0h3m-2 3h3m20 0h3m-3 1h3m-60 2h3m46 0h3m-24 2h3m9 0h3m9 0h3m-30 1h3m7 0h3m4 0h3m11 0h3m-43 1h3m40 0h3m-30 1h3m33 5h3m-45 1h3m35 0h3m4 0h3m-40 3h3m31 0h3m-41 2h3m20 0h3m9 0h3m-59 1h3m24 0h3m-2 0h3m34 1h3m-2 4h3m-61 3h3m19 0h3m-15 2h3m8 1h3m17 1h3m-20 1h3m-27 1h3m39 1h3m-15 1h3m1 0h3m-19 1h3m2 0h3m12 0h3m8 1h3m-2 0h3m-16 1h3m-17 1h3m44 0h3m-48 1h3m-1 2h3m34 1h3m-51 1h3m0 0h3m-2 1h3m9 1h3m-7 1h3m1 0h3m-25 1h3m1 0h3m9 0h3m-1 1h3m-16 1h3m-9 1h3m-1 0h3m19 1h3m5 0h3m-4 3h3m-32 1h3m14 1h3m-48 2h3m41 0h3m2 1h3m15 2h3m-1 1h3m-16 12h3"/>
<path transform="scale(.5)" stroke="#777" stroke-width="2.6" d="M989 894h3m-70 5h3m40 6h3m-32 6h3m20 0h3m1 1h3m-44 3h3m10 0h3m38 8h3m-27 3h3m4 2h3m-13 1h3m24 2h3m-38 2h3m35 0h3m-14 1h3m-17 4h3m12 1h3m-24 1h3m3 0h3m4 0h3m-27 3h3m19 1h3m-38 1h3m19 0h3m1 0h3m-13 1h3m15 0h3m0 1h3m-22 1h3m8 0h3m-20 2h3m4 0h3m-22 1h3m10 0h3m-10 1h3m47 5h3m-42 1h3m37 0h3m-11 5h3m-32 1h3m-6 1h3m7 0h3m-4 3h3m6 0h3m-15 1h3m22 1h3m11 0h3m2 0h3m-82 1h3m41 3h3m-44 2h3m16 0h3m6 0h3m-15 1h3m36 1h3m12 0h3m-28 2h3m5 1h3m-35 1h3m42 0h3m-45 3h3m15 1h3m-12 4h3m29 0h3m-38 2h3m-15 4h3m38 12h3"/>
<path transform="scale(.5)" stroke="#555" stroke-width="2.4" d="M858 855h2m-92 2h2m164 0h2m-105 12h2m4 4h2m6 0h2m131 1h2m-169 1h2m16 0h2m77 0h2m-111 1h2m7 1h2m71 0h2m-44 2h2m117 0h2m16 0h2m-164 1h2m45 0h2m79 0h2m34 0h2m-159 1h2m72 0h2m31 0h2m26 1h2m22 1h2m-136 1h2m18 0h2m-91 2h2m145 0h2m37 0h2m-169 1h2m-20 1h2m-1 0h2m64 0h2m-28 1h2m61 0h2m-52 2h2m100 1h2m14 0h2"/>
<path transform="scale(.5)" stroke="#999" stroke-width="2.4" d="M781 854h2m148 4h2m-160 3h2m124 0h2m-49 8h2m115 0h2m2 0h2m-174 1h2m70 0h2m15 2h2m79 1h2m-212 1h2m12 1h2m92 0h2m90 0h2m-145 1h2m3 2h2m109 2h2m28 0h2m-82 1h2m1 1h2m-2 1h2m-120 3h2m5 0h2m194 0h2m-172 1h2m102 0h2m-107 1h2m138 0h2m3 3h2m-9 1h2"/>
<path transform="scale(.5)" stroke="#666" stroke-width="2.4" d="M856 692h2m-93 78h2m113 0h2m-103 2h2m104 35h2m-44 47h2m109 9h2"/>
<path transform="scale(.5)" stroke="#aaa" stroke-width="2.4" d="M849 668h2m73 43h2m-29 45h2m-129 110h2m227 1h2"/>
<path transform="scale(.5)" stroke="#111" stroke-width="2.6" d="M176 1206h3m134 6h3m1 0h3m137 2h3m-72 2h3m1 1h3m76 0h3m-83 2h3m-237 2h3m289 1h3m-74 1h3m-252 4h3m14 0h3m-20 1h3m215 0h3m67 0h3m-191 2h3m238 0h3m-234 1h3m-3 0h3m18 0h3m37 0h3m117 0h3m-74 1h3m81 0h3m12 0h3m-232 1h3m82 0h3m130 0h3m-263 1h3m44 0h3m153 0h3m-145 2h3m4 0h3m219 0h3m-350 1h3m61 0h3m-71 1h3m266 0h3m37 0h3m-286 1h3m213 0h3m17 0h3m0 0h3m-229 1h3m45 0h3m41 0h3m43 0h3m1 0h3m23 0h3m130 0h3m-329 1h3m67 0h3m-82 1h3m17 0h3m125 0h3m121 0h3m44 0h3m-323 1h3m107 0h3m-2 0h3m107 0h3m-207 1h3m122 0h3m155 0h3m-297 1h3m86 0h3m11 0h3m46 0h3m173 0h3m-333 1h3m261 0h3m-213 1h3m260 0h3m-272 1h3m48 0h3m91 0h3m44 0h3m62 0h3m-300 1h3m142 0h3m125 0h3m-277 1h3m22 0h3m52 0h3m40 0h3m0 0h3m32 0h3m12 0h3m46 0h3m68 0h3m29 0h3m-283 1h3m166 1h3m27 0h3m28 0h3m-287 1h3m39 0h3m25 0h3m132 0h3m116 0h3m-328 1h3m-2 0h3m4 0h3m23 0h3m75 0h3m-84 1h3m88 0h3m115 0h3m42 0h3m66 0h3m-338 1h3m2 0h3m160 0h3m-2 0h3m2 0h3m120 0h3m15 0h3m-314 1h3m20 0h3m9 0h3m54 0h3m45 0h3m-162 1h3m26 0h3m12 0h3m126 0h3m14 0h3m78 0h3m35 0h3m-300 1h3m254 0h3m35 0h3m2 0h3m15 0h3m-299 1h3m44 0h3m18 0h3m2 0h3m3 0h3m46 0h3m55 0h3m3 0h3m-212 1h3m30 0h3m0 0h3m243 0h3m-287 1h3m9 0h3m8 0h3m14 0h3m-54 1h3m108 0h3m56 0h3m30 0h3m64 0h3m42 0h3m-329 1h3m48 0h3m43 0h3m3 0h3m20 0h3m15 0h3m43 0h3m29 0h3m18 0h3m41 0h3m73 0h3m-341 1h3m40 0h3m2 0h3m105 0h3m16 0h3m30 0h3m19 0h3m0 0h3m15 0h3m-246 1h3m25 0h3m-3 0h3m3 0h3m150 0h3m111 0h3m-305 1h3m16 0h3m8 0h3m7 0h3m6 0h3m49 0h3m57 0h3m85 0h3m0 0h3m14 0h3m-299 1h3m24 0h3m25 0h3m63 0h3m14 0h3m102 0h3m51 0h3m-288 1h3m29 0h3m83 0h3m18 0h3m171 0h3m0 0h3m-337 1h3m7 0h3m22 0h3m4 0h3m43 0h3m54 0h3m99 0h3m-254 1h3m17 0h3m9 0h3m1 0h3m5 0h3m18 0h3m57 0h3m11 0h3m175 0h3m-314 1h3m21 0h3m7 0h3m11 0h3m17 0h3m5 0h3m15 0h3m-93 1h3m16 0h3m72 0h3m10 0h3m11 0h3m30 0h3m159 0h3m-287 1h3m-2 0h3m30 0h3m45 0h3m6 0h3m110 0h3m56 0h3m28 0h3m-326 1h3m-2 0h3m48 0h3m10 0h3m0 0h3m14 0h3m46 0h3m30 0h3m75 0h3m4 0h3m-252 1h3m12 0h3m23 0h3m56 0h3m43 0h3m60 0h3m20 0h3m54 0h3m45 0h3m-298 1h3m44 0h3m251 0h3m-344 1h3m-3 0h3m30 0h3m1 0h3m13 0h3m30 0h3m145 0h3m-245 1h3m18 0h3m-3 0h3m22 0h3m0 0h3m7 0h3m25 0h3m55 0h3m63 0h3m56 0h3m22 0h3m-276 1h3m70 0h3m3 0h3m-113 1h3m112 0h3m2 0h3m76 0h3m9 0h3m72 0h3m25 0h3m20 0h3m-332 1h3m3 0h3m19 0h3m124 0h3m-125 1h3m2 0h3m30 0h3m35 0h3m72 0h3m54 0h3m-236 1h3m10 0h3m9 0h3m17 0h3m150 0h3m76 0h3m-292 1h3m38 0h3m38 0h3m23 0h3m22 0h3m35 0h3m85 0h3m73 0h3m-330 1h3m14 0h3m12 0h3m3 0h3m-3 0h3m207 0h3m-256 1h3m-1 0h3m17 0h3m-2 0h3m64 0h3m0 0h3m118 0h3m9 0h3m96 0h3m-327 1h3m-3 0h3m-1 0h3m85 0h3m-81 1h3m47 0h3m15 0h3m58 0h3m142 0h3m27 0h3m-280 1h3m0 0h3m76 0h3m129 0h3m46 0h3m12 0h3m-301 1h3m18 0h3m98 0h3m-127 1h3m192 0h3m63 0h3m-288 1h3m2 0h3m9 0h3m171 0h3m12 0h3m131 2h3m-314 1h3m19 0h3m67 0h3m96 0h3m18 0h3m-192 1h3m93 0h3m49 0h3m-193 1h3m55 0h3m24 0h3m21 0h3m55 0h3m-177 1h3m150 0h3m155 0h3m-315 1h3m40 0h3m52 0h3m16 0h3m-77 1h3m134 0h3m-148 1h3m28 0h3m-43 1h3m9 0h3m-18 1h3m137 0h3m183 1h3m-213 2h3m3 0h3m128 1h3m-14 1h3m20 0h3m-250 1h3m9 0h3m4 0h3m210 0h3m-201 1h3m38 1h3m98 0h3m130 0h3m-290 2h3m109 0h3m-159 2h3m189 0h3m-204 1h3m251 1h3m-199 1h3m76 0h3m87 0h3m9 1h3m-96 1h3m38 0h3m-171 2h3m219 1h3m96 1h3m-286 6h3m-44 1h3"/>
<path transform="scale(.5)" stroke="#777" stroke-width="2.6" d="M150 1193h3m134 17h3m170 5h3m-278 1h3m74 0h3m45 0h3m-103 4h3m231 2h3m-293 4h3m34 0h3m238 0h3m-313 2h3m234 1h3m-222 1h3m58 0h3m-9 1h3m226 0h3m-243 1h3m-18 1h3m80 0h3m124 0h3m78 0h3m-14 1h3m-283 2h3m53 0h3m48 0h3m40 0h3m113 0h3m-42 1h3m-212 3h3m125 0h3m97 0h3m-247 1h3m23 0h3m0 0h3m-43 2h3m6 0h3m224 0h3m-153 2h3m-75 1h3m72 0h3m147 0h3m31 0h3m-256 1h3m8 0h3m68 0h3m17 0h3m93 0h3m82 0h3m-297 2h3m61 0h3m24 0h3m2 0h3m189 0h3m11 0h3m-340 1h3m32 0h3m101 0h3m-136 1h3m279 0h3m18 0h3m-318 1h3m241 0h3m18 0h3m-279 1h3m64 0h3m190 0h3m-255 1h3m221 1h3m-216 1h3m33 0h3m56 0h3m19 0h3m162 0h3m-223 1h3m175 0h3m-147 1h3m18 0h3m-127 1h3m0 0h3m256 0h3m-244 1h3m6 0h3m1 0h3m119 0h3m10 0h3m36 0h3m-161 1h3m136 0h3m75 0h3m30 0h3m-54 1h3m-200 1h3m73 0h3m72 0h3m-160 1h3m36 0h3m-98 1h3m6 0h3m5 0h3m123 0h3m-106 1h3m53 0h3m120 0h3m31 0h3m-244 1h3m19 0h3m0 0h3m75 0h3m-1 0h3m191 0h3m-308 1h3m18 0h3m11 0h3m55 0h3m100 0h3m61 0h3m60 0h3m-334 1h3m1 0h3m26 0h3m45 0h3m17 0h3m2 0h3m146 0h3m6 0h3m29 0h3m-238 1h3m108 0h3m-173 1h3m-2 0h3m5 0h3m143 0h3m0 0h3m2 0h3m53 0h3m4 0h3m72 0h3m-279 1h3m31 0h3m178 0h3m14 0h3m19 0h3m-133 1h3m142 0h3m24 0h3m-223 1h3m100 0h3m87 0h3m-3 0h3m-262 1h3m86 0h3m6 0h3m190 0h3m-223 1h3m72 0h3m40 0h3m28 0h3m-259 1h3m-3 0h3m205 0h3m85 0h3m-282 1h3m13 0h3m-28 1h3m64 0h3m2 0h3m30 0h3m-2 0h3m25 0h3m105 0h3m-228 1h3m285 0h3m-305 1h3m36 0h3m1 0h3m43 1h3m112 0h3m87 0h3m-2 0h3m64 0h3m-351 1h3m298 0h3m-308 1h3m11 0h3m-11 1h3m113 0h3m16 0h3m46 0h3m34 0h3m-251 1h3m65 0h3m67 0h3m64 0h3m33 0h3m-183 1h3m209 0h3m7 0h3m-144 1h3m68 0h3m43 0h3m68 0h3m-308 1h3m-28 1h3m99 0h3m219 0h3m-294 1h3m12 0h3m0 0h3m-12 1h3m14 0h3m126 0h3m101 0h3m-134 1h3m-156 1h3m49 0h3m222 0h3m27 0h3m20 0h3m-330 1h3m18 0h3m182 0h3m32 0h3m-232 1h3m23 0h3m126 0h3m-65 1h3m80 0h3m72 0h3m-263 1h3m0 0h3m42 0h3m125 0h3m-135 1h3m253 0h3m-247 1h3m-30 1h3m53 0h3m132 0h3m-190 2h3m75 0h3m122 0h3m20 0h3m-182 2h3m-88 1h3m344 0h3m-251 2h3m69 0h3m-123 2h3m143 0h3m-198 1h3m282 3h3m-211 2h3m-22 1h3m224 0h3m-91 2h3m98 2h3m-277 4h3m-1 13h3"/>
<path transform="scale(.5)" stroke="#111" stroke-width="2.6" d="M198 1184h3m-25 3h3m0 2h3"/>
<path transform="scale(.5)" stroke="#777" stroke-width="2.6" d="M170 1177h3m-3 6h3m13 18h3m-20 1h3m-10 19h3m-2 2h3"/>
<path transform="scale(.5)" stroke="#111" stroke-width="3.2" d="M124 1435h3m-7 1h3m4 0h3m-9 1h3m5 0h3m13 0h3m6 0h3m-32 1h3m7 0h3m2 0h3m27 0h3m-43 1h3m2 0h3m-21 1h3m3 0h3m0 0h3m22 0h3m6 0h3m11 0h3m-61 1h3m-2 0h3m7 0h3m-1 0h3m28 0h3m22 0h3m-64 1h3m0 0h3m1 0h3m5 0h3m35 0h3m-63 1h3m-1 0h3m15 0h3m1 0h3m8 0h3m0 0h3m-41 1h3m-3 0h3m0 0h3m-3 0h3m-3 0h3m-2 0h3m-2 0h3m-2 0h3m1 0h3m0 0h3m-1 0h3m-1 0h3m36 0h3m-60 1h3m-3 0h3m-1 0h3m-3 0h3m2 0h3m-2 0h3m0 0h3m-1 0h3m-1 0h3m-1 0h3m0 0h3m-1 0h3m-2 0h3m4 0h3m19 0h3m-53 1h3m4 0h3m-2 0h3m-1 0h3m0 0h3m0 0h3m-3 0h3m0 0h3m2 0h3m4 0h3m4 0h3m15 0h3m-3 0h3m-1 0h3m-63 1h3m-2 0h3m-3 0h3m-3 0h3m-2 0h3m-3 0h3m-2 0h3m-2 0h3m-1 0h3m-2 0h3m-1 0h3m1 0h3m-2 0h3m-3 0h3m-3 0h3m0 0h3m-2 0h3m-2 0h3m-3 0h3m-1 0h3m-3 0h3m-1 0h3m-3 0h3m0 0h3m-1 0h3m-3 0h3m5 0h3m-3 0h3m7 0h3m1 0h3m10 0h3m-66 1h3m1 0h3m-3 0h3m-2 0h3m-3 0h3m-2 0h3m-2 0h3m-3 0h3m-3 0h3m-2 0h3m5 0h3m-3 0h3m-1 0h3m-3 0h3m1 0h3m0 0h3m-1 0h3m2 0h3m-1 0h3m0 0h3m3 0h3m12 0h3m0 0h3m-64 1h3m-2 0h3m-2 0h3m-2 0h3m-2 0h3m3 0h3m-3 0h3m-2 0h3m-2 0h3m0 0h3m-3 0h3m-2 0h3m0 0h3m1 0h3m-3 0h3m-1 0h3m2 0h3m-2 0h3m-2 0h3m-1 0h3m-2 0h3m7 0h3m8 0h3m9 0h3m-71 1h3m-2 0h3m-2 0h3m-3 0h3m-2 0h3m-3 0h3m-2 0h3m-2 0h3m0 0h3m-3 0h3m3 0h3m-3 0h3m-3 0h3m0 0h3m-3 0h3m2 0h3m0 0h3m0 0h3m-3 0h3m0 0h3m-2 0h3m-1 0h3m6 0h3m3 0h3m9 0h3m15 0h3m2 0h3m-86 1h3m-2 0h3m-3 0h3m-2 0h3m-2 0h3m-3 0h3m-1 0h3m-2 0h3m-3 0h3m-3 0h3m0 0h3m-2 0h3m-2 0h3m-3 0h3m-1 0h3m-3 0h3m-3 0h3m-3 0h3m-1 0h3m-3 0h3m-1 0h3m-2 0h3m-1 0h3m-2 0h3m-2 0h3m-1 0h3m-3 0h3m-2 0h3m-3 0h3m-1 0h3m0 0h3m0 0h3m2 0h3m0 0h3m2 0h3m-3 0h3m0 0h3m-1 0h3m2 0h3m-3 0h3m-1 0h3m0 0h3m7 0h3m-1 0h3m0 0h3m-80 1h3m-2 0h3m-2 0h3m-2 0h3m-2 0h3m-2 0h3m-3 0h3m-1 0h3m-1 0h3m0 0h3m-2 0h3m-3 0h3m-3 0h3m-2 0h3m-2 0h3m2 0h3m2 0h3m-3 0h3m-3 0h3m-2 0h3m-3 0h3m-1 0h3m-2 0h3m-2 0h3m1 0h3m-2 0h3m-2 0h3m-1 0h3m-2 0h3m3 0h3m-2 0h3m41 0h3m15 0h3m-111 1h3m-3 0h3m-3 0h3m-2 0h3m-2 0h3m-1 0h3m-3 0h3m-2 0h3m-3 0h3m-1 0h3m0 0h3m0 0h3m-2 0h3m-3 0h3m-2 0h3m-1 0h3m-3 0h3m-3 0h3m-2 0h3m-3 0h3m-2 0h3m-2 0h3m-1 0h3m-3 0h3m-3 0h3m-2 0h3m-3 0h3m-3 0h3m-2 0h3m-2 0h3m-3 0h3m-2 0h3m-1 0h3m-2 0h3m-3 0h3m-1 0h3m-3 0h3m2 0h3m-3 0h3m4 0h3m4 0h3m-1 0h3m1 0h3m-2 0h3m-1 0h3m2 0h3m3 0h3m-68 1h3m-2 0h3m-3 0h3m-3 0h3m-2 0h3m-2 0h3m-2 0h3m-1 0h3m0 0h3m-3 0h3m-3 0h3m-2 0h3m-2 0h3m-3 0h3m-2 0h3m-2 0h3m-2 0h3m-3 0h3m-2 0h3m-3 0h3m0 0h3m-3 0h3m0 0h3m2 0h3m-3 0h3m-3 0h3m-2 0h3m-2 0h3m-3 0h3m-3 0h3m-1 0h3m-1 0h3m-2 0h3m0 0h3m-2 0h3m4 0h3m0 0h3m6 0h3m3 0h3m-1 0h3m9 0h3m-84 1h3m-3 0h3m-2 0h3m-2 0h3m-3 0h3m-2 0h3m-2 0h3m-3 0h3m-3 0h3m-3 0h3m-2 0h3m-2 0h3m-3 0h3m-2 0h3m-1 0h3m-1 0h3m-3 0h3m0 0h3m-1 0h3m-3 0h3m-2 0h3m-3 0h3m-2 0h3m-3 0h3m-2 0h3m-2 0h3m-2 0h3m-3 0h3m-2 0h3m-3 0h3m-3 0h3m-3 0h3m-1 0h3m-3 0h3m-2 0h3m-3 0h3m-2 0h3m-2 0h3m0 0h3m-3 0h3m-2 0h3m-2 0h3m-3 0h3m-3 0h3m-1 0h3m0 0h3m0 0h3m-1 0h3m-3 0h3m-3 0h3m-1 0h3m-2 0h3m-2 0h3m4 0h3m-2 0h3m-2 0h3m-3 0h3m2 0h3m5 0h3m8 0h3m3 0h3m-85 1h3m-2 0h3m-3 0h3m-2 0h3m-1 0h3m-3 0h3m0 0h3m-2 0h3m-2 0h3m-2 0h3m-2 0h3m-3 0h3m-3 0h3m-3 0h3m-2 0h3m-3 0h3m-3 0h3m-2 0h3m-2 0h3m-2 0h3m-3 0h3m-2 0h3m-1 0h3m-3 0h3m-3 0h3m-1 0h3m-2 0h3m-1 0h3m-1 0h3m-3 0h3m-2 0h3m-3 0h3m-3 0h3m-2 0h3m-1 0h3m0 0h3m-3 0h3m-2 0h3m-3 0h3m3 0h3m-3 0h3m-3 0h3m-3 0h3m-1 0h3m2 0h3m-2 0h3m-1 0h3m-2 0h3m-3 0h3m-2 0h3m-2 0h3m-2 0h3m-2 0h3m-3 0h3m0 0h3m-2 0h3m-1 0h3m-1 0h3m0 0h3m8 0h3m-82 1h3m-2 0h3m-2 0h3m-2 0h3m-3 0h3m-2 0h3m-2 0h3m-2 0h3m-3 0h3m-2 0h3m-1 0h3m-3 0h3m-3 0h3m-2 0h3m-2 0h3m-1 0h3m-3 0h3m-2 0h3m-3 0h3m-1 0h3m-1 0h3m-3 0h3m-2 0h3m2 0h3m-1 0h3m-2 0h3m-3 0h3m-2 0h3m-2 0h3m-3 0h3m-3 0h3m-2 0h3m-2 0h3m-3 0h3m-2 0h3m-2 0h3m-2 0h3m-3 0h3m-1 0h3m-3 0h3m-3 0h3m-2 0h3m-1 0h3m-2 0h3m-1 0h3m-2 0h3m-2 0h3m-2 0h3m-2 0h3m-2 0h3m-2 0h3m-1 0h3m-1 0h3m-3 0h3m-2 0h3m-2 0h3m-3 0h3m-1 0h3m-2 0h3m-3 0h3m1 0h3m2 0h3m4 0h3m-2 0h3m1 0h3m2 0h3m2 0h3m-3 0h3m-3 0h3m-91 1h3m-3 0h3m-3 0h3m1 0h3m-2 0h3m-1 0h3m-3 0h3m-3 0h3m-2 0h3m-3 0h3m-2 0h3m-3 0h3m-2 0h3m-3 0h3m-3 0h3m-1 0h3m-3 0h3m-1 0h3m-3 0h3m-1 0h3m-1 0h3m-1 0h3m-2 0h3m-3 0h3m-2 0h3m-3 0h3m-2 0h3m-1 0h3m-3 0h3m-2 0h3m-2 0h3m-3 0h3m-2 0h3m-2 0h3m-1 0h3m-2 0h3m-2 0h3m-2 0h3m-3 0h3m0 0h3m0 0h3m-3 0h3m-1 0h3m-3 0h3m0 0h3m0 0h3m0 0h3m-2 0h3m-3 0h3m-1 0h3m-3 0h3m-1 0h3m-2 0h3m-2 0h3m1 0h3m-3 0h3m-2 0h3m-2 0h3m-1 0h3m5 0h3m-2 0h3m3 0h3m0 0h3m9 0h3m11 0h3m-113 1h3m-3 0h3m0 0h3m-3 0h3m-3 0h3m-2 0h3m-1 0h3m-3 0h3m-1 0h3m-3 0h3m-1 0h3m-3 0h3m-3 0h3m0 0h3m-2 0h3m-2 0h3m-3 0h3m-3 0h3m-2 0h3m-2 0h3m-1 0h3m-3 0h3m-2 0h3m-2 0h3m-2 0h3m-3 0h3m-3 0h3m-3 0h3m-3 0h3m-3 0h3m-2 0h3m-1 0h3m-3 0h3m-1 0h3m0 0h3m-3 0h3m-1 0h3m-3 0h3m-2 0h3m-3 0h3m-3 0h3m-3 0h3m-2 0h3m0 0h3m-3 0h3m-2 0h3m-3 0h3m-2 0h3m-3 0h3m-2 0h3m-1 0h3m-2 0h3m-3 0h3m-2 0h3m-3 0h3m-2 0h3m-3 0h3m-2 0h3m-3 0h3m-3 0h3m0 0h3m0 0h3m0 0h3m1 0h3m-3 0h3m-1 0h3m-3 0h3m2 0h3m-2 0h3m-2 0h3m3 0h3m-1 0h3m-3 0h3m-2 0h3m21 0h3m-103 1h3m-2 0h3m-2 0h3m-2 0h3m-2 0h3m-3 0h3m-2 0h3m-3 0h3m-2 0h3m-2 0h3m-3 0h3m-2 0h3m-3 0h3m-1 0h3m-2 0h3m-3 0h3m-2 0h3m-3 0h3m-3 0h3m-3 0h3m-3 0h3m-3 0h3m-2 0h3m-2 0h3m-3 0h3m-1 0h3m-2 0h3m-2 0h3m-3 0h3m-3 0h3m-1 0h3m-1 0h3m-3 0h3m-2 0h3m-1 0h3m-3 0h3m-2 0h3m-2 0h3m-2 0h3m-2 0h3m-2 0h3m-3 0h3m-1 0h3m-3 0h3m-3 0h3m-1 0h3m-3 0h3m-1 0h3m-1 0h3m0 0h3m-3 0h3m-2 0h3m-3 0h3m-2 0h3m-1 0h3m-2 0h3m-3 0h3m-1 0h3m-3 0h3m-3 0h3m0 0h3m0 0h3m-2 0h3m-2 0h3m-2 0h3m-3 0h3m-2 0h3m-2 0h3m-2 0h3m0 0h3m-2 0h3m-1 0h3m-2 0h3m4 0h3m3 0h3m2 0h3m-1 0h3m4 0h3m-98 1h3m-3 0h3m-2 0h3m-2 0h3m-3 0h3m-2 0h3m-3 0h3m-1 0h3m-1 0h3m-3 0h3m-2 0h3m-3 0h3m-3 0h3m-1 0h3m-3 0h3m-2 0h3m-2 0h3m-2 0h3m-2 0h3m-3 0h3m-3 0h3m-2 0h3m-3 0h3m-2 0h3m-2 0h3m-3 0h3m-1 0h3m-3 0h3m-3 0h3m-3 0h3m-2 0h3m-1 0h3m-2 0h3m-2 0h3m-2 0h3m-1 0h3m-1 0h3m-1 0h3m-1 0h3m-3 0h3m-3 0h3m-3 0h3m-1 0h3m-2 0h3m-3 0h3m-3 0h3m-1 0h3m-2 0h3m-3 0h3m-1 0h3m-2 0h3m-3 0h3m-1 0h3m-1 0h3m-1 0h3m-2 0h3m-3 0h3m-1 0h3m2 0h3m-1 0h3m-3 0h3m-2 0h3m-3 0h3m2 0h3m4 0h3m0 0h3m2 0h3m-2 0h3m4 0h3m5 0h3m8 0h3m-109 1h3m-3 0h3m-1 0h3m-3 0h3m-3 0h3m-2 0h3m-2 0h3m-2 0h3m-3 0h3m-3 0h3m-3 0h3m-2 0h3m-2 0h3m-3 0h3m-3 0h3m-3 0h3m-2 0h3m-3 0h3m-3 0h3m-3 0h3m-2 0h3m-3 0h3m-3 0h3m-3 0h3m-2 0h3m-2 0h3m-3 0h3m-2 0h3m-2 0h3m-3 0h3m-3 0h3m1 0h3m-2 0h3m-3 0h3m-2 0h3m-2 0h3m-3 0h3m-1 0h3m-1 0h3m-2 0h3m-3 0h3m-2 0h3m-2 0h3m-1 0h3m-3 0h3m-1 0h3m-2 0h3m0 0h3m-2 0h3m-2 0h3m-2 0h3m-2 0h3m-2 0h3m-3 0h3m-3 0h3m-2 0h3m-2 0h3m-3 0h3m0 0h3m0 0h3m-2 0h3m-3 0h3m-2 0h3m2 0h3m-2 0h3m-2 0h3m-1 0h3m2 0h3m-2 0h3m0 0h3m5 0h3m-2 0h3m-3 0h3m2 0h3m-1 0h3m5 0h3m-2 0h3m0 0h3m2 0h3m-104 1h3m-3 0h3m-2 0h3m-3 0h3m-2 0h3m-2 0h3m-3 0h3m-2 0h3m-2 0h3m-3 0h3m-2 0h3m-3 0h3m-1 0h3m-2 0h3m-3 0h3m-3 0h3m-3 0h3m0 0h3m-3 0h3m-2 0h3m-3 0h3m-3 0h3m-3 0h3m-2 0h3m-3 0h3m-3 0h3m-2 0h3m-3 0h3m-3 0h3m-3 0h3m-2 0h3m-3 0h3m-3 0h3m-2 0h3m-2 0h3m-3 0h3m-2 0h3m-2 0h3m-3 0h3m-2 0h3m-3 0h3m-3 0h3m-2 0h3m-2 0h3m-2 0h3m-3 0h3m-2 0h3m-3 0h3m-2 0h3m-3 0h3m-1 0h3m-3 0h3m-2 0h3m-1 0h3m-3 0h3m-2 0h3m-3 0h3m-3 0h3m-2 0h3m-3 0h3m0 0h3m-2 0h3m-2 0h3m-2 0h3m-2 0h3m-1 0h3m-3 0h3m-3 0h3m-2 0h3m3 0h3m-2 0h3m-2 0h3m-2 0h3m-1 0h3m-3 0h3m-2 0h3m-2 0h3m-2 0h3m-3 0h3m-1 0h3m-2 0h3m-1 0h3m1 0h3m-3 0h3m-1 0h3m-3 0h3m-2 0h3m-1 0h3m-1 0h3m-1 0h3m2 0h3m6 0h3m0 0h3m3 0h3m-1 0h3m12 0h3m9 0h3m18 0h3m-151 1h3m-2 0h3m-1 0h3m-1 0h3m-3 0h3m-3 0h3m-2 0h3m-2 0h3m-2 0h3m-2 0h3m-2 0h3m-2 0h3m-3 0h3m-2 0h3m-3 0h3m-2 0h3m-2 0h3m-3 0h3m-2 0h3m-3 0h3m-1 0h3m-2 0h3m-3 0h3m0 0h3m-3 0h3m-2 0h3m-2 0h3m-2 0h3m-2 0h3m-1 0h3m-2 0h3m-3 0h3m-2 0h3m-1 0h3m-3 0h3m-1 0h3m-3 0h3m-3 0h3m-3 0h3m-1 0h3m-2 0h3m-2 0h3m-3 0h3m-1 0h3m-2 0h3m-2 0h3m-2 0h3m-2 0h3m-2 0h3m-2 0h3m-3 0h3m-2 0h3m-2 0h3m-2 0h3m-3 0h3m-2 0h3m-1 0h3m-1 0h3m-1 0h3m-3 0h3m-1 0h3m-1 0h3m-2 0h3m-2 0h3m-3 0h3m-2 0h3m-3 0h3m-3 0h3m0 0h3m-1 0h3m-1 0h3m1 0h3m-2 0h3m-1 0h3m-2 0h3m-1 0h3m25 0h3m-110 1h3m-2 0h3m-2 0h3m-3 0h3m-3 0h3m-2 0h3m-1 0h3m-3 0h3m-3 0h3m-3 0h3m-1 0h3m-1 0h3m-3 0h3m-1 0h3m-1 0h3m-2 0h3m-3 0h3m-3 0h3m-2 0h3m-3 0h3m-1 0h3m-3 0h3m-3 0h3m-2 0h3m-2 0h3m-2 0h3m-3 0h3m-3 0h3m-2 0h3m-2 0h3m-1 0h3m-3 0h3m-3 0h3m-3 0h3m-2 0h3m-2 0h3m-1 0h3m-2 0h3m-3 0h3m-2 0h3m-3 0h3m-3 0h3m-2 0h3m-3 0h3m-2 0h3m-2 0h3m-1 0h3m-3 0h3m-2 0h3m-3 0h3m-2 0h3m-3 0h3m0 0h3m-2 0h3m-3 0h3m-2 0h3m-2 0h3m-3 0h3m-2 0h3m-2 0h3m-3 0h3m1 0h3m-3 0h3m-1 0h3m-2 0h3m-1 0h3m-2 0h3m-2 0h3m-1 0h3m0 0h3m-3 0h3m-1 0h3m-2 0h3m-1 0h3m-3 0h3m-2 0h3m0 0h3m-2 0h3m-2 0h3m3 0h3m0 0h3m0 0h3m-3 0h3m12 0h3m6 0h3m-111 1h3m-2 0h3m-2 0h3m-3 0h3m0 0h3m-3 0h3m-3 0h3m-2 0h3m-2 0h3m-2 0h3m-3 0h3m-2 0h3m-3 0h3m-1 0h3m-3 0h3m-2 0h3m-3 0h3m-3 0h3m-2 0h3m-3 0h3m-3 0h3m-3 0h3m-1 0h3m-2 0h3m-3 0h3m-2 0h3m-3 0h3m-1 0h3m-2 0h3m-3 0h3m-3 0h3m-2 0h3m-3 0h3m0 0h3m-3 0h3m-2 0h3m-2 0h3m-2 0h3m-2 0h3m-3 0h3m-2 0h3m-2 0h3m-2 0h3m-3 0h3m0 0h3m-2 0h3m-3 0h3m-3 0h3m-2 0h3m-3 0h3m-2 0h3m-3 0h3m-2 0h3m-3 0h3m-2 0h3m-2 0h3m-3 0h3m-2 0h3m-3 0h3m1 0h3m-3 0h3m-1 0h3m-2 0h3m-1 0h3m0 0h3m-2 0h3m-3 0h3m1 0h3m-1 0h3m-1 0h3m-1 0h3m-3 0h3m-2 0h3m-3 0h3m-3 0h3m-1 0h3m-1 0h3m-1 0h3m-3 0h3m-1 0h3m-3 0h3m4 0h3m-2 0h3m-2 0h3m-2 0h3m1 0h3m12 0h3m14 0h3m-120 1h3m-2 0h3m-3 0h3m-2 0h3m-3 0h3m-3 0h3m-2 0h3m-3 0h3m-2 0h3m-3 0h3m-2 0h3m-3 0h3m-1 0h3m-3 0h3m-3 0h3m-2 0h3m-2 0h3m-2 0h3m-2 0h3m-3 0h3m-2 0h3m-2 0h3m-3 0h3m-2 0h3m-2 0h3m-2 0h3m-3 0h3m-1 0h3m-3 0h3m-3 0h3m-2 0h3m-2 0h3m0 0h3m-2 0h3m-2 0h3m-3 0h3m-3 0h3m-1 0h3m-3 0h3m0 0h3m-2 0h3m-3 0h3m-2 0h3m2 0h3m-2 0h3m-1 0h3m-2 0h3m-3 0h3m-1 0h3m-2 0h3m-2 0h3m-3 0h3m-3 0h3m-3 0h3m-2 0h3m-2 0h3m0 0h3m-2 0h3m-2 0h3m-2 0h3m-3 0h3m-3 0h3m-3 0h3m-3 0h3m-2 0h3m2 0h3m-3 0h3m0 0h3m-2 0h3m-2 0h3m1 0h3m-1 0h3m-1 0h3m-2 0h3m-3 0h3m-2 0h3m-3 0h3m-1 0h3m-2 0h3m3 0h3m-2 0h3m2 0h3m-2 0h3m-1 0h3m-97 1h3m-2 0h3m-3 0h3m-2 0h3m-2 0h3m-3 0h3m-2 0h3m-3 0h3m-3 0h3m-2 0h3m-3 0h3m-2 0h3m-3 0h3m-3 0h3m-1 0h3m-2 0h3m-3 0h3m-2 0h3m-3 0h3m-2 0h3m-3 0h3m-3 0h3m-2 0h3m-2 0h3m-1 0h3m-3 0h3m-3 0h3m-3 0h3m-1 0h3m-3 0h3m0 0h3m-3 0h3m-1 0h3m-2 0h3m-3 0h3m-3 0h3m-2 0h3m-3 0h3m-2 0h3m-3 0h3m-2 0h3m-3 0h3m-1 0h3m-3 0h3m-3 0h3m-1 0h3m-1 0h3m-3 0h3m-2 0h3m-3 0h3m-1 0h3m-2 0h3m2 0h3m-3 0h3m-2 0h3m-3 0h3m-2 0h3m-2 0h3m-2 0h3m-2 0h3m-3 0h3m-1 0h3m1 0h3m-2 0h3m-2 0h3m-1 0h3m-3 0h3m-2 0h3m-2 0h3m-3 0h3m-3 0h3m-2 0h3m-1 0h3m-3 0h3m-3 0h3m-1 0h3m-3 0h3m-1 0h3m-1 0h3m2 0h3m0 0h3m3 0h3m-3 0h3m0 0h3m-3 0h3m-2 0h3m6 0h3m16 0h3m3 0h3m-122 1h3m-2 0h3m-3 0h3m-3 0h3m-3 0h3m-2 0h3m-1 0h3m-1 0h3m-2 0h3m-3 0h3m-3 0h3m-2 0h3m0 0h3m-2 0h3m-2 0h3m-3 0h3m-2 0h3m-2 0h3m-3 0h3m-3 0h3m-2 0h3m-2 0h3m-2 0h3m-2 0h3m-2 0h3m-3 0h3m-3 0h3m-2 0h3m-1 0h3m-3 0h3m-3 0h3m-2 0h3m-3 0h3m1 0h3m-3 0h3m-3 0h3m-1 0h3m-2 0h3m-3 0h3m-3 0h3m-2 0h3m-2 0h3m-3 0h3m-3 0h3m-2 0h3m-2 0h3m-3 0h3m-2 0h3m-3 0h3m-2 0h3m-2 0h3m-2 0h3m-2 0h3m-3 0h3m0 0h3m-2 0h3m-2 0h3m-3 0h3m-1 0h3m-3 0h3m-1 0h3m-2 0h3m-3 0h3m-1 0h3m-3 0h3m-1 0h3m-2 0h3m-2 0h3m-2 0h3m-2 0h3m-1 0h3m-1 0h3m0 0h3m2 0h3m-2 0h3m-2 0h3m1 0h3m-1 0h3m1 0h3m-2 0h3m-1 0h3m-2 0h3m5 0h3m1 0h3m1 0h3m0 0h3m11 0h3m-122 1h3m-2 0h3m1 0h3m-3 0h3m-2 0h3m-2 0h3m-3 0h3m-3 0h3m-3 0h3m-2 0h3m-3 0h3m-2 0h3m-3 0h3m-3 0h3m-3 0h3m-2 0h3m-3 0h3m-3 0h3m-2 0h3m-3 0h3m-2 0h3m-2 0h3m-2 0h3m-3 0h3m-3 0h3m-3 0h3m-1 0h3m-1 0h3m-3 0h3m0 0h3m-3 0h3m0 0h3m-3 0h3m0 0h3m-3 0h3m-2 0h3m-2 0h3m-2 0h3m-1 0h3m-2 0h3m-3 0h3m-2 0h3m-3 0h3m0 0h3m-3 0h3m-3 0h3m-1 0h3m-3 0h3m-2 0h3m-2 0h3m-3 0h3m-1 0h3m-3 0h3m-3 0h3m-3 0h3m-3 0h3m0 0h3m-3 0h3m-3 0h3m-2 0h3m-2 0h3m-3 0h3m-2 0h3m-3 0h3m1 0h3m-3 0h3m-2 0h3m1 0h3m-2 0h3m-2 0h3m-3 0h3m-2 0h3m-2 0h3m-3 0h3m-1 0h3m-3 0h3m3 0h3m0 0h3m0 0h3m-2 0h3m-1 0h3m2 0h3m-1 0h3m0 0h3m3 0h3m0 0h3m17 0h3m7 0h3m-131 1h3m-3 0h3m-3 0h3m-3 0h3m-2 0h3m-3 0h3m-2 0h3m-2 0h3m-3 0h3m-3 0h3m-1 0h3m-3 0h3m-2 0h3m-2 0h3m-3 0h3m-2 0h3m-3 0h3m-2 0h3m-3 0h3m-3 0h3m-1 0h3m-3 0h3m-3 0h3m-2 0h3m-2 0h3m-3 0h3m-2 0h3m-3 0h3m-3 0h3m-2 0h3m-3 0h3m-3 0h3m-2 0h3m-2 0h3m-3 0h3m-3 0h3m-2 0h3m-1 0h3m-1 0h3m-3 0h3m-1 0h3m-3 0h3m-3 0h3m-2 0h3m-2 0h3m-3 0h3m-2 0h3m-2 0h3m-3 0h3m-3 0h3m-1 0h3m-3 0h3m-2 0h3m-3 0h3m-2 0h3m-3 0h3m-2 0h3m-3 0h3m-3 0h3m-3 0h3m-2 0h3m-2 0h3m-2 0h3m-2 0h3m-1 0h3m-2 0h3m-2 0h3m-3 0h3m-2 0h3m-2 0h3m-2 0h3m-3 0h3m-3 0h3m-2 0h3m-2 0h3m-2 0h3m-2 0h3m0 0h3m-1 0h3m-2 0h3m-3 0h3m0 0h3m-3 0h3m-2 0h3m1 0h3m-1 0h3m-2 0h3m-3 0h3m-2 0h3m-1 0h3m-3 0h3m-1 0h3m-1 0h3m-2 0h3m-2 0h3m1 0h3m0 0h3m-2 0h3m-2 0h3m-1 0h3m-1 0h3m-3 0h3m0 0h3m-3 0h3m-3 0h3m1 0h3m-1 0h3m9 0h3m-1 0h3m-113 1h3m-3 0h3m-2 0h3m-3 0h3m-3 0h3m-2 0h3m-2 0h3m-3 0h3m-1 0h3m-3 0h3m-3 0h3m-3 0h3m-2 0h3m-3 0h3m-2 0h3m-3 0h3m-3 0h3m-2 0h3m-3 0h3m1 0h3m-2 0h3m-3 0h3m-2 0h3m-2 0h3m-2 0h3m-2 0h3m-2 0h3m-2 0h3m-3 0h3m-2 0h3m-3 0h3m-2 0h3m-3 0h3m-3 0h3m-2 0h3m-2 0h3m-3 0h3m-2 0h3m-1 0h3m-3 0h3m-2 0h3m-3 0h3m-3 0h3m-2 0h3m-2 0h3m-2 0h3m-2 0h3m-3 0h3m-2 0h3m-3 0h3m-2 0h3m-3 0h3m-3 0h3m-2 0h3m-2 0h3m-2 0h3m-1 0h3m-3 0h3m-2 0h3m1 0h3m-2 0h3m-2 0h3m-3 0h3m1 0h3m-3 0h3m0 0h3m1 0h3m1 0h3m-2 0h3m-3 0h3m-1 0h3m-1 0h3m-1 0h3m-2 0h3m-2 0h3m-1 0h3m-3 0h3m-2 0h3m-2 0h3m-2 0h3m11 0h3m-3 0h3m0 0h3m-1 0h3m-1 0h3m15 0h3m-2 0h3m20 0h3m-140 1h3m-2 0h3m-2 0h3m-2 0h3m-2 0h3m-3 0h3m-3 0h3m-3 0h3m-2 0h3m-3 0h3m-2 0h3m-2 0h3m-2 0h3m-3 0h3m-3 0h3m-3 0h3m-1 0h3m-3 0h3m-3 0h3m2 0h3m-3 0h3m-2 0h3m-3 0h3m-2 0h3m-2 0h3m-2 0h3m-3 0h3m-3 0h3m-3 0h3m-2 0h3m-2 0h3m-1 0h3m-3 0h3m-3 0h3m-2 0h3m-3 0h3m-3 0h3m-2 0h3m-3 0h3m-1 0h3m-3 0h3m-2 0h3m-1 0h3m0 0h3m-1 0h3m-3 0h3m-1 0h3m-3 0h3m-2 0h3m-1 0h3m-2 0h3m-2 0h3m1 0h3m-3 0h3m-2 0h3m-3 0h3m0 0h3m-3 0h3m-3 0h3m-2 0h3m1 0h3m-3 0h3m-2 0h3m-3 0h3m-1 0h3m-3 0h3m-3 0h3m-2 0h3m-3 0h3m-1 0h3m-2 0h3m0 0h3m-2 0h3m-1 0h3m0 0h3m-1 0h3m2 0h3m-2 0h3m-1 0h3m1 0h3m-3 0h3m2 0h3m1 0h3m1 0h3m-2 0h3m-102 1h3m-3 0h3m-2 0h3m-3 0h3m-3 0h3m-3 0h3m-2 0h3m-3 0h3m-2 0h3m-3 0h3m-3 0h3m-3 0h3m-3 0h3m-2 0h3m-3 0h3m-2 0h3m-3 0h3m-2 0h3m-3 0h3m-1 0h3m-3 0h3m-3 0h3m-2 0h3m-3 0h3m-3 0h3m-3 0h3m1 0h3m-2 0h3m-3 0h3m-2 0h3m-2 0h3m-3 0h3m-3 0h3m-2 0h3m-2 0h3m-3 0h3m-3 0h3m-2 0h3m-3 0h3m-3 0h3m-2 0h3m-2 0h3m-3 0h3m-2 0h3m-3 0h3m-2 0h3m-1 0h3m-2 0h3m-3 0h3m-3 0h3m-3 0h3m-1 0h3m-3 0h3m-3 0h3m-1 0h3m-3 0h3m-2 0h3m-3 0h3m-3 0h3m-2 0h3m-2 0h3m-3 0h3m-2 0h3m-2 0h3m-2 0h3m-2 0h3m-3 0h3m3 0h3m-3 0h3m-2 0h3m-3 0h3m-2 0h3m-3 0h3m-3 0h3m-2 0h3m-1 0h3m-2 0h3m-3 0h3m-3 0h3m-2 0h3m-3 0h3m-3 0h3m0 0h3m-3 0h3m-2 0h3m-3 0h3m0 0h3m1 0h3m-3 0h3m-2 0h3m-1 0h3m-2 0h3m-2 0h3m0 0h3m-3 0h3m-1 0h3m-2 0h3m-2 0h3m3 0h3m-1 0h3m-2 0h3m-3 0h3m-3 0h3m0 0h3m-2 0h3m1 0h3m-1 0h3m12 0h3m32 0h3m-144 1h3m-2 0h3m-2 0h3m-2 0h3m-3 0h3m-3 0h3m-3 0h3m-3 0h3m-3 0h3m-2 0h3m-3 0h3m-3 0h3m-1 0h3m-3 0h3m-2 0h3m-2 0h3m-2 0h3m-3 0h3m-3 0h3m-2 0h3m-3 0h3m-1 0h3m-3 0h3m-1 0h3m-2 0h3m-3 0h3m-2 0h3m-3 0h3m-2 0h3m-2 0h3m-2 0h3m-3 0h3m-2 0h3m-3 0h3m-2 0h3m-3 0h3m-3 0h3m-2 0h3m-2 0h3m-3 0h3m-3 0h3m-3 0h3m-3 0h3m-1 0h3m-3 0h3m-2 0h3m-2 0h3m-1 0h3m-2 0h3m-3 0h3m-3 0h3m-1 0h3m-3 0h3m-3 0h3m-2 0h3m-3 0h3m-1 0h3m-2 0h3m-2 0h3m-1 0h3m-2 0h3m-3 0h3m-2 0h3m-1 0h3m-3 0h3m-1 0h3m-1 0h3m-2 0h3m-1 0h3m-2 0h3m-2 0h3m-1 0h3m-2 0h3m-3 0h3m1 0h3m-2 0h3m1 0h3m1 0h3m32 0h3m3 0h3m-1 0h3m0 0h3m-2 0h3m17 0h3m-139 1h3m-2 0h3m-1 0h3m-2 0h3m2 0h3m-1 0h3m0 0h3m-3 0h3m3 0h3m-2 0h3m10 0h3m0 0h3m3 0h3m0 0h3m10 0h3m-1 0h3m-3 0h3m-3 0h3m8 0h3m-2 0h3m2 0h3m-1 0h3"/>
<path transform="scale(.5)" stroke="#111" stroke-width="3" d="M189 1450h3m102 3h3m-146 1h3m142 0h3m-122 1h3m128 0h3m9 0h3m52 0h3m-162 1h3m1 0h3m107 0h3m-121 1h3m117 0h3m84 0h3m-265 1h3m23 0h3m67 0h3m31 0h3m11 0h3m49 0h3m-227 1h3m3 0h3m4 0h3m3 0h3m69 0h3m-82 1h3m20 0h3m11 0h3m7 0h3m18 0h3m35 0h3m26 0h3m34 0h3m12 0h3m0 0h3m15 0h3m5 0h3m13 0h3m50 0h3m-291 1h3m-1 0h3m67 0h3m16 0h3m0 0h3m1 0h3m22 0h3m9 0h3m8 0h3m32 0h3m3 0h3m49 0h3m36 0h3m-293 1h3m17 0h3m19 0h3m0 0h3m28 0h3m-2 0h3m-1 0h3m0 0h3m11 0h3m13 0h3m15 0h3m0 0h3m12 0h3m16 0h3m31 0h3m23 0h3m3 0h3m30 0h3m-273 1h3m10 0h3m-1 0h3m1 0h3m14 0h3m9 0h3m0 0h3m1 0h3m1 0h3m-3 0h3m6 0h3m2 0h3m-1 0h3m14 0h3m-1 0h3m4 0h3m21 0h3m-1 0h3m39 0h3m9 0h3m14 0h3m-2 0h3m-1 0h3m20 0h3m-2 0h3m0 0h3m6 0h3m2 0h3m-1 0h3m12 0h3m12 0h3m14 0h3m-3 0h3m-298 1h3m12 0h3m-2 0h3m-1 0h3m0 0h3m10 0h3m5 0h3m-2 0h3m-3 0h3m-1 0h3m2 0h3m21 0h3m5 0h3m11 0h3m13 0h3m-2 0h3m5 0h3m1 0h3m-3 0h3m5 0h3m-1 0h3m0 0h3m7 0h3m-2 0h3m-2 0h3m0 0h3m6 0h3m15 0h3m10 0h3m1 0h3m11 0h3m11 0h3m7 0h3m-3 0h3m1 0h3m30 0h3m-276 1h3m-2 0h3m7 0h3m11 0h3m-1 0h3m-2 0h3m3 0h3m0 0h3m6 0h3m4 0h3m-1 0h3m2 0h3m4 0h3m-1 0h3m-2 0h3m-2 0h3m-2 0h3m32 0h3m-2 0h3m12 0h3m1 0h3m-2 0h3m-2 0h3m3 0h3m4 0h3m7 0h3m-2 0h3m0 0h3m0 0h3m22 0h3m6 0h3m4 0h3m12 0h3m-3 0h3m0 0h3m12 0h3m-1 0h3m10 0h3m0 0h3m3 0h3m7 0h3m-256 1h3m25 0h3m2 0h3m0 0h3m6 0h3m11 0h3m-3 0h3m3 0h3m1 0h3m15 0h3m-1 0h3m1 0h3m3 0h3m11 0h3m-3 0h3m6 0h3m0 0h3m1 0h3m14 0h3m-3 0h3m-2 0h3m-1 0h3m10 0h3m2 0h3m19 0h3m-1 0h3m39 0h3m2 0h3m1 0h3m-2 0h3m3 0h3m16 0h3m-285 1h3m4 0h3m0 0h3m7 0h3m8 0h3m-1 0h3m6 0h3m-2 0h3m3 0h3m0 0h3m-1 0h3m-2 0h3m1 0h3m-2 0h3m-2 0h3m1 0h3m-1 0h3m3 0h3m21 0h3m7 0h3m4 0h3m3 0h3m-1 0h3m1 0h3m-2 0h3m6 0h3m-1 0h3m-2 0h3m3 0h3m-1 0h3m4 0h3m-1 0h3m-2 0h3m11 0h3m1 0h3m12 0h3m3 0h3m3 0h3m10 0h3m3 0h3m2 0h3m0 0h3m0 0h3m-3 0h3m-1 0h3m2 0h3m0 0h3m13 0h3m1 0h3m-3 0h3m5 0h3m7 0h3m-280 1h3m1 0h3m6 0h3m7 0h3m2 0h3m2 0h3m-1 0h3m16 0h3m11 0h3m-1 0h3m2 0h3m-1 0h3m-2 0h3m-3 0h3m5 0h3m-3 0h3m-2 0h3m-1 0h3m3 0h3m3 0h3m5 0h3m-3 0h3m5 0h3m2 0h3m6 0h3m3 0h3m2 0h3m-3 0h3m-2 0h3m4 0h3m8 0h3m1 0h3m5 0h3m2 0h3m-3 0h3m2 0h3m-3 0h3m-1 0h3m-2 0h3m-2 0h3m0 0h3m5 0h3m2 0h3m1 0h3m1 0h3m-1 0h3m12 0h3m16 0h3m2 0h3m5 0h3m8 0h3m-2 0h3m0 0h3m-276 1h3m-1 0h3m-1 0h3m5 0h3m3 0h3m3 0h3m-2 0h3m-1 0h3m2 0h3m-1 0h3m-2 0h3m-3 0h3m3 0h3m21 0h3m-3 0h3m-1 0h3m5 0h3m4 0h3m-3 0h3m1 0h3m5 0h3m4 0h3m-2 0h3m-1 0h3m-2 0h3m5 0h3m-3 0h3m-1 0h3m1 0h3m0 0h3m4 0h3m1 0h3m1 0h3m-2 0h3m-1 0h3m-3 0h3m4 0h3m-3 0h3m5 0h3m-2 0h3m0 0h3m-1 0h3m6 0h3m7 0h3m-1 0h3m4 0h3m0 0h3m-3 0h3m-2 0h3m-1 0h3m-1 0h3m3 0h3m3 0h3m-2 0h3m2 0h3m-2 0h3m-1 0h3m12 0h3m-3 0h3m1 0h3m2 0h3m-1 0h3m5 0h3m0 0h3m-259 1h3m-2 0h3m-3 0h3m2 0h3m-3 0h3m-1 0h3m1 0h3m-1 0h3m1 0h3m16 0h3m-3 0h3m-3 0h3m-2 0h3m-1 0h3m-2 0h3m-2 0h3m-2 0h3m-1 0h3m4 0h3m-2 0h3m-1 0h3m-2 0h3m-2 0h3m2 0h3m0 0h3m-3 0h3m-3 0h3m5 0h3m-3 0h3m0 0h3m0 0h3m3 0h3m2 0h3m2 0h3m2 0h3m0 0h3m-3 0h3m1 0h3m-3 0h3m2 0h3m10 0h3m-1 0h3m-2 0h3m-3 0h3m5 0h3m-2 0h3m-2 0h3m-1 0h3m0 0h3m7 0h3m-1 0h3m-2 0h3m9 0h3m0 0h3m-2 0h3m-1 0h3m0 0h3m-1 0h3m-2 0h3m14 0h3m6 0h3m1 0h3m1 0h3m21 0h3m0 0h3m-2 0h3m-2 0h3m2 0h3m1 0h3m3 0h3m7 0h3m3 0h3m-1 0h3m-1 0h3m-283 1h3m5 0h3m-1 0h3m-3 0h3m-1 0h3m-3 0h3m2 0h3m-3 0h3m0 0h3m-2 0h3m-3 0h3m3 0h3m4 0h3m3 0h3m12 0h3m-2 0h3m-1 0h3m-2 0h3m2 0h3m-3 0h3m1 0h3m0 0h3m-1 0h3m1 0h3m-2 0h3m0 0h3m-2 0h3m-2 0h3m-2 0h3m-2 0h3m-3 0h3m-1 0h3m-1 0h3m-1 0h3m-2 0h3m-2 0h3m-1 0h3m-3 0h3m4 0h3m-1 0h3m2 0h3m4 0h3m-2 0h3m-2 0h3m2 0h3m5 0h3m7 0h3m-1 0h3m1 0h3m5 0h3m-1 0h3m0 0h3m-3 0h3m-2 0h3m-1 0h3m0 0h3m0 0h3m-2 0h3m2 0h3m-2 0h3m-3 0h3m-2 0h3m0 0h3m5 0h3m-1 0h3m1 0h3m1 0h3m3 0h3m8 0h3m-1 0h3m-3 0h3m0 0h3m-3 0h3m-2 0h3m2 0h3m-1 0h3m6 0h3m-3 0h3m7 0h3m-1 0h3m-1 0h3m2 0h3m6 0h3m1 0h3m12 0h3m-287 1h3m-3 0h3m-2 0h3m-3 0h3m0 0h3m2 0h3m-2 0h3m-2 0h3m1 0h3m-2 0h3m0 0h3m-1 0h3m-1 0h3m-3 0h3m0 0h3m-3 0h3m-2 0h3m5 0h3m-2 0h3m3 0h3m0 0h3m-1 0h3m1 0h3m-1 0h3m0 0h3m-2 0h3m7 0h3m-1 0h3m-1 0h3m-2 0h3m3 0h3m-2 0h3m-1 0h3m15 0h3m1 0h3m-1 0h3m-3 0h3m-3 0h3m-3 0h3m3 0h3m2 0h3m0 0h3m-1 0h3m1 0h3m2 0h3m1 0h3m4 0h3m2 0h3m1 0h3m3 0h3m-3 0h3m-1 0h3m3 0h3m1 0h3m-1 0h3m5 0h3m3 0h3m1 0h3m-1 0h3m1 0h3m1 0h3m-2 0h3m2 0h3m-1 0h3m-3 0h3m-2 0h3m20 0h3m-1 0h3m1 0h3m1 0h3m1 0h3m-3 0h3m1 0h3m2 0h3m21 0h3m31 0h3m-309 1h3m0 0h3m-1 0h3m-3 0h3m-2 0h3m-2 0h3m3 0h3m-1 0h3m0 0h3m-1 0h3m-2 0h3m-1 0h3m0 0h3m1 0h3m-2 0h3m2 0h3m-1 0h3m-2 0h3m2 0h3m0 0h3m-2 0h3m-2 0h3m2 0h3m-2 0h3m-3 0h3m-2 0h3m-1 0h3m6 0h3m1 0h3m-2 0h3m-2 0h3m-2 0h3m-2 0h3m-1 0h3m-2 0h3m-2 0h3m-1 0h3m3 0h3m-3 0h3m5 0h3m-1 0h3m-1 0h3m3 0h3m-2 0h3m-1 0h3m8 0h3m1 0h3m0 0h3m0 0h3m-3 0h3m1 0h3m-1 0h3m-1 0h3m2 0h3m0 0h3m-2 0h3m-1 0h3m1 0h3m5 0h3m7 0h3m-1 0h3m0 0h3m-1 0h3m-2 0h3m-1 0h3m7 0h3m-2 0h3m4 0h3m7 0h3m1 0h3m-2 0h3m2 0h3m-3 0h3m-1 0h3m-2 0h3m3 0h3m-2 0h3m0 0h3m1 0h3m-1 0h3m-2 0h3m-3 0h3m12 0h3m2 0h3m-3 0h3m-1 0h3m-1 0h3m47 0h3m-319 1h3m0 0h3m0 0h3m-1 0h3m-2 0h3m-2 0h3m0 0h3m-1 0h3m-1 0h3m2 0h3m-2 0h3m-3 0h3m-2 0h3m2 0h3m1 0h3m-2 0h3m5 0h3m-3 0h3m-2 0h3m0 0h3m2 0h3m0 0h3m-1 0h3m-1 0h3m-2 0h3m9 0h3m-2 0h3m-2 0h3m-3 0h3m-3 0h3m1 0h3m2 0h3m1 0h3m-2 0h3m1 0h3m-1 0h3m-2 0h3m-2 0h3m1 0h3m-2 0h3m-3 0h3m2 0h3m1 0h3m-1 0h3m-3 0h3m-1 0h3m0 0h3m3 0h3m1 0h3m0 0h3m-1 0h3m3 0h3m18 0h3m4 0h3m0 0h3m-2 0h3m-3 0h3m-2 0h3m-1 0h3m-1 0h3m5 0h3m-2 0h3m0 0h3m3 0h3m-3 0h3m2 0h3m-1 0h3m-1 0h3m3 0h3m0 0h3m-2 0h3m-2 0h3m-2 0h3m8 0h3m-1 0h3m2 0h3m-3 0h3m-2 0h3m-1 0h3m4 0h3m0 0h3m-1 0h3m6 0h3m49 0h3m-313 1h3m1 0h3m-3 0h3m-2 0h3m4 0h3m-1 0h3m-2 0h3m0 0h3m8 0h3m-1 0h3m-3 0h3m0 0h3m0 0h3m0 0h3m3 0h3m6 0h3m1 0h3m-2 0h3m-3 0h3m-2 0h3m-2 0h3m-1 0h3m-2 0h3m-2 0h3m-3 0h3m-1 0h3m1 0h3m-3 0h3m-2 0h3m1 0h3m1 0h3m-1 0h3m-3 0h3m0 0h3m2 0h3m0 0h3m2 0h3m-2 0h3m0 0h3m-3 0h3m-1 0h3m3 0h3m2 0h3m-3 0h3m-2 0h3m-1 0h3m-2 0h3m0 0h3m-3 0h3m-2 0h3m-1 0h3m-2 0h3m3 0h3m-2 0h3m-2 0h3m-3 0h3m-1 0h3m0 0h3m-1 0h3m-2 0h3m-2 0h3m1 0h3m1 0h3m-3 0h3m4 0h3m4 0h3m2 0h3m-3 0h3m0 0h3m-3 0h3m5 0h3m1 0h3m-1 0h3m-1 0h3m2 0h3m-1 0h3m2 0h3m1 0h3m-3 0h3m0 0h3m-2 0h3m-1 0h3m-2 0h3m-3 0h3m-1 0h3m-1 0h3m2 0h3m5 0h3m-3 0h3m-3 0h3m2 0h3m0 0h3m5 0h3m1 0h3m-2 0h3m32 0h3m-3 0h3m-284 1h3m24 0h3m4 0h3m7 0h3m5 0h3m13 0h3m15 0h3m3 0h3m-2 0h3m40 0h3m2 0h3m2 0h3m2 0h3m1 0h3m14 0h3m-2 0h3m4 0h3m-2 0h3m18 0h3m-2 0h3m1 0h3m2 0h3m47 0h3"/>
<path transform="scale(.5)" stroke="#777" stroke-width="3" d="M213 1458h3m89 0h3m71 2h3m-152 1h3m-25 2h3m93 0h3m60 0h3m-112 1h3m-38 1h3m84 0h3m-181 1h3m44 0h3m48 0h3m113 0h3m-213 1h3m100 0h3m-82 1h3m31 0h3m4 0h3m28 1h3m83 0h3m52 0h3m-247 1h3m36 0h3m10 0h3m-62 1h3m79 1h3m20 0h3m34 0h3m23 0h3m9 0h3m-118 1h3m38 0h3m15 0h3m30 0h3m19 0h3m-149 1h3m93 0h3m108 0h3m20 1h3m0 0h3m-25 1h3"/>
<path transform="scale(.5)" stroke="#111" stroke-width="2.6" d="M185 1342h3m20 3h3m-60 2h3m23 0h3m17 1h3m36 3h3m9 0h3m-117 4h3m95 1h3m-100 1h3m-6 1h3m2 0h3m5 1h3m-10 3h3m103 1h3m-115 7h3m91 0h3m-28 1h3m42 0h3m-99 1h3m31 0h3m58 0h3m-119 5h3m82 0h3m0 0h3m9 0h3m-78 1h3m79 0h3m-110 2h3m64 0h3m19 1h3m14 0h3m-78 1h3m-1 0h3m11 0h3m-1 0h3m17 1h3m8 0h3m-89 1h3m-2 0h3m8 1h3m-2 1h3m22 0h3m25 0h3m27 0h3m-54 1h3m3 0h3m16 0h3m43 1h3m-70 2h3m40 0h3m0 0h3m-98 1h3m41 0h3m7 1h3m59 1h3m-100 1h3m73 0h3m-84 1h3m8 0h3m23 1h3m57 0h3m3 0h3m-99 1h3m103 0h3m-107 1h3m5 0h3m9 0h3m23 0h3m15 1h3m-37 3h3m-47 2h3m40 0h3m0 0h3m77 0h3m-122 1h3m13 1h3m94 0h3m-45 1h3m-26 1h3m67 0h3m-23 1h3m-100 1h3m24 0h3m43 2h3m-2 0h3m-1 0h3m7 0h3m-47 1h3m-57 1h3m44 0h3m30 0h3m23 0h3m-105 1h3m26 0h3m4 1h3m62 0h3m-117 1h3m92 0h3m-100 1h3m97 0h3m1 0h3m29 1h3m-131 1h3m71 0h3m-53 1h3m-33 1h3m104 0h3m-96 1h3m13 1h3m61 0h3m12 0h3m7 2h3m-71 1h3m25 0h3m-70 1h3m-15 1h3m16 0h3m-7 1h3m43 0h3m18 0h3m53 0h3m-130 1h3m14 0h3m84 0h3m-1 0h3m-61 3h3m42 0h3m-60 1h3m9 0h3m73 0h3m-135 1h3m54 0h3m32 0h3m5 0h3m32 0h3m-52 2h3m12 0h3m-63 1h3m19 0h3m-51 2h3m33 0h3m24 0h3m38 0h3m7 1h3m-123 1h3m2 0h3m-1 0h3m52 1h3m-47 1h3m11 0h3m76 0h3m4 0h3m-40 1h3m37 0h3m-88 1h3m-4 1h3m-34 1h3m42 0h3m49 0h3m-66 2h3m-46 1h3m70 0h3m9 0h3m-33 1h3m-36 1h3m100 0h3m2 0h3m-140 1h3m79 0h3m6 0h3m25 0h3m3 0h3m-130 2h3m47 0h3m-41 1h3m26 0h3m96 0h3m-127 1h3m18 0h3m75 1h3m-107 1h3m36 0h3m-11 1h3m26 0h3m18 0h3m-72 1h3m98 0h3m-8 1h3m-50 1h3m16 0h3m2 0h3m-1 1h3m22 0h3m5 1h3m-121 1h3m44 0h3m17 0h3m-82 1h3m5 0h3m28 1h3m30 1h3m-56 1h3m4 0h3m75 0h3m6 0h3m9 1h3m1 0h3m-130 1h3m11 0h3m34 0h3m46 0h3m-68 1h3m-1 0h3m6 0h3m36 0h3m15 0h3m31 0h3m-130 1h3"/>
<path transform="scale(.5)" stroke="#777" stroke-width="2.6" d="M206 1343h3m2 0h3m8 0h3m-80 3h3m8 3h3m94 1h3m-60 1h3m24 0h3m-36 3h3m-24 2h3m25 8h3m-80 5h3m69 1h3m21 1h3m-77 1h3m43 0h3m-54 1h3m-14 4h3m88 0h3m-1 0h3m-46 2h3m74 1h3m-30 1h3m-25 2h3m-36 1h3m-8 3h3m47 5h3m-39 1h3m44 1h3m-105 1h3m11 0h3m89 3h3m-76 1h3m-4 1h3m67 0h3m-102 2h3m-2 1h3m58 0h3m-70 1h3m10 1h3m93 1h3m14 3h3m-125 2h3m37 0h3m-36 1h3m9 2h3m65 0h3m18 3h3m2 0h3m-75 2h3m54 2h3m-73 4h3m68 0h3m-57 2h3m-44 2h3m90 0h3m-91 2h3m-11 2h3m9 0h3m-11 1h3m-6 4h3m83 0h3m-46 1h3m80 0h3m-1 0h3m-24 4h3m14 1h3m0 3h3m-86 1h3m74 2h3m-54 2h3m-72 1h3m-6 1h3m31 0h3m42 0h3m12 0h3m-3 0h3m-86 1h3m42 0h3m26 0h3m-41 1h3m-19 1h3m-16 1h3m19 0h3m-12 2h3m45 1h3m-77 1h3m38 0h3m73 0h3m-97 1h3m83 0h3m8 0h3m-61 2h3m-6 1h3m0 0h3m58 0h3m-102 1h3m54 0h3m22 0h3m9 0h3m-102 2h3m63 0h3m24 0h3m-114 1h3m49 1h3m-56 3h3m-19 1h3m51 0h3m32 0h3m18 0h3m-91 1h3"/>
<path transform="scale(.5)" stroke="#111" stroke-width="2.6" d="M330 1338h3m-37 1h3m18 1h3m4 0h3m56 0h3m-60 1h3m15 0h3m-24 4h3m23 0h3m64 0h3m-95 1h3m48 1h3m18 0h3m17 0h3m-91 1h3m-57 1h3m144 0h3m2 0h3m-140 1h3m-2 0h3m-7 1h3m16 0h3m52 1h3m68 0h3m-95 1h3m42 1h3m-62 1h3m-1 0h3m123 0h3m-149 1h3m203 0h3m-226 1h3m16 0h3m40 0h3m24 0h3m-47 1h3m165 0h3m-222 1h3m125 0h3m-129 1h3m5 0h3m20 0h3m13 0h3m129 0h3m-198 2h3m33 0h3m24 0h3m1 1h3m24 0h3m-90 1h3m114 0h3m-72 1h3m11 0h3m69 0h3m-144 1h3m14 0h3m59 0h3m-64 1h3m49 0h3m112 0h3m-192 1h3m30 0h3m53 0h3m28 0h3m-77 1h3m4 0h3m25 0h3m-65 1h3m13 0h3m121 0h3m-136 1h3m38 0h3m12 0h3m-6 1h3m-2 1h3m1 0h3m-24 1h3m-50 2h3m51 0h3m47 0h3m-120 2h3m67 0h3m22 0h3m12 0h3m38 0h3m-141 1h3m5 0h3m61 0h3m-4 1h3m-17 1h3m58 0h3m42 0h3m-183 1h3m19 1h3m31 0h3m36 0h3m-97 1h3m14 0h3m70 0h3m-45 1h3m16 0h3m-42 2h3m10 0h3m30 0h3m-10 1h3m1 0h3m-55 1h3m63 0h3m-89 1h3m113 0h3m12 0h3m4 0h3m-119 1h3m24 0h3m44 0h3m0 0h3m14 0h3m-113 1h3m21 0h3m47 0h3m17 0h3m43 0h3m67 0h3m-167 1h3m15 0h3m-52 1h3m4 0h3m62 0h3m-25 1h3m85 0h3m-150 1h3m39 0h3m16 0h3m6 0h3m-2 0h3m94 0h3m-43 1h3m-70 1h3m13 0h3m9 0h3m-3 1h3m-79 1h3m-24 1h3m9 0h3m90 1h3m-95 1h3m20 0h3m50 0h3m153 0h3m-253 1h3m17 0h3m8 0h3m8 0h3m-28 1h3m26 0h3m-1 0h3m18 0h3m38 0h3m16 0h3m-14 1h3m11 0h3m-135 1h3m44 0h3m-23 1h3m113 0h3m6 0h3m-1 0h3m30 0h3m-183 1h3m47 0h3m16 0h3m36 0h3m6 0h3m-67 1h3m-2 0h3m29 0h3m-74 1h3m13 0h3m18 0h3m92 0h3m-15 1h3m-142 1h3m17 0h3m209 0h3m-203 1h3m66 0h3m39 0h3m-121 1h3m30 0h3m47 0h3m28 0h3m-85 1h3m34 0h3m36 0h3m-77 1h3m114 0h3m-111 1h3m-1 0h3m-65 1h3m9 0h3m88 0h3m27 0h3m-69 1h3m-3 0h3m37 0h3m-58 1h3m0 0h3m72 0h3m-27 1h3m-113 1h3m41 0h3m13 0h3m4 0h3m13 0h3m44 0h3m58 0h3m-94 1h3m25 0h3m-2 0h3m-116 1h3m17 0h3m47 0h3m2 0h3m-69 1h3m132 0h3m37 0h3m-107 1h3m29 0h3m49 0h3m-128 1h3m34 0h3m-106 1h3m6 0h3m129 0h3m-101 1h3m2 0h3m7 0h3m36 0h3m39 0h3m97 0h3m-203 1h3m-2 0h3m9 0h3m15 1h3m87 0h3m-123 1h3m71 0h3m24 0h3m31 0h3m12 0h3m2 1h3m-134 2h3m44 0h3m-33 1h3m0 0h3m36 0h3m-101 1h3m1 0h3m40 0h3m21 0h3m-1 0h3m-51 1h3m25 0h3m-60 1h3m30 0h3m-3 0h3m10 0h3m52 0h3m56 0h3m-86 1h3m-75 1h3m36 0h3m38 0h3m-84 1h3m6 0h3m70 0h3m19 0h3m-77 1h3m11 0h3m-38 1h3m6 0h3m146 0h3m-181 1h3m3 0h3m32 1h3m47 0h3m-64 1h3m-1 0h3m34 0h3m45 0h3m-29 1h3m-31 1h3m15 0h3m-3 0h3m48 0h3m-71 1h3m-46 1h3m-26 1h3m-8 1h3m15 0h3m6 1h3m-13 1h3m50 0h3m1 1h3m38 1h3m-12 1h3m-17 2h3m31 0h3m23 0h3m-78 1h3m21 0h3m10 0h3m-74 2h3m13 0h3m112 1h3m-94 2h3m50 0h3m-109 1h3m12 2h3m8 1h3m-24 2h3m-2 2h3m47 0h3"/>
<path transform="scale(.5)" stroke="#777" stroke-width="2.6" d="M275 1341h3m66 2h3m16 1h3m-3 3h3m25 0h3m-119 5h3m69 4h3m-39 2h3m0 1h3m87 0h3m-41 3h3m-3 0h3m17 0h3m-17 1h3m-90 5h3m123 0h3m-74 2h3m39 1h3m-12 1h3m66 1h3m58 0h3m-97 1h3m-143 1h3m19 0h3m12 0h3m114 1h3m-127 1h3m17 1h3m-16 1h3m34 0h3m33 0h3m22 1h3m69 0h3m-192 3h3m74 0h3m37 0h3m-98 3h3m-17 2h3m128 0h3m-118 1h3m53 3h3m63 0h3m45 0h3m-142 1h3m4 0h3m4 0h3m-21 1h3m4 0h3m-49 2h3m-34 1h3m73 0h3m114 0h3m-39 2h3m0 1h3m-166 1h3m143 1h3m-129 1h3m62 0h3m12 0h3m-100 2h3m74 1h3m-35 2h3m18 0h3m-2 0h3m14 0h3m52 0h3m-26 1h3m9 0h3m-16 1h3m-118 1h3m60 0h3m85 0h3m-145 1h3m0 0h3m25 0h3m41 2h3m15 0h3m-35 2h3m-15 2h3m10 0h3m49 0h3m-111 1h3m19 0h3m19 0h3m17 1h3m2 0h3m9 0h3m-16 1h3m-74 1h3m44 1h3m22 0h3m51 0h3m-146 1h3m11 0h3m98 0h3m77 0h3m-172 1h3m34 0h3m-27 1h3m-21 1h3m169 0h3m-166 1h3m52 0h3m-7 1h3m43 0h3m-109 1h3m20 0h3m-49 3h3m-1 1h3m70 0h3m-61 1h3m51 2h3m71 0h3m-62 1h3m-67 1h3m71 0h3m66 0h3m-165 1h3m9 0h3m8 0h3m79 0h3m66 0h3m-66 1h3m-76 1h3m8 0h3m23 0h3m-4 1h3m-33 1h3m62 1h3m20 0h3m-112 3h3m15 0h3m14 0h3m129 0h3m-89 3h3m62 0h3m-51 2h3m66 0h3m-141 1h3m72 0h3m-76 1h3m139 0h3m-156 2h3m76 1h3m7 0h3m-22 1h3m51 0h3m-49 1h3m76 3h3m-177 2h3m5 0h3m-11 5h3m13 2h3m30 1h3m-1 0h3m76 0h3m-117 2h3"/>
<path transform="scale(.5)" stroke="#111" stroke-width="2.6" d="M397 1338h3m-10 1h3m54 0h3m-96 1h3m-49 1h3m6 0h3m51 0h3m5 0h3m-69 1h3m15 0h3m55 0h3m69 0h3m-117 1h3m-38 2h3m127 0h3m23 0h3m-157 1h3m43 0h3m49 0h3m-125 1h3m58 0h3m19 0h3m48 1h3m41 1h3m-38 1h3m-126 1h3m30 0h3m126 0h3m-12 1h3m-135 1h3m2 0h3m53 0h3m45 0h3m27 0h3m-187 2h3m106 0h3m-50 1h3m52 0h3m18 0h3m0 0h3m57 0h3m-228 1h3m70 0h3m76 0h3m-54 1h3m2 0h3m8 0h3m25 0h3m52 0h3m-99 1h3m-100 1h3m68 0h3m46 1h3m-1 0h3m-57 1h3m1 0h3m21 1h3m61 0h3m-120 1h3m121 0h3m-88 1h3m29 0h3m-113 1h3m110 1h3m34 2h3m-147 1h3m59 0h3m21 0h3m-77 1h3m10 0h3m-22 1h3m22 0h3m167 1h3m-204 2h3m-3 2h3m10 0h3m2 0h3m82 0h3m-101 1h3m174 0h3m-85 1h3m35 0h3m28 0h3m2 0h3m-103 1h3m2 0h3m-80 1h3m19 0h3m114 1h3m21 0h3m8 0h3m-84 1h3m-51 1h3m27 0h3m31 0h3m-41 1h3m71 1h3m16 1h3m-142 2h3m157 1h3m-170 1h3m28 0h3m35 0h3m42 0h3m54 1h3m-136 3h3m-70 1h3m65 0h3m-53 1h3m27 1h3m0 0h3m41 1h3m45 0h3m40 0h3m-66 1h3m-24 1h3m63 0h3m-17 1h3m-44 1h3m54 1h3m20 0h3m-38 2h3m-151 1h3m0 0h3m60 0h3m13 0h3m-52 2h3m24 1h3m-5 2h3m23 0h3m91 0h3m-201 1h3m13 0h3m-8 1h3m94 0h3m45 0h3m-120 1h3m3 0h3m106 0h3m-68 1h3m64 0h3m28 0h3m-145 1h3m41 0h3m-63 1h3m21 1h3m146 0h3m-122 1h3m21 0h3m4 1h3m16 0h3m62 0h3m-61 1h3m59 0h3m-137 1h3m61 0h3m24 0h3m-161 1h3m41 0h3m126 0h3m-109 1h3m18 0h3m-2 0h3m6 0h3m-1 0h3m48 1h3m-133 1h3m8 0h3m3 0h3m63 1h3m58 0h3m-154 1h3m78 0h3m-79 1h3m161 0h3m17 0h3m-163 1h3m97 1h3m39 0h3m-144 1h3m112 0h3m-51 1h3m28 0h3m56 0h3m-199 1h3m42 0h3m-23 1h3m83 0h3m48 0h3m27 1h3m-122 1h3m110 1h3m7 1h3m-155 1h3m53 0h3m93 2h3m-3 0h3m-168 1h3m68 0h3m38 0h3m10 0h3m-138 2h3m1 0h3m69 0h3m63 0h3m-62 1h3m86 0h3m-41 1h3m-129 1h3m24 0h3m56 0h3m69 0h3m17 2h3m-103 1h3m36 0h3m72 0h3m-84 1h3m3 0h3m-110 1h3m-45 1h3m211 1h3m-172 1h3m154 0h3m-118 1h3m31 0h3m-79 1h3m26 0h3m9 0h3m45 0h3m-60 1h3m-42 1h3m71 0h3m95 1h3m-206 1h3m68 0h3m89 1h3m39 0h3m-116 1h3m-81 1h3m43 0h3m87 1h3m-66 1h3m54 0h3m-117 1h3m52 0h3m18 1h3m-79 1h3m42 1h3m76 0h3m-36 1h3m41 0h3m41 0h3m-218 1h3m147 0h3m-33 1h3m1 0h3"/>
<path transform="scale(.5)" stroke="#777" stroke-width="2.6" d="M291 1339h3m153 1h3m-104 2h3m-1 0h3m-65 1h3m81 0h3m-58 3h3m79 0h3m64 2h3m-2 0h3m-164 5h3m173 4h3m-150 1h3m132 1h3m1 0h3m-84 1h3m50 0h3m6 1h3m-151 3h3m163 1h3m-213 1h3m124 0h3m-13 2h3m80 3h3m-176 1h3m39 0h3m-58 1h3m37 0h3m-35 2h3m0 0h3m170 0h3m-181 3h3m58 0h3m53 2h3m-136 1h3m142 2h3m61 1h3m-192 1h3m46 1h3m79 0h3m31 1h3m-20 1h3m-72 2h3m-73 1h3m12 0h3m-49 1h3m24 1h3m33 0h3m-60 1h3m67 2h3m110 0h3m-88 1h3m2 1h3m103 0h3m-184 1h3m33 0h3m-65 1h3m201 0h3m-71 2h3m23 3h3m15 1h3m-85 1h3m21 0h3m-56 4h3m-64 1h3m163 1h3m-138 3h3m25 1h3m48 0h3m-93 1h3m70 2h3m21 0h3m-94 1h3m49 1h3m64 0h3m-59 5h3m-47 1h3m48 2h3m-25 4h3m118 0h3m-173 1h3m-46 1h3m77 0h3m37 0h3m48 0h3m-95 2h3m36 0h3m71 1h3m-50 1h3m25 2h3m26 0h3m0 0h3m-113 2h3m5 0h3m57 1h3m-100 1h3m9 1h3m-63 1h3m173 0h3m1 0h3m-194 2h3m165 1h3m-134 1h3m34 0h3m-10 3h3m30 0h3m-25 1h3m111 1h3m-137 2h3m77 1h3m-119 1h3m74 1h3m-98 1h3m18 0h3m146 0h3m-107 1h3m-33 1h3m45 1h3m128 3h3m-195 1h3m172 0h3m-187 1h3m26 0h3m77 5h3"/>
<path transform="scale(.5)" stroke="#111" stroke-width="3" d="M727 1354h3m-64 11h3m-37 7h3m55 0h3m11 5h3m-7 1h3m5 0h3m21 0h3m-57 1h3m26 4h3m-73 3h3m50 0h3m-20 1h3m32 0h3m-56 1h3m34 0h3m-21 1h3m1 1h3m30 0h3m-72 1h3m41 0h3m3 1h3m10 1h3m-80 1h3m74 1h3m15 0h3m18 0h3m-64 1h3m-15 1h3m39 0h3m4 0h3m-72 1h3m43 0h3m13 0h3m-40 1h3m2 0h3m9 0h3m3 0h3m-14 1h3m-57 1h3m10 0h3m47 0h3m3 0h3m7 0h3m-11 1h3m-59 1h3m42 0h3m4 0h3m-27 1h3m28 0h3m18 0h3m-3 0h3m-96 1h3m0 0h3m5 0h3m31 0h3m8 0h3m-43 1h3m10 0h3m40 0h3m-1 0h3m-2 0h3m-2 0h3m-57 1h3m13 0h3m0 0h3m7 0h3m5 0h3m21 0h3m27 0h3m-108 1h3m29 0h3m7 0h3m5 0h3m23 0h3m38 0h3m-129 1h3m25 0h3m36 0h3m6 0h3m-86 1h3m5 0h3m27 0h3m29 0h3m13 0h3m23 0h3m-87 1h3m38 0h3m0 0h3m5 0h3m-40 1h3m12 0h3m47 0h3m12 0h3m-88 1h3m13 0h3m10 0h3m14 0h3m10 0h3m18 0h3m-116 1h3m5 0h3m16 0h3m-2 0h3m2 0h3m13 0h3m6 0h3m1 0h3m10 0h3m6 0h3m-69 1h3m7 0h3m7 0h3m2 0h3m14 0h3m2 0h3m2 0h3m-1 0h3m6 0h3m5 0h3m-1 0h3m-1 0h3m-1 0h3m-102 1h3m2 0h3m11 0h3m0 0h3m38 0h3m5 0h3m0 0h3m1 0h3m32 0h3m3 0h3m-90 1h3m-1 0h3m18 0h3m-2 0h3m-2 0h3m17 0h3m0 0h3m-1 0h3m-2 0h3m-1 0h3m25 0h3m-1 0h3m-82 1h3m1 0h3m-1 0h3m13 0h3m-2 0h3m1 0h3m0 0h3m38 0h3m-106 1h3m5 0h3m17 0h3m1 0h3m-2 0h3m8 0h3m5 0h3m-1 0h3m8 0h3m-2 0h3m4 0h3m-2 0h3m1 0h3m-2 0h3m27 0h3m-1 0h3m2 0h3m12 0h3m-129 1h3m11 0h3m0 0h3m4 0h3m0 0h3m4 0h3m3 0h3m10 0h3m-1 0h3m8 0h3m-1 0h3m5 0h3m24 0h3m22 0h3m-128 1h3m6 0h3m15 0h3m8 0h3m2 0h3m0 0h3m12 0h3m1 0h3m-2 0h3m8 0h3m2 0h3m-1 0h3m-91 1h3m11 0h3m1 0h3m-1 0h3m-3 0h3m0 0h3m14 0h3m9 0h3m16 0h3m3 0h3m-1 0h3m8 0h3m2 0h3m-1 0h3m18 0h3m-127 1h3m16 0h3m5 0h3m3 0h3m11 0h3m-1 0h3m1 0h3m0 0h3m-1 0h3m-2 0h3m3 0h3m-2 0h3m-2 0h3m-2 0h3m7 0h3m1 0h3m-2 0h3m3 0h3m35 0h3m-110 1h3m4 0h3m-3 0h3m4 0h3m37 0h3m2 0h3m-2 0h3m-88 1h3m29 0h3m8 0h3m1 0h3m0 0h3m2 0h3m4 0h3m10 0h3m17 0h3m30 0h3m15 0h3m-126 1h3m4 0h3m-2 0h3m17 0h3m2 0h3m7 0h3m0 0h3m7 0h3m-83 1h3m7 0h3m9 0h3m0 0h3m-1 0h3m2 0h3m-1 0h3m3 0h3m2 0h3m7 0h3m-1 0h3m22 0h3m3 0h3m-2 0h3m-2 0h3m-2 0h3m13 0h3m22 0h3m-95 1h3m-1 0h3m20 0h3m2 0h3m0 0h3m8 0h3m11 0h3m12 0h3m26 0h3m-122 1h3m6 0h3m9 0h3m4 0h3m13 0h3m-1 0h3m44 0h3m-100 1h3m-1 0h3m3 0h3m4 0h3m21 0h3m-1 0h3m8 0h3m-2 0h3m6 0h3m-2 0h3m7 0h3m-1 0h3m14 0h3m19 0h3m-123 1h3m8 0h3m28 0h3m4 0h3m-1 0h3m12 0h3m-2 0h3m-2 0h3m1 0h3m1 0h3m5 0h3m-2 0h3m42 0h3m-123 1h3m5 0h3m0 0h3m11 0h3m0 0h3m1 0h3m10 0h3m3 0h3m-2 0h3m2 0h3m2 0h3m8 0h3m5 0h3m0 0h3m-1 0h3m8 0h3m-116 1h3m2 0h3m28 0h3m-2 0h3m-2 0h3m0 0h3m6 0h3m-1 0h3m-1 0h3m0 0h3m3 0h3m-3 0h3m3 0h3m0 0h3m11 0h3m-2 0h3m0 0h3m-2 0h3m-2 0h3m4 0h3m4 0h3m-103 1h3m15 0h3m5 0h3m2 0h3m-3 0h3m-2 0h3m17 0h3m-2 0h3m-1 0h3m3 0h3m1 0h3m10 0h3m0 0h3m2 0h3m-99 1h3m11 0h3m-1 0h3m-2 0h3m1 0h3m10 0h3m6 0h3m3 0h3m-2 0h3m-3 0h3m1 0h3m3 0h3m2 0h3m-2 0h3m6 0h3m20 0h3m-80 1h3m8 0h3m-1 0h3m4 0h3m15 0h3m-1 0h3m5 0h3m-2 0h3m20 0h3m1 0h3m0 0h3m6 0h3m13 0h3m-114 1h3m-2 0h3m16 0h3m-2 0h3m1 0h3m5 0h3m-3 0h3m12 0h3m-1 0h3m1 0h3m0 0h3m7 0h3m-2 0h3m-2 0h3m23 0h3m2 0h3m-3 0h3m0 0h3m21 0h3m-136 1h3m4 0h3m3 0h3m0 0h3m9 0h3m0 0h3m2 0h3m0 0h3m1 0h3m-2 0h3m0 0h3m1 0h3m8 0h3m3 0h3m-2 0h3m22 0h3m-96 1h3m7 0h3m-1 0h3m-1 0h3m4 0h3m8 0h3m1 0h3m-2 0h3m0 0h3m-2 0h3m-2 0h3m3 0h3m-2 0h3m-2 0h3m-3 0h3m5 0h3m2 0h3m0 0h3m-3 0h3m3 0h3m-3 0h3m0 0h3m-1 0h3m2 0h3m-2 0h3m-1 0h3m-2 0h3m-3 0h3m-92 1h3m24 0h3m-3 0h3m-2 0h3m1 0h3m1 0h3m2 0h3m1 0h3m-3 0h3m-2 0h3m2 0h3m3 0h3m3 0h3m9 0h3m14 0h3m3 0h3m6 0h3m18 0h3m-131 1h3m16 0h3m7 0h3m8 0h3m0 0h3m1 0h3m5 0h3m0 0h3m0 0h3m4 0h3m1 0h3m1 0h3m-2 0h3m16 0h3m6 0h3m-1 0h3m45 0h3m-161 1h3m0 0h3m6 0h3m8 0h3m1 0h3m-2 0h3m1 0h3m12 0h3m8 0h3m0 0h3m1 0h3m1 0h3m-2 0h3m0 0h3m5 0h3m-1 0h3m0 0h3m8 0h3m13 0h3m-2 0h3m19 0h3m-134 1h3m0 0h3m14 0h3m5 0h3m11 0h3m5 0h3m2 0h3m11 0h3m-2 0h3m-3 0h3m-2 0h3m3 0h3m-3 0h3m8 0h3m7 0h3m39 0h3m-147 1h3m12 0h3m13 0h3m0 0h3m-1 0h3m1 0h3m-1 0h3m1 0h3m-1 0h3m2 0h3m16 0h3m-2 0h3m0 0h3m9 0h3m2 0h3m-3 0h3m1 0h3m19 0h3m-116 1h3m19 0h3m-2 0h3m2 0h3m4 0h3m0 0h3m16 0h3m4 0h3m-2 0h3m8 0h3m-2 0h3m-2 0h3m-91 1h3m7 0h3m8 0h3m1 0h3m11 0h3m-1 0h3m-3 0h3m5 0h3m8 0h3m13 0h3m0 0h3m22 0h3m-109 1h3m27 0h3m-3 0h3m2 0h3m7 0h3m0 0h3m-1 0h3m12 0h3m-3 0h3m3 0h3m8 0h3m8 0h3m6 0h3m-2 0h3m3 0h3m6 0h3m12 0h3m-126 1h3m7 0h3m7 0h3m-3 0h3m0 0h3m-3 0h3m1 0h3m2 0h3m7 0h3m-2 0h3m-2 0h3m-2 0h3m10 0h3m4 0h3m-3 0h3m-1 0h3m11 0h3m34 0h3m-113 1h3m1 0h3m5 0h3m6 0h3m-3 0h3m4 0h3m0 0h3m7 0h3m-2 0h3m0 0h3m4 0h3m-3 0h3m3 0h3m-1 0h3m0 0h3m9 0h3m-2 0h3m4 0h3m0 0h3m65 0h3m-163 1h3m5 0h3m10 0h3m0 0h3m-1 0h3m4 0h3m-2 0h3m-2 0h3m-1 0h3m-1 0h3m5 0h3m3 0h3m2 0h3m-2 0h3m-3 0h3m-2 0h3m-1 0h3m-1 0h3m-3 0h3m2 0h3m0 0h3m36 0h3m23 0h3m-140 1h3m0 0h3m-3 0h3m11 0h3m5 0h3m-1 0h3m1 0h3m2 0h3m7 0h3m14 0h3m0 0h3m3 0h3m8 0h3m0 0h3m8 0h3m16 0h3m2 0h3m-114 1h3m1 0h3m10 0h3m-3 0h3m2 0h3m2 0h3m-2 0h3m-3 0h3m0 0h3m4 0h3m0 0h3m0 0h3m17 0h3m-3 0h3m7 0h3m-1 0h3m27 0h3m10 0h3m-142 1h3m0 0h3m1 0h3m29 0h3m-1 0h3m4 0h3m-2 0h3m0 0h3m0 0h3m0 0h3m0 0h3m-2 0h3m4 0h3m8 0h3m-71 1h3m4 0h3m19 0h3m-2 0h3m-2 0h3m14 0h3m-2 0h3m6 0h3m4 0h3m2 0h3m-3 0h3m-3 0h3m3 0h3m4 0h3m13 0h3m1 0h3m-116 1h3m12 0h3m33 0h3m1 0h3m-3 0h3m-1 0h3m6 0h3m-2 0h3m9 0h3m-2 0h3m17 0h3m2 0h3m7 0h3m13 0h3m-136 1h3m-2 0h3m14 0h3m2 0h3m0 0h3m9 0h3m0 0h3m1 0h3m-1 0h3m5 0h3m3 0h3m0 0h3m8 0h3m6 0h3m-1 0h3m13 0h3m1 0h3m12 0h3m2 0h3m18 0h3m-150 1h3m1 0h3m8 0h3m6 0h3m-1 0h3m13 0h3m6 0h3m4 0h3m-3 0h3m6 0h3m1 0h3m4 0h3m13 0h3m9 0h3m4 0h3m-3 0h3m3 0h3m-109 1h3m1 0h3m-1 0h3m4 0h3m0 0h3m-1 0h3m0 0h3m-2 0h3m-3 0h3m6 0h3m9 0h3m1 0h3m-3 0h3m4 0h3m0 0h3m-3 0h3m-1 0h3m1 0h3m0 0h3m14 0h3m3 0h3m9 0h3m-117 1h3m-2 0h3m11 0h3m-2 0h3m2 0h3m2 0h3m6 0h3m4 0h3m-3 0h3m5 0h3m1 0h3m1 0h3m2 0h3m14 0h3m-1 0h3m2 0h3m-3 0h3m-3 0h3m2 0h3m7 0h3m12 0h3m13 0h3m-104 1h3m-1 0h3m1 0h3m9 0h3m8 0h3m2 0h3m0 0h3m-2 0h3m-1 0h3m9 0h3m-3 0h3m16 0h3m39 0h3m-141 1h3m22 0h3m-1 0h3m3 0h3m1 0h3m13 0h3m2 0h3m3 0h3m-3 0h3m0 0h3m3 0h3m-2 0h3m2 0h3m0 0h3m0 0h3m30 0h3m8 0h3m-124 1h3m3 0h3m9 0h3m6 0h3m-1 0h3m4 0h3m-2 0h3m-1 0h3m-3 0h3m3 0h3m4 0h3m3 0h3m-1 0h3m2 0h3m-80 1h3m-2 0h3m-1 0h3m15 0h3m-1 0h3m3 0h3m-1 0h3m8 0h3m1 0h3m2 0h3m1 0h3m4 0h3m11 0h3m1 0h3m1 0h3m12 0h3m12 0h3m13 0h3m-131 1h3m12 0h3m15 0h3m2 0h3m18 0h3m-2 0h3m-2 0h3m3 0h3m-1 0h3m-3 0h3m-1 0h3m1 0h3m-3 0h3m3 0h3m-2 0h3m1 0h3m4 0h3m9 0h3m-106 1h3m18 0h3m1 0h3m21 0h3m21 0h3m-3 0h3m14 0h3m27 0h3m-123 1h3m6 0h3m-3 0h3m0 0h3m4 0h3m18 0h3m1 0h3m6 0h3m4 0h3m11 0h3m1 0h3m5 0h3m3 0h3m9 0h3m16 0h3m-130 1h3m20 0h3m5 0h3m0 0h3m-2 0h3m-2 0h3m7 0h3m-1 0h3m3 0h3m11 0h3m11 0h3m-1 0h3m5 0h3m6 0h3m-83 1h3m1 0h3m23 0h3m9 0h3m1 0h3m1 0h3m2 0h3m4 0h3m0 0h3m-2 0h3m10 0h3m9 0h3m-1 0h3m-96 1h3m-1 0h3m7 0h3m-2 0h3m13 0h3m1 0h3m6 0h3m-1 0h3m-2 0h3m-2 0h3m2 0h3m-1 0h3m-2 0h3m8 0h3m0 0h3m-3 0h3m6 0h3m18 0h3m4 0h3m-136 1h3m13 0h3m9 0h3m9 0h3m3 0h3m7 0h3m20 0h3m4 0h3m8 0h3m3 0h3m6 0h3m-101 1h3m33 0h3m5 0h3m-1 0h3m-3 0h3m-2 0h3m0 0h3m3 0h3m7 0h3m-2 0h3m14 0h3m5 0h3m2 0h3m18 0h3m29 0h3m-150 1h3m-1 0h3m14 0h3m6 0h3m1 0h3m2 0h3m-1 0h3m-1 0h3m9 0h3m16 0h3m0 0h3m-3 0h3m-2 0h3m2 0h3m-2 0h3m10 0h3m-111 1h3m3 0h3m20 0h3m0 0h3m2 0h3m0 0h3m0 0h3m10 0h3m-1 0h3m6 0h3m10 0h3m-76 1h3m14 0h3m2 0h3m18 0h3m-3 0h3m0 0h3m2 0h3m3 0h3m11 0h3m23 0h3m10 0h3m-118 1h3m4 0h3m7 0h3m2 0h3m2 0h3m12 0h3m16 0h3m-1 0h3m-1 0h3m1 0h3m10 0h3"/>
<path transform="scale(.5)" stroke="#777" stroke-width="3" d="M724 1381h3m4 0h3m-21 15h3m18 2h3m-79 3h3m33 2h3m-21 2h3m22 1h3m-40 2h3m16 1h3m-21 1h3m21 0h3m18 1h3m-62 2h3m14 4h3m-6 4h3m51 0h3m-48 1h3m4 1h3m-13 1h3m-25 2h3m28 0h3m-4 1h3m16 0h3m31 0h3m-96 2h3m62 1h3m25 0h3m-63 1h3m31 0h3m-76 1h3m46 0h3m46 0h3m-93 2h3m37 0h3m15 1h3m9 0h3m-17 1h3m6 1h3m17 0h3m-29 1h3m1 0h3m-62 1h3m54 0h3m-53 2h3m13 0h3m52 0h3m-88 1h3m4 0h3m-10 1h3m71 0h3m-38 2h3m-33 1h3m26 0h3m18 0h3m1 1h3m54 0h3m-63 1h3m0 0h3m-38 1h3m-1 0h3m56 0h3m-44 1h3m6 1h3m0 0h3m4 0h3m51 0h3m-83 1h3m-13 1h3m6 0h3m2 0h3m-2 0h3m28 0h3m-3 0h3m-87 1h3m47 0h3m34 0h3m-38 1h3m-14 1h3m14 0h3m22 0h3m-67 1h3m25 0h3m1 1h3m0 0h3m16 0h3m-31 1h3m-15 1h3m18 0h3m13 0h3m-31 1h3m-35 2h3m23 0h3m32 0h3m-15 1h3m17 0h3m-39 2h3m73 0h3m-61 1h3m18 0h3m-70 1h3m28 0h3m3 1h3m-36 1h3m18 0h3m29 0h3m13 0h3m-79 2h3m66 0h3m-66 2h3m44 0h3m2 0h3m12 1h3"/>
<path transform="scale(.5)" stroke="#111" stroke-width="2.8" d="M720 1339h3m33 3h3m-45 1h3m3 0h3m17 0h3m-11 1h3m-13 1h3m-2 0h3m5 0h3m-1 2h3m11 0h3m-39 2h3m7 1h3m3 0h3m-25 1h3m20 0h3m11 0h3m-9 2h3m-38 1h3m23 0h3m38 1h3m-39 1h3m5 0h3m7 0h3m-6 1h3m-47 1h3m-22 1h3m16 0h3m28 0h3m-64 1h3m35 0h3m11 0h3m17 0h3m-50 1h3m37 0h3m-29 1h3m19 0h3m-26 1h3m43 0h3m-41 1h3m1 0h3m12 0h3m-34 2h3m46 0h3m-29 1h3m-6 1h3m-23 1h3m6 0h3m2 0h3m-1 0h3m1 0h3m-25 1h3m64 0h3m-77 1h3m3 1h3m54 0h3m-52 2h3m-49 1h3m32 0h3m16 0h3m2 0h3m-45 1h3m-1 0h3m33 0h3m11 0h3m-21 1h3m-3 0h3m-2 0h3m-2 0h3m-12 1h3m21 0h3m0 0h3m-24 2h3m-35 1h3m8 0h3m26 0h3m8 0h3m-60 1h3m55 0h3m0 0h3m7 0h3m-47 1h3m-2 0h3m17 0h3m6 0h3m-41 1h3m29 0h3m-34 1h3m7 0h3m11 0h3m0 0h3m6 0h3m-2 0h3m-43 1h3m4 0h3m25 0h3m-34 1h3m18 0h3m5 0h3m-43 1h3m33 0h3m-30 1h3m2 0h3m9 0h3m3 0h3m-1 0h3m14 0h3m-60 1h3m31 0h3m-23 1h3m-3 0h3m8 0h3m6 0h3m11 0h3m-39 1h3m13 2h3m-2 0h3m-27 1h3m9 0h3m22 0h3m-51 1h3m27 0h3m-2 1h3m16 0h3m-2 0h3m-19 1h3m1 0h3m-20 1h3m4 0h3m-2 0h3m-2 0h3m4 0h3m-16 1h3m-1 0h3m8 0h3m-17 1h3m6 0h3m-24 1h3m15 0h3m7 0h3m-46 1h3m19 0h3m2 0h3m5 0h3m1 0h3m8 0h3m8 0h3m4 0h3m-57 1h3m1 1h3m5 0h3m-1 0h3m-2 0h3m4 0h3m0 0h3m-13 1h3m6 0h3m-32 1h3m27 0h3m6 0h3m0 1h3m2 0h3m-61 1h3m65 0h3m-58 1h3m5 0h3m2 1h3m25 1h3m2 0h3m7 0h3m-39 1h3m-28 1h3m41 0h3m-40 1h3m5 0h3m4 0h3m2 0h3m-15 2h3m4 0h3m26 0h3m-25 1h3m-31 1h3m10 0h3m11 0h3m20 0h3m-50 1h3m3 0h3m5 0h3m5 0h3m-1 0h3m16 0h3m-31 1h3m12 0h3m-21 1h3m27 0h3m0 0h3m-60 1h3m20 1h3m17 1h3m-49 2h3m29 0h3m4 0h3m4 1h3m26 0h3m-61 2h3m18 0h3m-27 1h3m22 0h3m-14 1h3m17 0h3m13 1h3m-45 1h3m36 0h3m-57 1h3m22 0h3m-21 1h3m30 1h3m32 0h3m-43 1h3m-39 1h3m30 0h3m7 1h3m-15 1h3m4 0h3m1 0h3m-26 2h3m-5 3h3m7 0h3m-37 1h3m14 0h3m0 0h3m25 0h3m-72 2h3m59 0h3m-21 1h3m-28 1h3m1 0h3m12 0h3m25 1h3m-15 2h3m12 0h3m-66 1h3m49 2h3m28 0h3m-47 2h3m-22 1h3m40 1h3m-26 3h3m-54 2h3m74 1h3m-33 1h3m-9 1h3m24 6h3"/>
<path transform="scale(.5)" stroke="#777" stroke-width="2.8" d="M736 1343h3m-13 4h3m-25 2h3m-24 4h3m8 0h3m20 0h3m-24 5h3m44 4h3m-34 2h3m7 4h3m-36 4h3m7 4h3m33 0h3m-49 7h3m35 0h3m-15 1h3m34 4h3m-42 1h3m-25 4h3m1 0h3m19 1h3m2 0h3m-23 1h3m14 2h3m10 0h3m-51 1h3m14 0h3m6 3h3m40 1h3m-29 1h3m13 0h3m-16 2h3m-16 4h3m3 0h3m-32 2h3m14 0h3m34 1h3m-77 3h3m20 2h3m-4 1h3m45 1h3m-59 1h3m0 0h3m14 1h3m-18 1h3m20 0h3m-22 1h3m14 0h3m10 1h3m-39 2h3m26 0h3m-18 1h3m-30 1h3m16 1h3m-11 2h3m21 4h3m9 1h3m6 1h3m-23 3h3m8 8h3m-44 4h3m23 2h3m-24 3h3m19 5h3m-18 4h3m-25 6h3m23 0h3"/>
<path transform="scale(.5)" stroke="#111" stroke-width="2.6" d="M704 1340h3m-51 2h3m31 1h3m-58 2h3m15 1h3m41 1h3m13 0h3m-18 2h3m-28 1h3m-35 1h3m6 1h3m-23 2h3m64 0h3m-65 4h3m34 0h3m-36 1h3m15 0h3m35 1h3m-1 0h3m1 1h3m-20 1h3m110 0h3m-44 1h3m-92 1h3m7 0h3m7 0h3m13 0h3m29 0h3m5 0h3m-44 1h3m57 0h3m3 0h3m-67 1h3m96 0h3m-96 1h3m17 0h3m13 0h3m-120 2h3m21 0h3m46 2h3m0 0h3m-50 1h3m19 0h3m27 0h3m75 0h3m-165 1h3m53 0h3m-14 1h3m62 0h3m14 0h3m-116 2h3m52 1h3m-13 1h3m5 0h3m-64 4h3m18 1h3m11 0h3m58 0h3m0 0h3m-84 1h3m29 0h3m60 1h3m-91 1h3m8 0h3m122 0h3m-168 1h3m51 0h3m8 0h3m19 0h3m12 0h3m10 0h3m11 0h3m-121 1h3m24 0h3m8 0h3m-1 0h3m3 0h3m1 0h3m32 0h3m37 0h3m-124 1h3m11 0h3m24 0h3m21 0h3m20 0h3m7 0h3m65 0h3m-145 1h3m28 0h3m38 0h3m-100 1h3m19 0h3m6 0h3m-1 0h3m24 0h3m42 0h3m-86 1h3m120 0h3m-87 1h3m21 0h3m-74 1h3m24 0h3m3 0h3m-2 1h3m10 0h3m6 0h3m-77 1h3m24 0h3m22 0h3m26 0h3m3 0h3m-86 1h3m-1 0h3m6 0h3m25 0h3m29 0h3m-49 1h3m6 0h3m-17 1h3m69 0h3m-108 1h3m21 0h3m-25 1h3m4 0h3m3 0h3m23 0h3m34 0h3m6 0h3m-58 1h3m39 0h3m20 0h3m-83 1h3m2 0h3m22 0h3m20 0h3m7 0h3m33 0h3m12 0h3m-106 1h3m26 0h3m3 0h3m2 0h3m63 0h3m27 0h3m-119 1h3m23 0h3m16 0h3m2 0h3m-60 1h3m56 0h3m-78 1h3m17 0h3m30 0h3m13 0h3m25 0h3m-45 1h3m74 0h3m-160 1h3m25 0h3m21 0h3m52 0h3m8 0h3m21 1h3m-111 1h3m7 0h3m10 0h3m-2 0h3m84 0h3m-141 1h3m18 0h3m174 0h3m-172 1h3m13 0h3m14 0h3m50 0h3m-100 1h3m13 0h3m70 0h3m-105 1h3m8 0h3m5 0h3m12 0h3m28 0h3m-3 0h3m-67 1h3m7 0h3m71 0h3m14 0h3m-105 1h3m47 0h3m8 0h3m1 0h3m7 0h3m10 0h3m-89 1h3m8 0h3m32 0h3m0 0h3m5 0h3m-20 1h3m7 0h3m0 0h3m-2 0h3m-46 1h3m-2 0h3m21 0h3m0 0h3m15 0h3m3 0h3m-27 1h3m-26 1h3m7 0h3m38 0h3m7 0h3m-98 1h3m-2 0h3m-1 0h3m22 0h3m6 0h3m45 0h3m12 0h3m63 0h3m-118 1h3m1 0h3m33 0h3m10 0h3m2 0h3m20 0h3m-95 1h3m28 0h3m11 0h3m28 0h3m-2 0h3m-120 1h3m85 0h3m12 0h3m42 0h3m10 0h3m-89 1h3m12 0h3m25 0h3m-42 1h3m5 0h3m93 0h3m-140 1h3m55 0h3m-96 1h3m17 0h3m15 0h3m10 0h3m-54 1h3m26 0h3m2 0h3m17 0h3m3 0h3m18 0h3m83 0h3m-142 1h3m-3 0h3m40 0h3m7 0h3m2 0h3m-89 1h3m52 0h3m6 0h3m-75 1h3m29 0h3m104 0h3m-125 1h3m12 0h3m9 0h3m60 0h3m11 0h3m15 0h3m-125 1h3m37 0h3m8 0h3m11 0h3m1 0h3m1 0h3m8 0h3m-48 1h3m119 0h3m-168 1h3m73 0h3m-3 0h3m47 0h3m-17 1h3m-120 1h3m8 0h3m5 0h3m-3 0h3m23 0h3m47 0h3m-77 1h3m16 0h3m13 0h3m12 0h3m-3 0h3m6 0h3m1 0h3m7 0h3m-102 1h3m-1 0h3m22 0h3m58 0h3m16 0h3m8 0h3m-114 1h3m31 0h3m8 0h3m23 0h3m14 0h3m61 0h3m-136 1h3m12 0h3m8 0h3m21 0h3m47 0h3m-111 1h3m31 0h3m24 0h3m12 0h3m14 0h3m-81 1h3m28 0h3m-1 0h3m29 0h3m-86 1h3m72 0h3m16 0h3m1 0h3m16 0h3m-136 1h3m23 0h3m44 0h3m28 0h3m-103 1h3m20 0h3m-2 0h3m43 0h3m-80 1h3m0 0h3m48 0h3m10 0h3m8 0h3m26 0h3m44 0h3m-98 1h3m44 0h3m15 0h3m-63 1h3m79 0h3m6 0h3m-31 1h3m10 0h3m-118 1h3m60 0h3m97 0h3m-181 1h3m47 0h3m11 0h3m-79 2h3m63 0h3m27 0h3m3 0h3m-1 0h3m-71 2h3m5 0h3m42 0h3m-82 1h3m83 0h3m48 0h3m-149 1h3m3 0h3m3 0h3m72 0h3m111 0h3m-166 1h3m6 0h3m14 0h3m5 0h3m22 0h3m-68 1h3m24 0h3m4 0h3m-46 1h3m46 0h3m3 0h3m46 0h3m-125 1h3m52 0h3m8 0h3m42 0h3m-68 2h3m7 0h3m4 0h3m32 0h3m-81 1h3m56 0h3m21 0h3m-1 0h3m-96 1h3m77 0h3m58 0h3m-148 1h3m89 0h3m-56 1h3m18 0h3m4 0h3m4 0h3m37 0h3m-116 1h3m4 0h3m2 0h3m33 0h3m-29 1h3m19 0h3m7 0h3m10 0h3m-84 1h3m53 0h3m-33 1h3m52 0h3m3 0h3"/>
<path transform="scale(.5)" stroke="#777" stroke-width="2.6" d="M677 1342h3m69 0h3m-36 4h3m-25 1h3m63 0h3m-28 3h3m-84 3h3m40 0h3m11 0h3m5 0h3m-32 2h3m18 1h3m63 2h3m4 2h3m-158 1h3m140 0h3m-102 1h3m79 0h3m-43 3h3m8 0h3m42 3h3m-109 4h3m22 0h3m-11 1h3m20 1h3m41 0h3m-63 4h3m49 3h3m4 1h3m-115 2h3m24 0h3m-29 1h3m85 0h3m-92 1h3m34 0h3m92 0h3m-87 2h3m132 1h3m-162 2h3m112 1h3m-42 1h3m-95 1h3m34 1h3m49 0h3m15 0h3m-6 1h3m-64 1h3m17 0h3m9 1h3m26 0h3m59 0h3m-118 1h3m36 0h3m-26 1h3m-76 1h3m24 0h3m22 0h3m-9 1h3m43 1h3m-27 1h3m-78 1h3m128 0h3m-25 1h3m-109 1h3m-3 0h3m51 0h3m55 0h3m-90 2h3m8 0h3m25 0h3m48 0h3m-115 2h3m13 0h3m2 0h3m28 0h3m-41 1h3m13 0h3m-18 1h3m22 1h3m-24 1h3m9 0h3m34 0h3m-79 1h3m106 0h3m-111 1h3m23 0h3m48 0h3m-31 1h3m17 0h3m28 0h3m21 0h3m-50 1h3m-22 1h3m-1 0h3m-63 1h3m47 0h3m97 0h3m-157 1h3m20 0h3m5 0h3m33 0h3m1 1h3m49 0h3m-81 1h3m25 2h3m35 0h3m-34 1h3m-49 1h3m71 0h3m-32 2h3m-57 1h3m72 0h3m-6 1h3m-102 3h3m21 0h3m35 0h3m61 0h3m-110 1h3m64 0h3m22 0h3m-95 1h3m27 0h3m8 0h3m28 0h3m-22 1h3m5 0h3m-33 1h3m31 0h3m9 0h3m21 1h3m-71 1h3m57 0h3m-115 1h3m74 0h3m33 1h3m-84 1h3m124 0h3m-154 2h3m18 0h3m36 2h3m21 0h3m3 0h3m18 0h3m-43 1h3m-74 1h3m102 0h3m19 0h3m-68 2h3m-1 0h3m-73 1h3m67 0h3m-12 2h3m-42 1h3m104 1h3m-75 1h3m74 0h3m-99 1h3m66 0h3m-36 2h3m47 0h3m-55 2h3m13 0h3m-18 1h3m-8 3h3m-47 1h3m47 0h3m17 0h3m-70 1h3m11 0h3m29 0h3m17 0h3m-51 5h3m31 0h3m9 0h3m-33 1h3"/>
<path transform="scale(.5)" stroke="#111" stroke-width="2.6" d="M742 1283h3m7 1h3m-53 1h3m-21 31h3"/>
<path transform="scale(.5)" stroke="#777" stroke-width="2.6" d="M705 1307h3m-36 17h3"/>
<path transform="scale(.5)" stroke="#111" stroke-width="2.6" d="M771 1341h3m202 0h3m-201 2h3m-3 0h3m3 0h3m15 0h3m52 0h3m2 1h3m16 0h3m24 0h3m58 0h3m-46 1h3m-63 1h3m4 0h3m37 1h3m12 0h3m-163 1h3m-8 1h3m56 1h3m127 0h3m-164 2h3m16 0h3m8 0h3m115 1h3m-135 1h3m68 0h3m-16 1h3m24 0h3m25 0h3m41 0h3m-93 1h3m57 0h3m32 0h3m2 0h3m-201 1h3m29 0h3m-26 2h3m29 0h3m-2 0h3m87 0h3m2 0h3m40 0h3m0 0h3m-173 1h3m37 0h3m52 0h3m88 0h3m-1 1h3m-40 1h3m-139 2h3m15 0h3m16 2h3m96 0h3m19 0h3m-91 1h3m49 0h3m-149 2h3m28 0h3m15 1h3m25 2h3m35 0h3m-135 1h3m2 0h3m9 1h3m178 0h3m-201 1h3m72 0h3m104 0h3m-82 1h3m73 1h3m-77 2h3m100 0h3m-172 1h3m1 0h3m109 0h3m-127 1h3m-15 1h3m33 0h3m6 0h3m86 0h3m-130 1h3m-13 1h3m171 0h3m-75 1h3m-123 1h3m29 0h3m78 0h3m5 0h3m34 0h3m46 0h3m-165 1h3m31 0h3m7 1h3m26 0h3m5 0h3m55 0h3m-144 1h3m55 0h3m66 0h3m-6 1h3m-91 2h3m20 0h3m-62 1h3m51 0h3m52 0h3m-115 1h3m25 4h3m17 0h3m34 0h3m-7 1h3m73 0h3m-110 1h3m101 0h3m-168 1h3m110 0h3m-35 2h3m20 0h3m4 0h3m3 0h3m-129 1h3m6 0h3m1 0h3m14 1h3m55 1h3m36 0h3m-84 2h3m-45 1h3m16 0h3m141 1h3m-143 1h3m77 0h3m-48 1h3m2 1h3m-15 1h3m26 1h3m92 0h3m-201 4h3m200 0h3m-202 1h3m162 0h3m-150 1h3m20 0h3m150 1h3m-155 1h3m48 0h3m65 0h3m17 1h3m-172 1h3m4 0h3m23 0h3m96 0h3m-115 1h3m36 0h3m27 0h3m74 0h3m21 1h3m-130 1h3m56 0h3m73 0h3m-133 1h3m76 1h3m52 0h3m-51 1h3m34 0h3m-164 1h3m90 1h3m10 0h3m11 0h3m-101 1h3m97 0h3m-157 1h3m12 0h3m173 0h3m0 1h3m-110 2h3m28 0h3m62 0h3m-184 1h3m155 0h3m6 0h3m19 0h3m-8 1h3m-174 1h3m16 0h3m32 0h3m92 0h3m17 0h3m-165 1h3m16 0h3m-9 1h3m14 0h3m103 1h3m17 0h3m14 0h3m-172 1h3m31 0h3m40 0h3m29 0h3m-67 2h3m-70 1h3m132 1h3m-154 1h3m145 0h3m-14 1h3m72 0h3m-141 1h3m8 0h3m0 0h3m83 0h3m-171 1h3m3 1h3m172 1h3m25 0h3m-185 1h3m82 1h3m43 1h3m38 0h3m-120 1h3m100 0h3m-73 1h3m44 0h3m1 0h3m10 0h3m-176 1h3m89 0h3m55 0h3m16 0h3m10 0h3m-200 1h3m51 2h3m47 0h3m14 0h3m-123 1h3m77 0h3m4 0h3m50 0h3m-104 1h3m3 0h3m-19 1h3m83 0h3m3 2h3m67 1h3m-116 1h3m65 0h3m64 0h3m-181 1h3m126 0h3m-4 3h3"/>
<path transform="scale(.5)" stroke="#777" stroke-width="2.6" d="M833 1340h3m14 0h3m1 1h3m37 0h3m71 0h3m-173 1h3m163 0h3m-195 1h3m151 0h3m3 1h3m8 0h3m6 0h3m-17 3h3m-176 2h3m149 1h3m-126 1h3m15 1h3m79 0h3m15 0h3m-138 1h3m96 0h3m97 3h3m-208 2h3m161 0h3m28 0h3m-51 1h3m-113 2h3m53 0h3m31 1h3m42 0h3m23 0h3m-169 1h3m10 1h3m-55 1h3m79 0h3m-31 1h3m41 0h3m17 1h3m-93 3h3m156 0h3m-78 2h3m27 1h3m-12 1h3m-51 1h3m79 0h3m-141 2h3m3 0h3m23 0h3m112 0h3m-129 2h3m148 0h3m-203 1h3m47 0h3m19 1h3m65 0h3m20 0h3m29 0h3m-30 2h3m-106 2h3m105 0h3m38 0h3m-21 1h3m5 0h3m-133 1h3m29 0h3m-102 1h3m110 0h3m-24 4h3m-39 1h3m69 0h3m-136 1h3m-7 1h3m124 2h3m63 0h3m-55 1h3m-40 1h3m36 0h3m-51 1h3m15 0h3m-81 1h3m73 1h3m55 1h3m-98 1h3m24 3h3m-92 1h3m41 0h3m68 0h3m25 0h3m-115 1h3m88 0h3m-64 1h3m0 0h3m45 0h3m-129 1h3m126 0h3m16 0h3m-110 1h3m53 0h3m-94 1h3m70 0h3m105 0h3m4 1h3m-172 1h3m-10 2h3m37 1h3m-13 1h3m2 0h3m-34 3h3m122 0h3m-84 1h3m100 2h3m39 0h3m-149 1h3m87 0h3m43 0h3m-199 1h3m71 0h3m45 0h3m28 0h3m-75 1h3m24 0h3m20 0h3m22 0h3m-99 4h3m-28 1h3m-16 2h3m100 0h3m-43 1h3m21 0h3m-22 1h3m-95 1h3m59 3h3m0 1h3m123 1h3m-157 1h3m121 0h3m-82 2h3m17 0h3m8 0h3m28 1h3m-66 1h3m-16 1h3m-1 0h3m9 0h3m-77 1h3m65 2h3m11 0h3m-95 1h3m60 0h3m74 0h3m14 0h3m3 0h3m8 0h3m-93 1h3m5 1h3m48 0h3m-119 1h3m-12 1h3m192 1h3m-206 1h3m35 0h3m-8 1h3m123 1h3m36 0h3m-67 1h3m-103 2h3m105 0h3m-136 1h3m89 0h3m10 0h3m-72 3h3m31 0h3m75 0h3m-118 1h3m7 0h3m-40 1h3m65 0h3m114 0h3m-4 3h3m-47 1h3m24 0h3m-50 1h3"/>
<path transform="scale(.5)" stroke="#111" stroke-width="2.6" d="M922 1393h3m3 4h3m30 1h3m15 0h3m-25 3h3m-14 2h3m-13 3h3m15 0h3m9 1h3m-17 1h3m-35 6h3m11 4h3m31 0h3m-70 3h3m35 1h3m2 0h3m-24 1h3m13 0h3m3 0h3m1 2h3m16 1h3m0 0h3m-49 1h3m14 0h3m3 0h3m9 0h3m-40 1h3m18 0h3m8 0h3m-16 1h3m0 1h3m-41 2h3m38 0h3m31 0h3m-9 1h3m-50 1h3m23 0h3m-10 2h3m3 0h3m-21 1h3m21 0h3m17 0h3m-68 1h3m1 0h3m35 0h3m-38 1h3m19 1h3m2 0h3m-8 1h3m23 0h3m-36 2h3m-5 1h3m2 0h3m5 0h3m2 0h3m-40 2h3m14 0h3m13 0h3m12 0h3m-31 1h3m12 0h3m2 1h3m-44 1h3m28 1h3m-3 0h3m-21 1h3m14 0h3m-2 0h3m14 0h3m-48 1h3m-1 0h3m8 0h3m5 0h3m34 0h3m-59 2h3m5 0h3m-7 3h3m1 0h3m16 0h3m3 1h3m4 1h3m-31 1h3m-1 0h3m13 0h3m12 2h3m-23 1h3m1 0h3m-19 1h3m6 0h3m4 1h3m-32 2h3m12 2h3m11 0h3m-39 1h3m28 0h3m-1 0h3m28 2h3m-72 1h3m52 1h3"/>
<path transform="scale(.5)" stroke="#777" stroke-width="2.6" d="M943 1367h3m-28 18h3m-7 7h3m23 4h3m12 8h3m-18 8h3m20 0h3m-51 6h3m32 1h3m7 10h3m-49 1h3m31 0h3m-1 0h3m-37 2h3m29 1h3m-11 1h3m2 0h3m3 0h3m-9 1h3m-26 1h3m11 1h3m-1 0h3m6 1h3m-13 1h3m19 0h3m-20 3h3m-10 2h3m4 1h3m46 0h3m-50 1h3m-23 1h3m34 0h3m-30 1h3m18 1h3m-38 1h3m17 0h3m2 2h3m-42 1h3m43 0h3m20 0h3m-55 1h3m38 0h3m-47 5h3m23 0h3m-28 2h3m32 0h3m-31 4h3m20 4h3m10 0h3m-28 3h3m-5 2h3"/>
<path transform="scale(.5)" stroke="#222" stroke-width="2.6" d="M970 1196h3m-25 2h3m17 5h3m-36 6h3m19 0h3m-34 6h3m-1 1h3m29 6h3m7 4h3m-70 7h3m34 1h3m8 1h3m-17 4h3m23 1h3m-36 1h3m-40 1h3m43 0h3m-13 1h3m7 3h3m27 4h3m-55 1h3m33 1h3m-46 2h3m-35 1h3m21 8h3m21 0h3m-24 2h3m42 0h3m-80 1h3m85 0h3m1 1h3m-78 2h3m23 0h3m27 1h3m10 1h3m-79 6h3m-30 1h3m38 0h3m55 4h3m-92 2h3m62 0h3m30 7h3m-101 4h3m13 0h3m30 2h3m29 1h3m-118 1h3m118 0h3m-106 4h3m98 2h3m14 1h3m-160 1h3m127 0h3m-96 2h3m119 0h3m-105 5h3m72 1h3m23 3h3m-24 1h3m-76 1h3m-44 5h3m47 0h3m61 9h3"/>
<path transform="scale(.5)" stroke="#777" stroke-width="2.6" d="M972 1190h3m-4 15h3m-22 2h3m8 0h3m3 0h3m-48 10h3m-9 8h3m49 1h3m-45 7h3m-18 7h3m52 3h3m-17 2h3m-22 3h3m2 0h3m-19 5h3m-28 2h3m41 2h3m3 0h3m-97 13h3m76 1h3m-61 2h3m60 0h3m17 2h3m-67 6h3m65 1h3m-129 5h3m124 1h3m-110 1h3m53 0h3m-41 4h3m-39 3h3m91 2h3m33 1h3m-68 2h3m14 2h3m-3 0h3m40 4h3m-135 4h3m26 2h3m40 0h3m-28 7h3m49 1h3m-66 11h3m69 0h3m-69 1h3m82 0h3m-90 1h3"/>
<path transform="scale(.5)" stroke="#222" stroke-width="2.6" d="M970 1148h3m-238 75h3m-89 97h3"/>
<rect x="188.6" y="2.6" width="205" height="205.6" fill="none" stroke="#111" stroke-width="1.6"/>
<line x1="183" y1="23.5" x2="188" y2="23.5" stroke="#222" stroke-width="1.3"/>
<line x1="183" y1="43.7" x2="188" y2="43.7" stroke="#222" stroke-width="1.3"/>
<line x1="183" y1="64.6" x2="188" y2="64.6" stroke="#222" stroke-width="1.3"/>
<line x1="183" y1="85" x2="188" y2="85" stroke="#222" stroke-width="1.3"/>
<line x1="183" y1="105.4" x2="188" y2="105.4" stroke="#222" stroke-width="1.3"/>
<line x1="183" y1="126" x2="188" y2="126" stroke="#222" stroke-width="1.3"/>
<line x1="183" y1="146.4" x2="188" y2="146.4" stroke="#222" stroke-width="1.3"/>
<line x1="183" y1="166.8" x2="188" y2="166.8" stroke="#222" stroke-width="1.3"/>
<line x1="183" y1="187.2" x2="188" y2="187.2" stroke="#222" stroke-width="1.3"/>
<line x1="210.9" y1="208" x2="210.9" y2="214" stroke="#222" stroke-width="1.3"/>
<line x1="231.2" y1="208" x2="231.2" y2="214" stroke="#222" stroke-width="1.3"/>
<line x1="251.9" y1="208" x2="251.9" y2="214" stroke="#222" stroke-width="1.3"/>
<line x1="272.2" y1="208" x2="272.2" y2="214" stroke="#222" stroke-width="1.3"/>
<line x1="292.5" y1="208" x2="292.5" y2="214" stroke="#222" stroke-width="1.3"/>
<line x1="313.2" y1="208" x2="313.2" y2="214" stroke="#222" stroke-width="1.3"/>
<line x1="334" y1="208" x2="334" y2="214" stroke="#222" stroke-width="1.3"/>
<line x1="354.3" y1="208" x2="354.3" y2="214" stroke="#222" stroke-width="1.3"/>
<line x1="375" y1="208" x2="375" y2="214" stroke="#222" stroke-width="1.3"/>
<line x1="125" y1="310.2" x2="125" y2="515.4" stroke="#444" stroke-width="1.0"/>
<line x1="56.2" y1="444.6" x2="260.6" y2="444.6" stroke="#444" stroke-width="1.0"/>
<rect x="56.2" y="310.2" width="204.4" height="205.2" fill="none" stroke="#222" stroke-width="1.2"/>
<line x1="376.6" y1="307.6" x2="376.6" y2="513" stroke="#444" stroke-width="1.0"/>
<line x1="310.8" y1="446.9" x2="515" y2="446.9" stroke="#444" stroke-width="1.0"/>
<rect x="310.8" y="307.6" width="204.2" height="205.4" fill="none" stroke="#222" stroke-width="1.2"/>
<line x1="129.3" y1="533.8" x2="129.3" y2="738.9" stroke="#444" stroke-width="1.0"/>
<line x1="56.9" y1="668" x2="261.3" y2="668" stroke="#444" stroke-width="1.0"/>
<rect x="56.9" y="533.8" width="204.4" height="205.1" fill="none" stroke="#222" stroke-width="1.2"/>
<line x1="379.2" y1="533.3" x2="379.2" y2="738.6" stroke="#444" stroke-width="1.0"/>
<line x1="310.8" y1="668.7" x2="515.4" y2="668.7" stroke="#444" stroke-width="1.0"/>
<rect x="310.8" y="533.3" width="204.6" height="205.3" fill="none" stroke="#222" stroke-width="1.2"/>
<line x1="50" y1="362.5" x2="53.7" y2="362.5" stroke="#333" stroke-width="1.0"/>
<line x1="50.2" y1="413.1" x2="53.7" y2="413.1" stroke="#333" stroke-width="1.0"/>
<line x1="50.9" y1="465.8" x2="53.9" y2="465.8" stroke="#333" stroke-width="1.0"/>
<line x1="48.2" y1="585.8" x2="51.9" y2="585.8" stroke="#333" stroke-width="1.0"/>
<line x1="48.2" y1="636.4" x2="51.9" y2="636.4" stroke="#333" stroke-width="1.0"/>
<line x1="48.2" y1="689.5" x2="52.4" y2="689.5" stroke="#333" stroke-width="1.0"/>
<line x1="110" y1="745" x2="110" y2="748.4" stroke="#555" stroke-width="1.0"/>
<line x1="162" y1="745" x2="162" y2="748.4" stroke="#555" stroke-width="1.0"/>
<line x1="212.8" y1="745" x2="212.8" y2="748.4" stroke="#555" stroke-width="1.0"/>
<line x1="361.4" y1="741.4" x2="361.4" y2="744.5" stroke="#555" stroke-width="1.0"/>
<line x1="413.1" y1="741.4" x2="413.1" y2="744.5" stroke="#555" stroke-width="1.0"/>
<line x1="464.5" y1="741.4" x2="464.5" y2="744.5" stroke="#555" stroke-width="1.0"/>
<line x1="299.5" y1="10.5" x2="290" y2="25" stroke="#222" stroke-width="1.3"/>
<line x1="279.5" y1="39.5" x2="271.25" y2="52.5" stroke="#222" stroke-width="1.3"/>
<line x1="265" y1="67" x2="260.5" y2="80" stroke="#222" stroke-width="1.3"/>
<line x1="255.6" y1="94.8" x2="250.2" y2="109.6" stroke="#222" stroke-width="1.3"/>
<line x1="313.75" y1="8.75" x2="327.5" y2="7" stroke="#222" stroke-width="1.3"/>
<line x1="341.25" y1="17" x2="355.5" y2="30" stroke="#222" stroke-width="1.3"/>
<line x1="355.5" y1="44.5" x2="354.5" y2="58" stroke="#222" stroke-width="1.3"/>
<line x1="353" y1="72.5" x2="351.2" y2="86" stroke="#222" stroke-width="1.3"/>
<line x1="347.1" y1="97.5" x2="338.2" y2="114.5" stroke="#222" stroke-width="1.3"/>
<line x1="330.2" y1="128.5" x2="319.4" y2="139.8" stroke="#222" stroke-width="1.3"/>
<line x1="304.8" y1="150.5" x2="291.4" y2="160.8" stroke="#222" stroke-width="1.3"/>
<line x1="277.1" y1="172" x2="262.8" y2="179.6" stroke="#222" stroke-width="1.3"/>
<text transform="translate(152.95,115.35) rotate(-90)" font-family="Liberation Sans" font-weight="normal" font-style="normal" font-size="26.88" textLength="25.54" lengthAdjust="spacingAndGlyphs" stroke="#111" stroke-width="0.6" fill="#111">SS</text>
<text x="271.4" y="241.2" font-family="Liberation Sans" font-weight="normal" font-style="normal" font-size="25.17" textLength="26.4" lengthAdjust="spacingAndGlyphs" stroke="#111" stroke-width="0.5" fill="#111">FS</text>
<text x="218.1" y="277.3" font-family="Liberation Serif" font-weight="normal" font-style="normal" font-size="26.02" textLength="134.37" lengthAdjust="spacingAndGlyphs" stroke="#111" stroke-width="0.15" fill="#111">Gated on R1</text>
<text x="312.15" y="158.8" font-family="Liberation Sans" font-weight="normal" font-style="italic" font-size="19.47" textLength="21.51" lengthAdjust="spacingAndGlyphs" stroke="#111" stroke-width="0.3" fill="#111">R1</text>
<text transform="translate(22.15,439) rotate(-90)" font-family="Liberation Sans" font-weight="normal" font-style="normal" font-size="26.29" textLength="49.43" lengthAdjust="spacingAndGlyphs" stroke="#111" stroke-width="0.5" fill="#111">CD34</text>
<text transform="translate(300,431.45) rotate(-90)" font-family="Liberation Sans" font-weight="normal" font-style="normal" font-size="24.89" textLength="40.36" lengthAdjust="spacingAndGlyphs" stroke="#111" stroke-width="0.5" fill="#111">GPA</text>
<text transform="translate(21.05,663.9) rotate(-90)" font-family="Liberation Sans" font-weight="normal" font-style="normal" font-size="26.29" textLength="49.22" lengthAdjust="spacingAndGlyphs" stroke="#111" stroke-width="0.5" fill="#111">CD19</text>
<text transform="translate(299.4,682.4) rotate(-90)" font-family="Liberation Sans" font-weight="normal" font-style="normal" font-size="26.68" textLength="105.93" lengthAdjust="spacingAndGlyphs" stroke="#111" stroke-width="0.5" fill="#111">CD41/GPIIb</text>
<text x="136.45" y="794.2" font-family="Liberation Sans" font-weight="normal" font-style="normal" font-size="25.71" textLength="38.84" lengthAdjust="spacingAndGlyphs" stroke="#111" stroke-width="0.5" fill="#111">CD9</text>
<text x="395.2" y="793.3" font-family="Liberation Sans" font-weight="normal" font-style="normal" font-size="25.71" textLength="38.83" lengthAdjust="spacingAndGlyphs" stroke="#111" stroke-width="0.5" fill="#111">CD9</text>
<text x="62.4" y="330.9" font-family="Liberation Serif" font-weight="bold" font-style="normal" font-size="16.8" stroke="#111" stroke-width="0.3" fill="#111">4%</text>
<text x="222.1" y="328.7" font-family="Liberation Serif" font-weight="bold" font-style="normal" font-size="16.8" stroke="#111" stroke-width="0.3" fill="#111">11%</text>
<text x="64" y="463.2" font-family="Liberation Serif" font-weight="bold" font-style="normal" font-size="16.8" stroke="#111" stroke-width="0.3" fill="#111">67%</text>
<text x="219.1" y="464.5" font-family="Liberation Serif" font-weight="bold" font-style="normal" font-size="16.8" stroke="#111" stroke-width="0.3" fill="#111">17%</text>
<text x="316.3" y="329.7" font-family="Liberation Serif" font-weight="bold" font-style="normal" font-size="16.8" stroke="#111" stroke-width="0.3" fill="#111">41%</text>
<text x="469.4" y="328.4" font-family="Liberation Serif" font-weight="bold" font-style="normal" font-size="16.8" stroke="#111" stroke-width="0.3" fill="#111">0.2%</text>
<text x="314.2" y="463.8" font-family="Liberation Serif" font-weight="bold" font-style="normal" font-size="16.8" stroke="#111" stroke-width="0.3" fill="#111">36.5%</text>
<text x="463.9" y="463.5" font-family="Liberation Serif" font-weight="bold" font-style="normal" font-size="16.8" stroke="#111" stroke-width="0.3" fill="#111">23.3%</text>
<text x="67.5" y="554.4" font-family="Liberation Serif" font-weight="bold" font-style="normal" font-size="16.8" stroke="#111" stroke-width="0.3" fill="#111">4%</text>
<text x="226.5" y="554.7" font-family="Liberation Serif" font-weight="bold" font-style="normal" font-size="16.8" stroke="#111" stroke-width="0.3" fill="#111">2%</text>
<text x="66.4" y="687.6" font-family="Liberation Serif" font-weight="bold" font-style="normal" font-size="16.8" stroke="#111" stroke-width="0.3" fill="#111">76%</text>
<text x="219.8" y="687.6" font-family="Liberation Serif" font-weight="bold" font-style="normal" font-size="16.8" stroke="#111" stroke-width="0.3" fill="#111">18%</text>
<text x="322.1" y="554.1" font-family="Liberation Serif" font-weight="bold" font-style="normal" font-size="16.8" stroke="#111" stroke-width="0.3" fill="#111">0.1%</text>
<text x="475.2" y="554.7" font-family="Liberation Serif" font-weight="bold" font-style="normal" font-size="16.8" stroke="#111" stroke-width="0.3" fill="#111">2%</text>
<text x="316.7" y="688.4" font-family="Liberation Serif" font-weight="bold" font-style="normal" font-size="16.8" stroke="#111" stroke-width="0.3" fill="#111">76.6%</text>
<text x="464.7" y="688.4" font-family="Liberation Serif" font-weight="bold" font-style="normal" font-size="16.8" stroke="#111" stroke-width="0.3" fill="#111">21.3%</text>
<text x="29.9" y="366.2" font-family="Liberation Sans" font-weight="normal" font-style="normal" font-size="15" textLength="12.2" lengthAdjust="spacingAndGlyphs" stroke="#111" stroke-width="0.35" fill="#111">10</text>
<text x="43.65" y="362.2" font-family="Liberation Sans" font-weight="normal" font-style="normal" font-size="9.7" textLength="4.4" lengthAdjust="spacingAndGlyphs" stroke="#111" stroke-width="0.3" fill="#111">3</text>
<text x="30" y="416.5" font-family="Liberation Sans" font-weight="normal" font-style="normal" font-size="15" textLength="12.2" lengthAdjust="spacingAndGlyphs" stroke="#111" stroke-width="0.35" fill="#111">10</text>
<text x="43.95" y="412.2" font-family="Liberation Sans" font-weight="normal" font-style="normal" font-size="9.7" textLength="4.4" lengthAdjust="spacingAndGlyphs" stroke="#111" stroke-width="0.3" fill="#111">2</text>
<text x="30" y="469.6" font-family="Liberation Sans" font-weight="normal" font-style="normal" font-size="15" textLength="12.2" lengthAdjust="spacingAndGlyphs" stroke="#111" stroke-width="0.35" fill="#111">10</text>
<text x="43.15" y="464.9" font-family="Liberation Sans" font-weight="normal" font-style="normal" font-size="9.7" textLength="4.4" lengthAdjust="spacingAndGlyphs" stroke="#111" stroke-width="0.3" fill="#111">1</text>
<text x="28.3" y="589.1" font-family="Liberation Sans" font-weight="normal" font-style="normal" font-size="15" textLength="12.2" lengthAdjust="spacingAndGlyphs" stroke="#111" stroke-width="0.35" fill="#111">10</text>
<text x="42.15" y="584.2" font-family="Liberation Sans" font-weight="normal" font-style="normal" font-size="9.7" textLength="4.4" lengthAdjust="spacingAndGlyphs" stroke="#111" stroke-width="0.3" fill="#111">3</text>
<text x="28.5" y="640.3" font-family="Liberation Sans" font-weight="normal" font-style="normal" font-size="15" textLength="12.2" lengthAdjust="spacingAndGlyphs" stroke="#111" stroke-width="0.35" fill="#111">10</text>
<text x="42.35" y="635.4" font-family="Liberation Sans" font-weight="normal" font-style="normal" font-size="9.7" textLength="4.4" lengthAdjust="spacingAndGlyphs" stroke="#111" stroke-width="0.3" fill="#111">2</text>
<text x="28.7" y="693.6" font-family="Liberation Sans" font-weight="normal" font-style="normal" font-size="15" textLength="12.2" lengthAdjust="spacingAndGlyphs" stroke="#111" stroke-width="0.35" fill="#111">10</text>
<text x="41.75" y="688.7" font-family="Liberation Sans" font-weight="normal" font-style="normal" font-size="9.7" textLength="4.4" lengthAdjust="spacingAndGlyphs" stroke="#111" stroke-width="0.3" fill="#111">1</text>
<text x="103.2" y="762" font-family="Liberation Sans" font-weight="normal" font-style="normal" font-size="15" textLength="12.2" lengthAdjust="spacingAndGlyphs" stroke="#111" stroke-width="0.35" fill="#111">10</text>
<text x="116.75" y="756" font-family="Liberation Sans" font-weight="normal" font-style="normal" font-size="9.7" textLength="4.4" lengthAdjust="spacingAndGlyphs" stroke="#111" stroke-width="0.3" fill="#111">1</text>
<text x="155.6" y="762" font-family="Liberation Sans" font-weight="normal" font-style="normal" font-size="15" textLength="12.2" lengthAdjust="spacingAndGlyphs" stroke="#111" stroke-width="0.35" fill="#111">10</text>
<text x="169.55" y="756" font-family="Liberation Sans" font-weight="normal" font-style="normal" font-size="9.7" textLength="4.4" lengthAdjust="spacingAndGlyphs" stroke="#111" stroke-width="0.3" fill="#111">2</text>
<text x="206.8" y="762" font-family="Liberation Sans" font-weight="normal" font-style="normal" font-size="15" textLength="12.2" lengthAdjust="spacingAndGlyphs" stroke="#111" stroke-width="0.35" fill="#111">10</text>
<text x="219.75" y="756" font-family="Liberation Sans" font-weight="normal" font-style="normal" font-size="9.7" textLength="4.4" lengthAdjust="spacingAndGlyphs" stroke="#111" stroke-width="0.3" fill="#111">3</text>
<text x="354.5" y="758" font-family="Liberation Sans" font-weight="normal" font-style="normal" font-size="15" textLength="12.2" lengthAdjust="spacingAndGlyphs" stroke="#111" stroke-width="0.35" fill="#111">10</text>
<text x="368.15" y="752.9" font-family="Liberation Sans" font-weight="normal" font-style="normal" font-size="9.7" textLength="4.4" lengthAdjust="spacingAndGlyphs" stroke="#111" stroke-width="0.3" fill="#111">1</text>
<text x="406.3" y="758" font-family="Liberation Sans" font-weight="normal" font-style="normal" font-size="15" textLength="12.2" lengthAdjust="spacingAndGlyphs" stroke="#111" stroke-width="0.35" fill="#111">10</text>
<text x="420.55" y="752.5" font-family="Liberation Sans" font-weight="normal" font-style="normal" font-size="9.7" textLength="4.4" lengthAdjust="spacingAndGlyphs" stroke="#111" stroke-width="0.3" fill="#111">2</text>
<text x="457.7" y="758" font-family="Liberation Sans" font-weight="normal" font-style="normal" font-size="15" textLength="12.2" lengthAdjust="spacingAndGlyphs" stroke="#111" stroke-width="0.35" fill="#111">10</text>
<text x="471.65" y="752.5" font-family="Liberation Sans" font-weight="normal" font-style="normal" font-size="9.7" textLength="4.4" lengthAdjust="spacingAndGlyphs" stroke="#111" stroke-width="0.3" fill="#111">3</text>
</svg></body></html>
